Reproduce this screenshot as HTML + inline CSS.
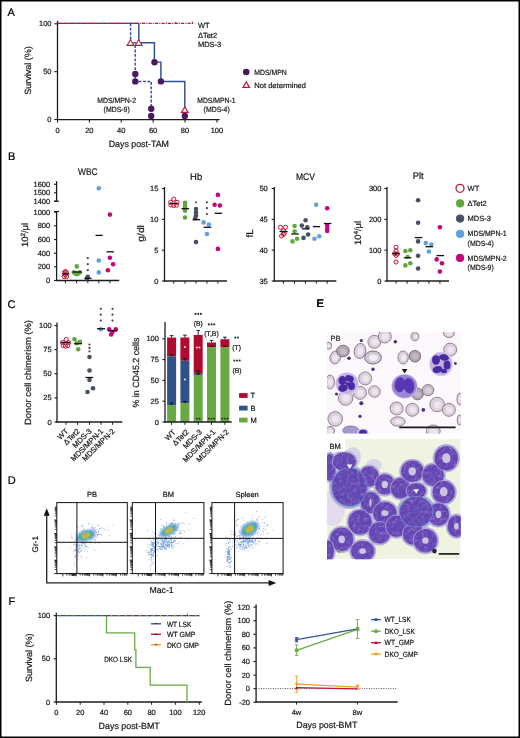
<!DOCTYPE html>
<html><head><meta charset="utf-8"><style>
html,body{margin:0;padding:0;background:#fff;}
svg{display:block;will-change:transform;}
text{font-family:"Liberation Sans", sans-serif;text-rendering:geometricPrecision;stroke:currentColor;stroke-width:0.22px;}
</style></head><body>
<svg width="520" height="738" viewBox="0 0 520 738">
<rect width="520" height="738" fill="#fff"/>
<rect x="0.75" y="0.75" width="518.5" height="736.5" fill="none" stroke="#000" stroke-width="1.5"/>
<text x="7.6" y="16" font-size="11" fill="#000" color="#000">A</text>
<text x="8.1" y="159.7" font-size="11" fill="#000" color="#000">B</text>
<text x="7.4" y="307.5" font-size="11" fill="#000" color="#000">C</text>
<text x="7.7" y="484" font-size="11" fill="#000" color="#000">D</text>
<text x="316.6" y="307" font-size="11" fill="#000" color="#000">E</text>
<text x="8.4" y="604.8" font-size="11" fill="#000" color="#000">F</text>
<line x1="57.50" y1="20.80" x2="57.50" y2="120.10" stroke="#1c1c1c" stroke-width="1.3"/>
<line x1="56.90" y1="119.70" x2="219.60" y2="119.70" stroke="#1c1c1c" stroke-width="1.3"/>
<line x1="54.30" y1="119.50" x2="57.50" y2="119.50" stroke="#1c1c1c" stroke-width="1.1"/>
<text x="51.5" y="122.1" font-size="7.5" text-anchor="end" fill="#1a1a1a" color="#1a1a1a">0</text>
<line x1="54.30" y1="71.65" x2="57.50" y2="71.65" stroke="#1c1c1c" stroke-width="1.1"/>
<text x="51.5" y="74.25" font-size="7.5" text-anchor="end" fill="#1a1a1a" color="#1a1a1a">50</text>
<line x1="54.30" y1="23.80" x2="57.50" y2="23.80" stroke="#1c1c1c" stroke-width="1.1"/>
<text x="51.5" y="26.4" font-size="7.5" text-anchor="end" fill="#1a1a1a" color="#1a1a1a">100</text>
<line x1="57.50" y1="119.50" x2="57.50" y2="122.60" stroke="#1c1c1c" stroke-width="1.1"/>
<text x="57.5" y="133" font-size="7.5" text-anchor="middle" fill="#1a1a1a" color="#1a1a1a">0</text>
<line x1="89.38" y1="119.50" x2="89.38" y2="122.60" stroke="#1c1c1c" stroke-width="1.1"/>
<text x="89.38" y="133" font-size="7.5" text-anchor="middle" fill="#1a1a1a" color="#1a1a1a">20</text>
<line x1="121.26" y1="119.50" x2="121.26" y2="122.60" stroke="#1c1c1c" stroke-width="1.1"/>
<text x="121.26" y="133" font-size="7.5" text-anchor="middle" fill="#1a1a1a" color="#1a1a1a">40</text>
<line x1="153.14" y1="119.50" x2="153.14" y2="122.60" stroke="#1c1c1c" stroke-width="1.1"/>
<text x="153.14" y="133" font-size="7.5" text-anchor="middle" fill="#1a1a1a" color="#1a1a1a">60</text>
<line x1="185.02" y1="119.50" x2="185.02" y2="122.60" stroke="#1c1c1c" stroke-width="1.1"/>
<text x="185.02" y="133" font-size="7.5" text-anchor="middle" fill="#1a1a1a" color="#1a1a1a">80</text>
<line x1="216.90" y1="119.50" x2="216.90" y2="122.60" stroke="#1c1c1c" stroke-width="1.1"/>
<text x="216.9" y="133" font-size="7.5" text-anchor="middle" fill="#1a1a1a" color="#1a1a1a">100</text>
<text x="0" y="0" font-size="9" text-anchor="middle" textLength="48.5" lengthAdjust="spacingAndGlyphs" fill="#1a1a1a" color="#1a1a1a" transform="translate(31.4,70.4) rotate(-90)">Survival (%)</text>
<text x="138.8" y="146.8" font-size="9" text-anchor="middle" textLength="60.2" lengthAdjust="spacingAndGlyphs" fill="#1a1a1a" color="#1a1a1a">Days post-TAM</text>
<line x1="57.50" y1="23.40" x2="138.80" y2="23.40" stroke="#2c5090" stroke-width="1.35"/>
<path d="M138.8 23.4 V42.8 H154.4 V62.1 H160.9 V81.4 H184.8 V110" stroke="#2c5090" stroke-width="1.45" fill="none"/>
<path d="M130.6 23.4 V42.8 H135.2 V81.4 H151.2 V107" stroke="#2c5090" stroke-width="1.45" fill="none" stroke-dasharray="2.8 1.6"/>
<path d="M57.5 23.4 H193" stroke="#c0143c" stroke-width="1.35" fill="none" stroke-dasharray="3.2 1.1 1.1 1.1"/>
<line x1="175.80" y1="21.60" x2="175.80" y2="24.00" stroke="#c0143c" stroke-width="0.9"/>
<line x1="192.40" y1="21.60" x2="192.40" y2="24.00" stroke="#c0143c" stroke-width="0.9"/>
<path d="M130.50 39.80 L127.10 45.30 L133.90 45.30 Z" fill="#fff" stroke="#c0143c" stroke-width="1.15" stroke-linejoin="miter"/>
<path d="M138.70 39.80 L135.30 45.30 L142.10 45.30 Z" fill="#fff" stroke="#c0143c" stroke-width="1.15" stroke-linejoin="miter"/>
<path d="M184.80 106.90 L181.40 112.40 L188.20 112.40 Z" fill="#fff" stroke="#c0143c" stroke-width="1.15" stroke-linejoin="miter"/>
<circle cx="154.50" cy="62.20" r="3.2" fill="#4a1a5e"/>
<circle cx="160.90" cy="81.40" r="3.2" fill="#4a1a5e"/>
<circle cx="135.30" cy="74.00" r="3.2" fill="#4a1a5e"/>
<circle cx="135.30" cy="81.40" r="3.2" fill="#4a1a5e"/>
<circle cx="151.20" cy="108.80" r="3.2" fill="#4a1a5e"/>
<circle cx="151.20" cy="116.00" r="3.2" fill="#4a1a5e"/>
<circle cx="184.80" cy="116.00" r="3.2" fill="#4a1a5e"/>
<text x="197.9" y="28.3" font-size="7.5" fill="#1a1a1a" color="#1a1a1a">WT</text>
<text x="197.9" y="37.8" font-size="7.5" fill="#1a1a1a" color="#1a1a1a">&#916;Tet2</text>
<text x="197.9" y="47" font-size="7.5" fill="#1a1a1a" color="#1a1a1a">MDS-3</text>
<text x="116.6" y="102.7" font-size="7.5" text-anchor="middle" textLength="38.9" lengthAdjust="spacingAndGlyphs" fill="#1a1a1a" color="#1a1a1a">MDS/MPN-2</text>
<text x="116.7" y="111.9" font-size="7.5" text-anchor="middle" textLength="26.2" lengthAdjust="spacingAndGlyphs" fill="#1a1a1a" color="#1a1a1a">(MDS-9)</text>
<text x="216.4" y="102.6" font-size="7.5" text-anchor="middle" textLength="38.4" lengthAdjust="spacingAndGlyphs" fill="#1a1a1a" color="#1a1a1a">MDS/MPN-1</text>
<text x="216.7" y="111.9" font-size="7.5" text-anchor="middle" textLength="26.2" lengthAdjust="spacingAndGlyphs" fill="#1a1a1a" color="#1a1a1a">(MDS-4)</text>
<circle cx="246.20" cy="72.00" r="3.3" fill="#4a1a5e"/>
<text x="254.3" y="75.4" font-size="7.5" textLength="32.5" lengthAdjust="spacingAndGlyphs" fill="#1a1a1a" color="#1a1a1a">MDS/MPN</text>
<path d="M246.20 81.90 L242.90 87.40 L249.50 87.40 Z" fill="#fff" stroke="#c0143c" stroke-width="1.15" stroke-linejoin="miter"/>
<text x="254.3" y="87.8" font-size="7.5" textLength="51.7" lengthAdjust="spacingAndGlyphs" fill="#1a1a1a" color="#1a1a1a">Not determined</text>
<line x1="56.60" y1="211.50" x2="56.60" y2="281.10" stroke="#1c1c1c" stroke-width="1.3"/>
<line x1="56.00" y1="280.50" x2="119.20" y2="280.50" stroke="#1c1c1c" stroke-width="1.3"/>
<line x1="54.20" y1="211.50" x2="59.00" y2="211.50" stroke="#1c1c1c" stroke-width="1.2"/>
<line x1="54.00" y1="280.50" x2="56.60" y2="280.50" stroke="#1c1c1c" stroke-width="1.1"/>
<text x="50.2" y="283.0" font-size="7.5" text-anchor="end" fill="#1a1a1a" color="#1a1a1a">0</text>
<line x1="54.00" y1="266.84" x2="56.60" y2="266.84" stroke="#1c1c1c" stroke-width="1.1"/>
<text x="50.2" y="269.34" font-size="7.5" text-anchor="end" fill="#1a1a1a" color="#1a1a1a">200</text>
<line x1="54.00" y1="253.18" x2="56.60" y2="253.18" stroke="#1c1c1c" stroke-width="1.1"/>
<text x="50.2" y="255.68" font-size="7.5" text-anchor="end" fill="#1a1a1a" color="#1a1a1a">400</text>
<line x1="54.00" y1="239.52" x2="56.60" y2="239.52" stroke="#1c1c1c" stroke-width="1.1"/>
<text x="50.2" y="242.02" font-size="7.5" text-anchor="end" fill="#1a1a1a" color="#1a1a1a">600</text>
<line x1="54.00" y1="225.86" x2="56.60" y2="225.86" stroke="#1c1c1c" stroke-width="1.1"/>
<text x="50.2" y="228.36" font-size="7.5" text-anchor="end" fill="#1a1a1a" color="#1a1a1a">800</text>
<line x1="54.00" y1="212.20" x2="56.60" y2="212.20" stroke="#1c1c1c" stroke-width="1.1"/>
<text x="50.2" y="214.7" font-size="7.5" text-anchor="end" fill="#1a1a1a" color="#1a1a1a">1000</text>
<line x1="56.60" y1="181.20" x2="56.60" y2="201.20" stroke="#1c1c1c" stroke-width="1.3"/>
<line x1="54.20" y1="201.20" x2="59.00" y2="201.20" stroke="#1c1c1c" stroke-width="1.2"/>
<line x1="54.00" y1="184.30" x2="56.60" y2="184.30" stroke="#1c1c1c" stroke-width="1.1"/>
<text x="50.2" y="186.8" font-size="7.5" text-anchor="end" fill="#1a1a1a" color="#1a1a1a">1600</text>
<line x1="54.00" y1="192.80" x2="56.60" y2="192.80" stroke="#1c1c1c" stroke-width="1.1"/>
<text x="50.2" y="195.3" font-size="7.5" text-anchor="end" fill="#1a1a1a" color="#1a1a1a">1500</text>
<line x1="54.00" y1="201.20" x2="56.60" y2="201.20" stroke="#1c1c1c" stroke-width="1.1"/>
<text x="50.2" y="203.7" font-size="7.5" text-anchor="end" fill="#1a1a1a" color="#1a1a1a">1400</text>
<line x1="65.40" y1="280.50" x2="65.40" y2="283.20" stroke="#1c1c1c" stroke-width="1.0"/>
<line x1="76.60" y1="280.50" x2="76.60" y2="283.20" stroke="#1c1c1c" stroke-width="1.0"/>
<line x1="87.80" y1="280.50" x2="87.80" y2="283.20" stroke="#1c1c1c" stroke-width="1.0"/>
<line x1="98.80" y1="280.50" x2="98.80" y2="283.20" stroke="#1c1c1c" stroke-width="1.0"/>
<line x1="109.90" y1="280.50" x2="109.90" y2="283.20" stroke="#1c1c1c" stroke-width="1.0"/>
<text x="87.75" y="174.5" font-size="9.6" text-anchor="middle" textLength="19.5" lengthAdjust="spacingAndGlyphs" fill="#1a1a1a" color="#1a1a1a">WBC</text>
<text x="0" y="0" font-size="9.2" text-anchor="middle" fill="#1a1a1a" color="#1a1a1a" textLength="24.2" lengthAdjust="spacingAndGlyphs" transform="translate(28.3,235) rotate(-90)">10<tspan font-size="6.2" dy="-3.4">2</tspan><tspan dy="3.4">/&#956;l</tspan></text>
<line x1="164.50" y1="187.00" x2="164.50" y2="281.60" stroke="#1c1c1c" stroke-width="1.3"/>
<line x1="163.90" y1="281.00" x2="227.00" y2="281.00" stroke="#1c1c1c" stroke-width="1.3"/>
<line x1="161.90" y1="281.00" x2="164.50" y2="281.00" stroke="#1c1c1c" stroke-width="1.1"/>
<text x="158.4" y="283.5" font-size="7.5" text-anchor="end" fill="#1a1a1a" color="#1a1a1a">0</text>
<line x1="161.90" y1="250.20" x2="164.50" y2="250.20" stroke="#1c1c1c" stroke-width="1.1"/>
<text x="158.4" y="252.7" font-size="7.5" text-anchor="end" fill="#1a1a1a" color="#1a1a1a">5</text>
<line x1="161.90" y1="219.40" x2="164.50" y2="219.40" stroke="#1c1c1c" stroke-width="1.1"/>
<text x="158.4" y="221.9" font-size="7.5" text-anchor="end" fill="#1a1a1a" color="#1a1a1a">10</text>
<line x1="161.90" y1="188.60" x2="164.50" y2="188.60" stroke="#1c1c1c" stroke-width="1.1"/>
<text x="158.4" y="191.1" font-size="7.5" text-anchor="end" fill="#1a1a1a" color="#1a1a1a">15</text>
<line x1="173.80" y1="281.00" x2="173.80" y2="283.70" stroke="#1c1c1c" stroke-width="1.0"/>
<line x1="185.00" y1="281.00" x2="185.00" y2="283.70" stroke="#1c1c1c" stroke-width="1.0"/>
<line x1="196.00" y1="281.00" x2="196.00" y2="283.70" stroke="#1c1c1c" stroke-width="1.0"/>
<line x1="206.90" y1="281.00" x2="206.90" y2="283.70" stroke="#1c1c1c" stroke-width="1.0"/>
<line x1="217.90" y1="281.00" x2="217.90" y2="283.70" stroke="#1c1c1c" stroke-width="1.0"/>
<text x="196.1" y="180" font-size="9.6" text-anchor="middle" textLength="12.1" lengthAdjust="spacingAndGlyphs" fill="#1a1a1a" color="#1a1a1a">Hb</text>
<text x="0" y="0" font-size="9.6" text-anchor="middle" textLength="16.6" lengthAdjust="spacingAndGlyphs" fill="#1a1a1a" color="#1a1a1a" transform="translate(143.8,233.4) rotate(-90)">g/dl</text>
<line x1="274.30" y1="187.00" x2="274.30" y2="281.60" stroke="#1c1c1c" stroke-width="1.3"/>
<line x1="273.70" y1="281.00" x2="336.30" y2="281.00" stroke="#1c1c1c" stroke-width="1.3"/>
<line x1="271.70" y1="281.00" x2="274.30" y2="281.00" stroke="#1c1c1c" stroke-width="1.1"/>
<text x="267.8" y="283.5" font-size="7.5" text-anchor="end" fill="#1a1a1a" color="#1a1a1a">35</text>
<line x1="271.70" y1="250.20" x2="274.30" y2="250.20" stroke="#1c1c1c" stroke-width="1.1"/>
<text x="267.8" y="252.7" font-size="7.5" text-anchor="end" fill="#1a1a1a" color="#1a1a1a">40</text>
<line x1="271.70" y1="219.40" x2="274.30" y2="219.40" stroke="#1c1c1c" stroke-width="1.1"/>
<text x="267.8" y="221.9" font-size="7.5" text-anchor="end" fill="#1a1a1a" color="#1a1a1a">45</text>
<line x1="271.70" y1="188.60" x2="274.30" y2="188.60" stroke="#1c1c1c" stroke-width="1.1"/>
<text x="267.8" y="191.1" font-size="7.5" text-anchor="end" fill="#1a1a1a" color="#1a1a1a">50</text>
<line x1="283.40" y1="281.00" x2="283.40" y2="283.70" stroke="#1c1c1c" stroke-width="1.0"/>
<line x1="294.50" y1="281.00" x2="294.50" y2="283.70" stroke="#1c1c1c" stroke-width="1.0"/>
<line x1="305.40" y1="281.00" x2="305.40" y2="283.70" stroke="#1c1c1c" stroke-width="1.0"/>
<line x1="316.30" y1="281.00" x2="316.30" y2="283.70" stroke="#1c1c1c" stroke-width="1.0"/>
<line x1="327.20" y1="281.00" x2="327.20" y2="283.70" stroke="#1c1c1c" stroke-width="1.0"/>
<text x="305.5" y="180" font-size="9.6" text-anchor="middle" textLength="19" lengthAdjust="spacingAndGlyphs" fill="#1a1a1a" color="#1a1a1a">MCV</text>
<text x="0" y="0" font-size="9.6" text-anchor="middle" textLength="8.4" lengthAdjust="spacingAndGlyphs" fill="#1a1a1a" color="#1a1a1a" transform="translate(253.3,233.4) rotate(-90)">fL</text>
<line x1="387.00" y1="187.00" x2="387.00" y2="281.60" stroke="#1c1c1c" stroke-width="1.3"/>
<line x1="386.40" y1="281.00" x2="449.00" y2="281.00" stroke="#1c1c1c" stroke-width="1.3"/>
<line x1="384.40" y1="281.00" x2="387.00" y2="281.00" stroke="#1c1c1c" stroke-width="1.1"/>
<text x="381.4" y="283.5" font-size="7.5" text-anchor="end" fill="#1a1a1a" color="#1a1a1a">0</text>
<line x1="384.40" y1="250.20" x2="387.00" y2="250.20" stroke="#1c1c1c" stroke-width="1.1"/>
<text x="381.4" y="252.7" font-size="7.5" text-anchor="end" fill="#1a1a1a" color="#1a1a1a">100</text>
<line x1="384.40" y1="219.40" x2="387.00" y2="219.40" stroke="#1c1c1c" stroke-width="1.1"/>
<text x="381.4" y="221.9" font-size="7.5" text-anchor="end" fill="#1a1a1a" color="#1a1a1a">200</text>
<line x1="384.40" y1="188.60" x2="387.00" y2="188.60" stroke="#1c1c1c" stroke-width="1.1"/>
<text x="381.4" y="191.1" font-size="7.5" text-anchor="end" fill="#1a1a1a" color="#1a1a1a">300</text>
<line x1="396.10" y1="281.00" x2="396.10" y2="283.70" stroke="#1c1c1c" stroke-width="1.0"/>
<line x1="407.10" y1="281.00" x2="407.10" y2="283.70" stroke="#1c1c1c" stroke-width="1.0"/>
<line x1="418.10" y1="281.00" x2="418.10" y2="283.70" stroke="#1c1c1c" stroke-width="1.0"/>
<line x1="428.90" y1="281.00" x2="428.90" y2="283.70" stroke="#1c1c1c" stroke-width="1.0"/>
<line x1="439.90" y1="281.00" x2="439.90" y2="283.70" stroke="#1c1c1c" stroke-width="1.0"/>
<text x="418.2" y="178.7" font-size="9.6" text-anchor="middle" textLength="10.8" lengthAdjust="spacingAndGlyphs" fill="#1a1a1a" color="#1a1a1a">Plt</text>
<text x="0" y="0" font-size="9.2" text-anchor="middle" fill="#1a1a1a" color="#1a1a1a" textLength="24" lengthAdjust="spacingAndGlyphs" transform="translate(361,232.9) rotate(-90)">10<tspan font-size="6.2" dy="-3.4">4</tspan><tspan dy="3.4">/&#956;l</tspan></text>
<circle cx="64.30" cy="272.60" r="2.05" fill="none" stroke="#c0143c" stroke-width="1.0"/>
<circle cx="66.50" cy="272.60" r="2.05" fill="none" stroke="#c0143c" stroke-width="1.0"/>
<circle cx="65.40" cy="274.80" r="2.05" fill="none" stroke="#c0143c" stroke-width="1.0"/>
<circle cx="64.20" cy="276.60" r="2.05" fill="none" stroke="#c0143c" stroke-width="1.0"/>
<circle cx="66.60" cy="276.60" r="2.05" fill="none" stroke="#c0143c" stroke-width="1.0"/>
<circle cx="65.40" cy="271.50" r="2.05" fill="none" stroke="#c0143c" stroke-width="1.0"/>
<line x1="62.50" y1="273.90" x2="69.30" y2="273.90" stroke="#111" stroke-width="1.3"/>
<circle cx="76.80" cy="266.40" r="2.3" fill="#62a640"/>
<circle cx="73.80" cy="272.20" r="2.3" fill="#62a640"/>
<circle cx="79.80" cy="272.20" r="2.3" fill="#62a640"/>
<circle cx="75.30" cy="273.40" r="2.3" fill="#62a640"/>
<circle cx="78.30" cy="273.40" r="2.3" fill="#62a640"/>
<circle cx="76.80" cy="274.20" r="2.3" fill="#62a640"/>
<line x1="72.60" y1="272.00" x2="82.00" y2="272.00" stroke="#111" stroke-width="1.3"/>
<circle cx="87.80" cy="258.20" r="1.1" fill="#444"/>
<circle cx="87.80" cy="264.20" r="1.1" fill="#444"/>
<circle cx="87.80" cy="270.20" r="1.1" fill="#444"/>
<circle cx="87.80" cy="276.90" r="2.3" fill="#485065"/>
<circle cx="87.10" cy="278.30" r="2.3" fill="#485065"/>
<line x1="84.40" y1="278.40" x2="91.60" y2="278.40" stroke="#111" stroke-width="1.3"/>
<circle cx="98.80" cy="188.20" r="2.3" fill="#5fa3dc"/>
<circle cx="98.80" cy="260.50" r="2.3" fill="#5fa3dc"/>
<circle cx="98.80" cy="272.40" r="2.3" fill="#5fa3dc"/>
<line x1="95.50" y1="235.40" x2="102.70" y2="235.40" stroke="#111" stroke-width="1.3"/>
<circle cx="109.90" cy="214.60" r="2.3" fill="#c5067a"/>
<circle cx="109.90" cy="257.80" r="2.3" fill="#c5067a"/>
<circle cx="113.10" cy="264.20" r="2.3" fill="#c5067a"/>
<circle cx="107.90" cy="270.20" r="2.3" fill="#c5067a"/>
<line x1="106.50" y1="251.80" x2="113.90" y2="251.80" stroke="#111" stroke-width="1.3"/>
<circle cx="170.60" cy="202.30" r="2.05" fill="none" stroke="#c0143c" stroke-width="1.0"/>
<circle cx="173.80" cy="199.10" r="2.05" fill="none" stroke="#c0143c" stroke-width="1.0"/>
<circle cx="177.00" cy="202.30" r="2.05" fill="none" stroke="#c0143c" stroke-width="1.0"/>
<circle cx="173.80" cy="205.50" r="2.05" fill="none" stroke="#c0143c" stroke-width="1.0"/>
<circle cx="170.90" cy="205.00" r="2.05" fill="none" stroke="#c0143c" stroke-width="1.0"/>
<circle cx="176.50" cy="205.20" r="2.05" fill="none" stroke="#c0143c" stroke-width="1.0"/>
<line x1="169.70" y1="203.40" x2="178.10" y2="203.40" stroke="#111" stroke-width="1.3"/>
<circle cx="185.00" cy="202.70" r="2.3" fill="#62a640"/>
<circle cx="185.00" cy="205.00" r="2.3" fill="#62a640"/>
<circle cx="185.00" cy="207.60" r="2.3" fill="#62a640"/>
<circle cx="185.00" cy="210.80" r="2.3" fill="#62a640"/>
<circle cx="185.00" cy="217.50" r="2.3" fill="#62a640"/>
<line x1="181.50" y1="208.70" x2="189.10" y2="208.70" stroke="#111" stroke-width="1.3"/>
<circle cx="196.00" cy="202.30" r="0.95" fill="#444"/>
<circle cx="196.00" cy="209.00" r="2.3" fill="#485065"/>
<circle cx="196.00" cy="212.50" r="2.3" fill="#485065"/>
<circle cx="196.00" cy="215.40" r="2.3" fill="#485065"/>
<circle cx="195.20" cy="218.20" r="2.3" fill="#485065"/>
<circle cx="196.00" cy="242.10" r="2.3" fill="#485065"/>
<line x1="192.60" y1="219.70" x2="200.20" y2="219.70" stroke="#111" stroke-width="1.3"/>
<circle cx="206.90" cy="202.30" r="1.1" fill="#444"/>
<circle cx="206.90" cy="208.20" r="1.1" fill="#444"/>
<circle cx="206.90" cy="214.10" r="1.1" fill="#444"/>
<circle cx="203.60" cy="222.40" r="2.3" fill="#5fa3dc"/>
<circle cx="208.90" cy="224.50" r="2.3" fill="#5fa3dc"/>
<circle cx="206.90" cy="234.00" r="2.3" fill="#5fa3dc"/>
<line x1="203.70" y1="227.30" x2="211.30" y2="227.30" stroke="#111" stroke-width="1.3"/>
<circle cx="217.90" cy="194.90" r="2.3" fill="#c5067a"/>
<circle cx="214.60" cy="204.80" r="2.3" fill="#c5067a"/>
<circle cx="219.90" cy="205.50" r="2.3" fill="#c5067a"/>
<circle cx="217.90" cy="248.90" r="2.3" fill="#c5067a"/>
<line x1="214.70" y1="213.30" x2="222.10" y2="213.30" stroke="#111" stroke-width="1.3"/>
<circle cx="280.40" cy="227.30" r="2.05" fill="none" stroke="#c0143c" stroke-width="1.0"/>
<circle cx="285.50" cy="227.30" r="2.05" fill="none" stroke="#c0143c" stroke-width="1.0"/>
<circle cx="283.40" cy="230.90" r="2.05" fill="none" stroke="#c0143c" stroke-width="1.0"/>
<circle cx="283.40" cy="234.30" r="2.05" fill="none" stroke="#c0143c" stroke-width="1.0"/>
<circle cx="281.60" cy="236.00" r="2.05" fill="none" stroke="#c0143c" stroke-width="1.0"/>
<circle cx="284.30" cy="233.20" r="2.05" fill="none" stroke="#c0143c" stroke-width="1.0"/>
<line x1="279.60" y1="231.50" x2="287.60" y2="231.50" stroke="#111" stroke-width="1.3"/>
<circle cx="294.60" cy="226.00" r="2.3" fill="#62a640"/>
<circle cx="294.60" cy="231.50" r="2.3" fill="#62a640"/>
<circle cx="292.50" cy="241.40" r="2.3" fill="#62a640"/>
<circle cx="297.10" cy="238.70" r="2.3" fill="#62a640"/>
<line x1="291.20" y1="234.00" x2="298.80" y2="234.00" stroke="#111" stroke-width="1.3"/>
<circle cx="305.60" cy="220.30" r="2.3" fill="#485065"/>
<circle cx="301.80" cy="225.60" r="2.3" fill="#485065"/>
<circle cx="307.30" cy="227.30" r="2.3" fill="#485065"/>
<circle cx="308.10" cy="234.50" r="2.3" fill="#485065"/>
<circle cx="303.50" cy="237.90" r="2.3" fill="#485065"/>
<line x1="301.80" y1="228.80" x2="309.40" y2="228.80" stroke="#111" stroke-width="1.3"/>
<circle cx="316.20" cy="204.80" r="2.3" fill="#5fa3dc"/>
<circle cx="314.50" cy="238.70" r="2.3" fill="#5fa3dc"/>
<circle cx="319.30" cy="236.20" r="2.3" fill="#5fa3dc"/>
<line x1="312.90" y1="226.60" x2="320.10" y2="226.60" stroke="#111" stroke-width="1.3"/>
<circle cx="327.20" cy="208.20" r="2.3" fill="#c5067a"/>
<circle cx="327.20" cy="225.60" r="2.3" fill="#c5067a"/>
<circle cx="327.20" cy="228.80" r="2.3" fill="#c5067a"/>
<circle cx="327.20" cy="230.90" r="2.3" fill="#c5067a"/>
<line x1="323.80" y1="223.50" x2="331.40" y2="223.50" stroke="#111" stroke-width="1.3"/>
<circle cx="396.10" cy="247.20" r="2.05" fill="none" stroke="#c0143c" stroke-width="1.0"/>
<circle cx="396.10" cy="250.70" r="2.05" fill="none" stroke="#c0143c" stroke-width="1.0"/>
<circle cx="394.60" cy="253.60" r="2.05" fill="none" stroke="#c0143c" stroke-width="1.0"/>
<circle cx="397.40" cy="254.00" r="2.05" fill="none" stroke="#c0143c" stroke-width="1.0"/>
<circle cx="396.10" cy="255.40" r="2.05" fill="none" stroke="#c0143c" stroke-width="1.0"/>
<circle cx="396.10" cy="262.00" r="2.05" fill="none" stroke="#c0143c" stroke-width="1.0"/>
<line x1="392.30" y1="253.50" x2="399.70" y2="253.50" stroke="#111" stroke-width="1.3"/>
<circle cx="405.40" cy="251.00" r="2.3" fill="#62a640"/>
<circle cx="410.30" cy="250.30" r="2.3" fill="#62a640"/>
<circle cx="405.40" cy="265.40" r="2.3" fill="#62a640"/>
<circle cx="410.30" cy="263.20" r="2.3" fill="#62a640"/>
<circle cx="407.60" cy="257.00" r="2.3" fill="#62a640"/>
<line x1="403.80" y1="257.70" x2="411.40" y2="257.70" stroke="#111" stroke-width="1.3"/>
<circle cx="418.10" cy="200.20" r="2.3" fill="#485065"/>
<circle cx="418.10" cy="222.80" r="2.3" fill="#485065"/>
<circle cx="418.10" cy="241.40" r="2.3" fill="#485065"/>
<circle cx="418.10" cy="255.80" r="2.3" fill="#485065"/>
<circle cx="418.10" cy="268.50" r="2.3" fill="#485065"/>
<line x1="414.80" y1="237.60" x2="422.40" y2="237.60" stroke="#111" stroke-width="1.3"/>
<circle cx="425.70" cy="243.10" r="2.3" fill="#5fa3dc"/>
<circle cx="431.40" cy="244.60" r="2.3" fill="#5fa3dc"/>
<circle cx="428.90" cy="251.60" r="2.3" fill="#5fa3dc"/>
<line x1="425.50" y1="246.70" x2="433.10" y2="246.70" stroke="#111" stroke-width="1.3"/>
<circle cx="439.90" cy="227.30" r="2.3" fill="#c5067a"/>
<circle cx="436.70" cy="259.40" r="2.3" fill="#c5067a"/>
<circle cx="442.00" cy="263.20" r="2.3" fill="#c5067a"/>
<circle cx="439.90" cy="271.50" r="2.3" fill="#c5067a"/>
<line x1="436.50" y1="255.60" x2="444.10" y2="255.60" stroke="#111" stroke-width="1.3"/>
<circle cx="460.00" cy="188.30" r="4.0" fill="#fff" stroke="#c0143c" stroke-width="1.3"/>
<circle cx="460.10" cy="203.40" r="4.1" fill="#62a640"/>
<circle cx="460.10" cy="218.60" r="4.1" fill="#485065"/>
<circle cx="460.10" cy="233.90" r="4.1" fill="#5fa3dc"/>
<circle cx="460.10" cy="257.90" r="4.1" fill="#c5067a"/>
<text x="467.6" y="190.9" font-size="7.5" fill="#1a1a1a" color="#1a1a1a">WT</text>
<text x="467.6" y="206.0" font-size="7.5" fill="#1a1a1a" color="#1a1a1a">&#916;Tet2</text>
<text x="467.6" y="221.2" font-size="7.5" fill="#1a1a1a" color="#1a1a1a">MDS-3</text>
<text x="467.6" y="236.4" font-size="7.5" textLength="39" lengthAdjust="spacingAndGlyphs" fill="#1a1a1a" color="#1a1a1a">MDS/MPN-1</text>
<text x="467.6" y="245.7" font-size="7.5" textLength="26.2" lengthAdjust="spacingAndGlyphs" fill="#1a1a1a" color="#1a1a1a">(MDS-4)</text>
<text x="467.6" y="260.5" font-size="7.5" textLength="39" lengthAdjust="spacingAndGlyphs" fill="#1a1a1a" color="#1a1a1a">MDS/MPN-2</text>
<text x="467.6" y="269.8" font-size="7.5" textLength="26.2" lengthAdjust="spacingAndGlyphs" fill="#1a1a1a" color="#1a1a1a">(MDS-9)</text>
<line x1="57.00" y1="322.50" x2="57.00" y2="422.60" stroke="#1c1c1c" stroke-width="1.3"/>
<line x1="56.40" y1="422.00" x2="122.30" y2="422.00" stroke="#1c1c1c" stroke-width="1.3"/>
<line x1="54.40" y1="422.00" x2="57.00" y2="422.00" stroke="#1c1c1c" stroke-width="1.1"/>
<text x="51.6" y="424.5" font-size="7.5" text-anchor="end" fill="#1a1a1a" color="#1a1a1a">0</text>
<line x1="54.40" y1="397.88" x2="57.00" y2="397.88" stroke="#1c1c1c" stroke-width="1.1"/>
<text x="51.6" y="400.375" font-size="7.5" text-anchor="end" fill="#1a1a1a" color="#1a1a1a">25</text>
<line x1="54.40" y1="373.75" x2="57.00" y2="373.75" stroke="#1c1c1c" stroke-width="1.1"/>
<text x="51.6" y="376.25" font-size="7.5" text-anchor="end" fill="#1a1a1a" color="#1a1a1a">50</text>
<line x1="54.40" y1="349.62" x2="57.00" y2="349.62" stroke="#1c1c1c" stroke-width="1.1"/>
<text x="51.6" y="352.125" font-size="7.5" text-anchor="end" fill="#1a1a1a" color="#1a1a1a">75</text>
<line x1="54.40" y1="325.50" x2="57.00" y2="325.50" stroke="#1c1c1c" stroke-width="1.1"/>
<text x="51.6" y="328.0" font-size="7.5" text-anchor="end" fill="#1a1a1a" color="#1a1a1a">100</text>
<line x1="66.00" y1="422.00" x2="66.00" y2="424.80" stroke="#1c1c1c" stroke-width="1.0"/>
<text x="0" y="0" font-size="7.6" text-anchor="end" fill="#1a1a1a" color="#1a1a1a" transform="translate(68.7,431.7) rotate(-45)">WT</text>
<line x1="77.60" y1="422.00" x2="77.60" y2="424.80" stroke="#1c1c1c" stroke-width="1.0"/>
<text x="0" y="0" font-size="7.6" text-anchor="end" fill="#1a1a1a" color="#1a1a1a" transform="translate(80.3,431.7) rotate(-45)">&#916;Tet2</text>
<line x1="89.50" y1="422.00" x2="89.50" y2="424.80" stroke="#1c1c1c" stroke-width="1.0"/>
<text x="0" y="0" font-size="7.6" text-anchor="end" fill="#1a1a1a" color="#1a1a1a" transform="translate(92.2,431.7) rotate(-45)">MDS-3</text>
<line x1="101.10" y1="422.00" x2="101.10" y2="424.80" stroke="#1c1c1c" stroke-width="1.0"/>
<text x="0" y="0" font-size="7.6" text-anchor="end" fill="#1a1a1a" color="#1a1a1a" transform="translate(103.8,431.7) rotate(-45)">MDS/MPN-1</text>
<line x1="112.60" y1="422.00" x2="112.60" y2="424.80" stroke="#1c1c1c" stroke-width="1.0"/>
<text x="0" y="0" font-size="7.6" text-anchor="end" fill="#1a1a1a" color="#1a1a1a" transform="translate(115.3,431.7) rotate(-45)">MDS/MPN-2</text>
<text x="0" y="0" font-size="9" text-anchor="middle" textLength="105" lengthAdjust="spacingAndGlyphs" fill="#1a1a1a" color="#1a1a1a" transform="translate(31.2,372.5) rotate(-90)">Donor cell chimerism (%)</text>
<circle cx="62.50" cy="342.50" r="2.05" fill="none" stroke="#c0143c" stroke-width="1.0"/>
<circle cx="66.20" cy="339.50" r="2.05" fill="none" stroke="#c0143c" stroke-width="1.0"/>
<circle cx="68.70" cy="342.50" r="2.05" fill="none" stroke="#c0143c" stroke-width="1.0"/>
<circle cx="65.50" cy="346.20" r="2.05" fill="none" stroke="#c0143c" stroke-width="1.0"/>
<circle cx="63.30" cy="345.60" r="2.05" fill="none" stroke="#c0143c" stroke-width="1.0"/>
<circle cx="67.90" cy="345.60" r="2.05" fill="none" stroke="#c0143c" stroke-width="1.0"/>
<line x1="61.00" y1="342.50" x2="70.00" y2="342.50" stroke="#111" stroke-width="1.3"/>
<circle cx="74.50" cy="339.20" r="2.3" fill="#62a640"/>
<circle cx="80.00" cy="341.70" r="2.3" fill="#62a640"/>
<circle cx="78.20" cy="349.20" r="2.3" fill="#62a640"/>
<circle cx="76.80" cy="343.20" r="2.3" fill="#62a640"/>
<line x1="74.00" y1="343.70" x2="82.00" y2="343.70" stroke="#111" stroke-width="1.3"/>
<circle cx="89.50" cy="344.50" r="1.1" fill="#444"/>
<circle cx="89.50" cy="347.90" r="1.1" fill="#444"/>
<circle cx="89.50" cy="351.30" r="1.1" fill="#444"/>
<circle cx="89.50" cy="357.00" r="2.3" fill="#485065"/>
<circle cx="89.50" cy="370.50" r="2.3" fill="#485065"/>
<circle cx="89.50" cy="380.00" r="2.3" fill="#485065"/>
<circle cx="87.50" cy="392.00" r="2.3" fill="#485065"/>
<circle cx="93.00" cy="388.20" r="2.3" fill="#485065"/>
<line x1="85.50" y1="377.50" x2="93.10" y2="377.50" stroke="#111" stroke-width="1.3"/>
<circle cx="100.80" cy="308.80" r="1.1" fill="#444"/>
<circle cx="100.80" cy="314.70" r="1.1" fill="#444"/>
<circle cx="100.80" cy="320.60" r="1.1" fill="#444"/>
<circle cx="100.80" cy="329.20" r="2.3" fill="#5fa3dc"/>
<line x1="97.00" y1="328.70" x2="105.00" y2="328.70" stroke="#111" stroke-width="1.3"/>
<circle cx="112.50" cy="308.80" r="1.1" fill="#444"/>
<circle cx="112.50" cy="314.70" r="1.1" fill="#444"/>
<circle cx="112.50" cy="320.60" r="1.1" fill="#444"/>
<circle cx="109.20" cy="329.20" r="2.3" fill="#c5067a"/>
<circle cx="115.80" cy="329.20" r="2.3" fill="#c5067a"/>
<circle cx="112.50" cy="332.00" r="2.3" fill="#c5067a"/>
<circle cx="111.20" cy="334.50" r="2.3" fill="#c5067a"/>
<line x1="108.10" y1="330.80" x2="117.10" y2="330.80" stroke="#111" stroke-width="1.3"/>
<line x1="165.00" y1="322.00" x2="165.00" y2="422.60" stroke="#1c1c1c" stroke-width="1.3"/>
<line x1="162.40" y1="422.00" x2="165.00" y2="422.00" stroke="#1c1c1c" stroke-width="1.1"/>
<text x="158.9" y="424.5" font-size="7.5" text-anchor="end" fill="#1a1a1a" color="#1a1a1a">0</text>
<line x1="162.40" y1="401.19" x2="165.00" y2="401.19" stroke="#1c1c1c" stroke-width="1.1"/>
<text x="158.9" y="403.6875" font-size="7.5" text-anchor="end" fill="#1a1a1a" color="#1a1a1a">25</text>
<line x1="162.40" y1="380.38" x2="165.00" y2="380.38" stroke="#1c1c1c" stroke-width="1.1"/>
<text x="158.9" y="382.875" font-size="7.5" text-anchor="end" fill="#1a1a1a" color="#1a1a1a">50</text>
<line x1="162.40" y1="359.56" x2="165.00" y2="359.56" stroke="#1c1c1c" stroke-width="1.1"/>
<text x="158.9" y="362.0625" font-size="7.5" text-anchor="end" fill="#1a1a1a" color="#1a1a1a">75</text>
<line x1="162.40" y1="338.75" x2="165.00" y2="338.75" stroke="#1c1c1c" stroke-width="1.1"/>
<text x="158.9" y="341.25" font-size="7.5" text-anchor="end" fill="#1a1a1a" color="#1a1a1a">100</text>
<text x="0" y="0" font-size="9" text-anchor="middle" textLength="70" lengthAdjust="spacingAndGlyphs" fill="#1a1a1a" color="#1a1a1a" transform="translate(138.7,372.5) rotate(-90)">% in CD45.2 cells</text>
<rect x="167.10" y="337.58" width="9.0" height="18.65" fill="#b00a2e"/>
<rect x="167.10" y="356.23" width="9.0" height="48.78" fill="#2f5287"/>
<rect x="167.10" y="405.02" width="9.0" height="16.98" fill="#68a945"/>
<line x1="171.60" y1="337.58" x2="171.60" y2="335.59" stroke="#111" stroke-width="0.9"/>
<line x1="169.80" y1="335.59" x2="173.40" y2="335.59" stroke="#111" stroke-width="0.9"/>
<line x1="171.60" y1="356.23" x2="171.60" y2="354.57" stroke="#111" stroke-width="0.9"/>
<line x1="169.80" y1="354.57" x2="173.40" y2="354.57" stroke="#111" stroke-width="0.9"/>
<line x1="171.60" y1="405.02" x2="171.60" y2="402.94" stroke="#111" stroke-width="0.9"/>
<line x1="169.80" y1="402.94" x2="173.40" y2="402.94" stroke="#111" stroke-width="0.9"/>
<line x1="171.60" y1="422.00" x2="171.60" y2="424.80" stroke="#1c1c1c" stroke-width="1.0"/>
<rect x="180.40" y="337.50" width="9.0" height="23.23" fill="#b00a2e"/>
<rect x="180.40" y="360.73" width="9.0" height="42.29" fill="#2f5287"/>
<rect x="180.40" y="403.02" width="9.0" height="18.98" fill="#68a945"/>
<line x1="184.90" y1="337.50" x2="184.90" y2="335.17" stroke="#111" stroke-width="0.9"/>
<line x1="183.10" y1="335.17" x2="186.70" y2="335.17" stroke="#111" stroke-width="0.9"/>
<line x1="184.90" y1="360.73" x2="184.90" y2="358.56" stroke="#111" stroke-width="0.9"/>
<line x1="183.10" y1="358.56" x2="186.70" y2="358.56" stroke="#111" stroke-width="0.9"/>
<line x1="184.90" y1="403.02" x2="184.90" y2="401.52" stroke="#111" stroke-width="0.9"/>
<line x1="183.10" y1="401.52" x2="186.70" y2="401.52" stroke="#111" stroke-width="0.9"/>
<line x1="184.90" y1="422.00" x2="184.90" y2="424.80" stroke="#1c1c1c" stroke-width="1.0"/>
<rect x="193.70" y="335.00" width="9.0" height="38.21" fill="#b00a2e"/>
<rect x="193.70" y="373.22" width="9.0" height="1.75" fill="#2f5287"/>
<rect x="193.70" y="374.96" width="9.0" height="47.04" fill="#68a945"/>
<line x1="198.20" y1="335.00" x2="198.20" y2="330.43" stroke="#111" stroke-width="0.9"/>
<line x1="196.40" y1="330.43" x2="200.00" y2="330.43" stroke="#111" stroke-width="0.9"/>
<line x1="198.20" y1="373.22" x2="198.20" y2="370.72" stroke="#111" stroke-width="0.9"/>
<line x1="196.40" y1="370.72" x2="200.00" y2="370.72" stroke="#111" stroke-width="0.9"/>
<line x1="198.20" y1="374.96" x2="198.20" y2="373.71" stroke="#111" stroke-width="0.9"/>
<line x1="196.40" y1="373.71" x2="200.00" y2="373.71" stroke="#111" stroke-width="0.9"/>
<line x1="198.20" y1="422.00" x2="198.20" y2="424.80" stroke="#1c1c1c" stroke-width="1.0"/>
<rect x="207.00" y="342.50" width="9.0" height="4.58" fill="#b00a2e"/>
<rect x="207.00" y="347.07" width="9.0" height="74.93" fill="#68a945"/>
<line x1="211.50" y1="342.50" x2="211.50" y2="340.41" stroke="#111" stroke-width="0.9"/>
<line x1="209.70" y1="340.41" x2="213.30" y2="340.41" stroke="#111" stroke-width="0.9"/>
<line x1="211.50" y1="347.07" x2="211.50" y2="346.24" stroke="#111" stroke-width="0.9"/>
<line x1="209.70" y1="346.24" x2="213.30" y2="346.24" stroke="#111" stroke-width="0.9"/>
<line x1="211.50" y1="422.00" x2="211.50" y2="424.80" stroke="#1c1c1c" stroke-width="1.0"/>
<rect x="220.40" y="339.25" width="9.0" height="7.83" fill="#b00a2e"/>
<rect x="220.40" y="347.07" width="9.0" height="74.93" fill="#68a945"/>
<line x1="224.90" y1="339.25" x2="224.90" y2="337.17" stroke="#111" stroke-width="0.9"/>
<line x1="223.10" y1="337.17" x2="226.70" y2="337.17" stroke="#111" stroke-width="0.9"/>
<line x1="224.90" y1="347.07" x2="224.90" y2="346.24" stroke="#111" stroke-width="0.9"/>
<line x1="223.10" y1="346.24" x2="226.70" y2="346.24" stroke="#111" stroke-width="0.9"/>
<line x1="224.90" y1="422.00" x2="224.90" y2="424.80" stroke="#1c1c1c" stroke-width="1.0"/>
<line x1="164.40" y1="422.00" x2="231.70" y2="422.00" stroke="#1c1c1c" stroke-width="1.3"/>
<text x="0" y="0" font-size="7.6" text-anchor="end" fill="#1a1a1a" color="#1a1a1a" transform="translate(176.0,432.6) rotate(-45)">WT</text>
<text x="0" y="0" font-size="7.6" text-anchor="end" fill="#1a1a1a" color="#1a1a1a" transform="translate(189.3,432.6) rotate(-45)">&#916;Tet2</text>
<text x="0" y="0" font-size="7.6" text-anchor="end" fill="#1a1a1a" color="#1a1a1a" transform="translate(202.6,432.6) rotate(-45)">MDS-3</text>
<text x="0" y="0" font-size="7.6" text-anchor="end" fill="#1a1a1a" color="#1a1a1a" transform="translate(215.9,432.6) rotate(-45)">MDS/MPN-1</text>
<text x="0" y="0" font-size="7.6" text-anchor="end" fill="#1a1a1a" color="#1a1a1a" transform="translate(229.3,432.6) rotate(-45)">MDS/MPN-2</text>
<circle cx="184.90" cy="347.00" r="0.9" fill="#fff"/>
<circle cx="184.90" cy="379.50" r="0.9" fill="#fff"/>
<circle cx="196.90" cy="347.50" r="0.9" fill="#fff"/>
<circle cx="199.50" cy="347.50" r="0.9" fill="#fff"/>
<circle cx="196.90" cy="418.60" r="0.9" fill="#222"/>
<circle cx="199.50" cy="418.60" r="0.9" fill="#222"/>
<circle cx="208.90" cy="418.60" r="0.9" fill="#222"/>
<circle cx="211.50" cy="418.60" r="0.9" fill="#222"/>
<circle cx="214.10" cy="418.60" r="0.9" fill="#222"/>
<circle cx="222.30" cy="418.60" r="0.9" fill="#222"/>
<circle cx="224.90" cy="418.60" r="0.9" fill="#222"/>
<circle cx="227.50" cy="418.60" r="0.9" fill="#222"/>
<circle cx="195.50" cy="313.90" r="1.05" fill="#333"/>
<circle cx="198.20" cy="313.90" r="1.05" fill="#333"/>
<circle cx="200.90" cy="313.90" r="1.05" fill="#333"/>
<text x="198.2" y="325.6" font-size="6.8" text-anchor="middle" fill="#1a1a1a" color="#1a1a1a">(B)</text>
<circle cx="208.80" cy="324.40" r="1.05" fill="#333"/>
<circle cx="211.50" cy="324.40" r="1.05" fill="#333"/>
<circle cx="214.20" cy="324.40" r="1.05" fill="#333"/>
<text x="211.5" y="336.2" font-size="6.8" text-anchor="middle" fill="#1a1a1a" color="#1a1a1a">(T,B)</text>
<circle cx="235.25" cy="337.60" r="1.05" fill="#333"/>
<circle cx="237.95" cy="337.60" r="1.05" fill="#333"/>
<text x="236.6" y="349.7" font-size="6.8" text-anchor="middle" fill="#1a1a1a" color="#1a1a1a">(T)</text>
<circle cx="234.30" cy="360.60" r="1.05" fill="#333"/>
<circle cx="237.00" cy="360.60" r="1.05" fill="#333"/>
<circle cx="239.70" cy="360.60" r="1.05" fill="#333"/>
<text x="237.0" y="372.8" font-size="6.8" text-anchor="middle" fill="#1a1a1a" color="#1a1a1a">(B)</text>
<rect x="239.1" y="393.1" width="8.5" height="4.8" fill="#b00a2e"/>
<text x="250.5" y="398.3" font-size="7.5" fill="#1a1a1a" color="#1a1a1a">T</text>
<rect x="239.1" y="405.7" width="8.5" height="4.8" fill="#2f5287"/>
<text x="250.5" y="410.9" font-size="7.5" fill="#1a1a1a" color="#1a1a1a">B</text>
<rect x="239.1" y="417.7" width="8.5" height="4.8" fill="#68a945"/>
<text x="250.5" y="422.9" font-size="7.5" fill="#1a1a1a" color="#1a1a1a">M</text>
<text x="0" y="0" font-size="8.2" text-anchor="middle" textLength="16.4" lengthAdjust="spacingAndGlyphs" fill="#1a1a1a" color="#1a1a1a" transform="translate(38.4,544.2) rotate(-90)">Gr-1</text>
<text x="161.6" y="592.9" font-size="8.7" text-anchor="middle" textLength="24.2" lengthAdjust="spacingAndGlyphs" fill="#1a1a1a" color="#1a1a1a">Mac-1</text>
<path d="M46.7 582.9 V514" stroke="#222" stroke-width="1.3" fill="none"/>
<path d="M46.7 508.2 L43.7 515.8 L49.7 515.8 Z" fill="#111"/>
<path d="M46.1 582.9 H270" stroke="#222" stroke-width="1.3" fill="none"/>
<path d="M276.2 582.9 L268.6 579.9 L268.6 585.9 Z" fill="#111"/>
<filter id="fblur" x="-20%" y="-20%" width="140%" height="140%"><feGaussianBlur stdDeviation="0.8"/></filter>
<clipPath id="cpPB"><rect x="56.8" y="502.6" width="70.5" height="71.0"/></clipPath>
<g clip-path="url(#cpPB)">
<rect x="78.0" y="540.6" width="0.9" height="0.9" fill="#5b8ad2" opacity="0.83"/>
<rect x="93.9" y="529.5" width="0.9" height="0.9" fill="#5b8ad2" opacity="0.84"/>
<rect x="76.4" y="538.9" width="0.9" height="0.9" fill="#5b8ad2" opacity="0.91"/>
<rect x="92.7" y="538.4" width="0.9" height="0.9" fill="#5b8ad2" opacity="0.98"/>
<rect x="75.1" y="533.1" width="0.9" height="0.9" fill="#5b8ad2" opacity="0.86"/>
<rect x="93.4" y="534.9" width="0.9" height="0.9" fill="#5b8ad2" opacity="0.64"/>
<rect x="100.9" y="534.5" width="0.9" height="0.9" fill="#5b8ad2" opacity="0.76"/>
<rect x="85.7" y="534.1" width="0.9" height="0.9" fill="#5b8ad2" opacity="0.63"/>
<rect x="106.7" y="525.5" width="0.9" height="0.9" fill="#5b8ad2" opacity="0.55"/>
<rect x="78.8" y="532.4" width="0.9" height="0.9" fill="#5b8ad2" opacity="0.76"/>
<rect x="88.0" y="535.3" width="0.9" height="0.9" fill="#5b8ad2" opacity="0.87"/>
<rect x="84.2" y="535.8" width="0.9" height="0.9" fill="#5b8ad2" opacity="0.63"/>
<rect x="90.4" y="537.2" width="0.9" height="0.9" fill="#5b8ad2" opacity="0.67"/>
<rect x="96.0" y="532.4" width="0.9" height="0.9" fill="#5b8ad2" opacity="0.71"/>
<rect x="74.2" y="543.8" width="0.9" height="0.9" fill="#5b8ad2" opacity="0.86"/>
<rect x="75.5" y="538.8" width="0.9" height="0.9" fill="#5b8ad2" opacity="0.78"/>
<rect x="75.4" y="539.7" width="0.9" height="0.9" fill="#5b8ad2" opacity="0.83"/>
<rect x="81.2" y="538.4" width="0.9" height="0.9" fill="#5b8ad2" opacity="0.89"/>
<rect x="112.9" y="524.3" width="0.9" height="0.9" fill="#5b8ad2" opacity="0.73"/>
<rect x="91.3" y="526.4" width="0.9" height="0.9" fill="#5b8ad2" opacity="0.91"/>
<rect x="85.9" y="538.9" width="0.9" height="0.9" fill="#5b8ad2" opacity="0.96"/>
<rect x="86.9" y="536.9" width="0.9" height="0.9" fill="#5b8ad2" opacity="0.59"/>
<rect x="86.0" y="530.2" width="0.9" height="0.9" fill="#5b8ad2" opacity="0.97"/>
<rect x="90.0" y="529.6" width="0.9" height="0.9" fill="#5b8ad2" opacity="0.88"/>
<rect x="100.8" y="526.8" width="0.9" height="0.9" fill="#5b8ad2" opacity="0.61"/>
<rect x="92.4" y="532.8" width="0.9" height="0.9" fill="#5b8ad2" opacity="0.75"/>
<rect x="93.4" y="529.3" width="0.9" height="0.9" fill="#5b8ad2" opacity="0.83"/>
<rect x="94.6" y="531.3" width="0.9" height="0.9" fill="#5b8ad2" opacity="0.96"/>
<rect x="98.1" y="533.8" width="0.9" height="0.9" fill="#5b8ad2" opacity="0.72"/>
<rect x="86.7" y="531.1" width="0.9" height="0.9" fill="#5b8ad2" opacity="0.81"/>
<rect x="93.9" y="534.6" width="0.9" height="0.9" fill="#5b8ad2" opacity="0.95"/>
<rect x="99.3" y="528.1" width="0.9" height="0.9" fill="#5b8ad2" opacity="0.91"/>
<rect x="92.3" y="535.5" width="0.9" height="0.9" fill="#5b8ad2" opacity="0.97"/>
<rect x="89.6" y="535.0" width="0.9" height="0.9" fill="#5b8ad2" opacity="0.76"/>
<rect x="87.4" y="531.8" width="0.9" height="0.9" fill="#5b8ad2" opacity="0.84"/>
<rect x="78.3" y="536.5" width="0.9" height="0.9" fill="#5b8ad2" opacity="0.64"/>
<rect x="94.4" y="539.8" width="0.9" height="0.9" fill="#5b8ad2" opacity="0.87"/>
<rect x="96.6" y="536.6" width="0.9" height="0.9" fill="#5b8ad2" opacity="0.92"/>
<rect x="94.4" y="535.6" width="0.9" height="0.9" fill="#5b8ad2" opacity="0.84"/>
<rect x="89.8" y="537.8" width="0.9" height="0.9" fill="#5b8ad2" opacity="0.87"/>
<rect x="100.4" y="527.9" width="0.9" height="0.9" fill="#5b8ad2" opacity="0.65"/>
<rect x="85.1" y="545.9" width="0.9" height="0.9" fill="#5b8ad2" opacity="0.95"/>
<rect x="90.7" y="538.5" width="0.9" height="0.9" fill="#5b8ad2" opacity="0.99"/>
<rect x="91.8" y="527.2" width="0.9" height="0.9" fill="#5b8ad2" opacity="0.99"/>
<rect x="109.4" y="535.2" width="0.9" height="0.9" fill="#5b8ad2" opacity="0.79"/>
<rect x="89.7" y="537.8" width="0.9" height="0.9" fill="#5b8ad2" opacity="0.91"/>
<rect x="86.4" y="530.7" width="0.9" height="0.9" fill="#5b8ad2" opacity="0.69"/>
<rect x="86.8" y="537.0" width="0.9" height="0.9" fill="#5b8ad2" opacity="0.96"/>
<rect x="97.1" y="534.6" width="0.9" height="0.9" fill="#5b8ad2" opacity="0.94"/>
<rect x="89.9" y="540.8" width="0.9" height="0.9" fill="#5b8ad2" opacity="0.71"/>
<rect x="82.4" y="541.0" width="0.9" height="0.9" fill="#5b8ad2" opacity="0.59"/>
<rect x="95.2" y="530.2" width="0.9" height="0.9" fill="#5b8ad2" opacity="0.75"/>
<rect x="71.3" y="536.7" width="0.9" height="0.9" fill="#5b8ad2" opacity="0.80"/>
<rect x="89.8" y="536.6" width="0.9" height="0.9" fill="#5b8ad2" opacity="0.90"/>
<rect x="97.4" y="525.6" width="0.9" height="0.9" fill="#5b8ad2" opacity="0.77"/>
<rect x="88.2" y="537.9" width="0.9" height="0.9" fill="#5b8ad2" opacity="0.56"/>
<rect x="81.5" y="525.0" width="0.9" height="0.9" fill="#5b8ad2" opacity="0.91"/>
<rect x="97.5" y="542.7" width="0.9" height="0.9" fill="#5b8ad2" opacity="0.58"/>
<rect x="93.3" y="527.7" width="0.9" height="0.9" fill="#5b8ad2" opacity="0.91"/>
<rect x="84.1" y="537.3" width="0.9" height="0.9" fill="#5b8ad2" opacity="0.63"/>
<rect x="107.7" y="529.8" width="0.9" height="0.9" fill="#5b8ad2" opacity="0.70"/>
<rect x="90.7" y="541.6" width="0.9" height="0.9" fill="#5b8ad2" opacity="0.90"/>
<rect x="89.7" y="543.5" width="0.9" height="0.9" fill="#5b8ad2" opacity="0.61"/>
<rect x="80.7" y="535.1" width="0.9" height="0.9" fill="#5b8ad2" opacity="0.62"/>
<rect x="95.2" y="539.0" width="0.9" height="0.9" fill="#5b8ad2" opacity="0.78"/>
<rect x="92.7" y="534.3" width="0.9" height="0.9" fill="#5b8ad2" opacity="0.88"/>
<rect x="71.4" y="537.6" width="0.9" height="0.9" fill="#5b8ad2" opacity="0.93"/>
<rect x="81.2" y="534.6" width="0.9" height="0.9" fill="#5b8ad2" opacity="0.86"/>
<rect x="91.0" y="531.6" width="0.9" height="0.9" fill="#5b8ad2" opacity="0.98"/>
<rect x="93.4" y="532.9" width="0.9" height="0.9" fill="#5b8ad2" opacity="0.77"/>
<rect x="84.6" y="536.6" width="0.9" height="0.9" fill="#5b8ad2" opacity="0.98"/>
<rect x="91.9" y="537.5" width="0.9" height="0.9" fill="#5b8ad2" opacity="0.59"/>
<rect x="82.8" y="535.5" width="0.9" height="0.9" fill="#5b8ad2" opacity="0.65"/>
<rect x="79.1" y="546.5" width="0.9" height="0.9" fill="#5b8ad2" opacity="0.79"/>
<rect x="98.1" y="529.6" width="0.9" height="0.9" fill="#5b8ad2" opacity="0.68"/>
<rect x="81.0" y="531.0" width="0.9" height="0.9" fill="#5b8ad2" opacity="0.88"/>
<rect x="88.7" y="535.4" width="0.9" height="0.9" fill="#5b8ad2" opacity="0.84"/>
<rect x="104.6" y="529.1" width="0.9" height="0.9" fill="#5b8ad2" opacity="0.79"/>
<rect x="76.5" y="526.6" width="0.9" height="0.9" fill="#5b8ad2" opacity="0.93"/>
<rect x="98.4" y="531.4" width="0.9" height="0.9" fill="#5b8ad2" opacity="0.80"/>
<rect x="74.6" y="540.9" width="0.9" height="0.9" fill="#5b8ad2" opacity="0.69"/>
<rect x="80.6" y="555.6" width="0.9" height="0.9" fill="#5b8ad2" opacity="0.72"/>
<rect x="96.8" y="534.0" width="0.9" height="0.9" fill="#5b8ad2" opacity="0.93"/>
<rect x="81.8" y="526.0" width="0.9" height="0.9" fill="#5b8ad2" opacity="0.96"/>
<rect x="83.2" y="528.5" width="0.9" height="0.9" fill="#5b8ad2" opacity="0.64"/>
<rect x="87.9" y="523.6" width="0.9" height="0.9" fill="#5b8ad2" opacity="0.93"/>
<rect x="82.0" y="543.3" width="0.9" height="0.9" fill="#5b8ad2" opacity="0.99"/>
<rect x="97.8" y="524.5" width="0.9" height="0.9" fill="#5b8ad2" opacity="0.79"/>
<rect x="76.5" y="543.8" width="0.9" height="0.9" fill="#5b8ad2" opacity="0.81"/>
<rect x="91.9" y="527.9" width="0.9" height="0.9" fill="#5b8ad2" opacity="0.64"/>
<rect x="80.3" y="534.1" width="0.9" height="0.9" fill="#5b8ad2" opacity="0.79"/>
<rect x="76.4" y="535.8" width="0.9" height="0.9" fill="#5b8ad2" opacity="0.78"/>
<rect x="98.1" y="534.1" width="0.9" height="0.9" fill="#5b8ad2" opacity="0.82"/>
<rect x="103.1" y="528.1" width="0.9" height="0.9" fill="#5b8ad2" opacity="0.56"/>
<rect x="84.2" y="531.1" width="0.9" height="0.9" fill="#5b8ad2" opacity="0.99"/>
<rect x="83.7" y="529.6" width="0.9" height="0.9" fill="#5b8ad2" opacity="0.78"/>
<rect x="74.2" y="543.8" width="0.9" height="0.9" fill="#5b8ad2" opacity="0.73"/>
<rect x="99.9" y="534.1" width="0.9" height="0.9" fill="#5b8ad2" opacity="0.91"/>
<rect x="98.0" y="531.9" width="0.9" height="0.9" fill="#5b8ad2" opacity="0.80"/>
<rect x="81.5" y="537.7" width="0.9" height="0.9" fill="#5b8ad2" opacity="0.77"/>
<rect x="82.1" y="531.2" width="0.9" height="0.9" fill="#5b8ad2" opacity="0.86"/>
<rect x="71.0" y="533.8" width="0.9" height="0.9" fill="#5b8ad2" opacity="0.58"/>
<rect x="87.2" y="535.7" width="0.9" height="0.9" fill="#5b8ad2" opacity="0.79"/>
<rect x="85.8" y="542.9" width="0.9" height="0.9" fill="#5b8ad2" opacity="0.74"/>
<rect x="89.5" y="537.0" width="0.9" height="0.9" fill="#5b8ad2" opacity="0.98"/>
<rect x="95.1" y="527.5" width="0.9" height="0.9" fill="#5b8ad2" opacity="0.97"/>
<rect x="72.8" y="544.6" width="0.9" height="0.9" fill="#5b8ad2" opacity="0.67"/>
<rect x="83.9" y="543.0" width="0.9" height="0.9" fill="#5b8ad2" opacity="0.76"/>
<rect x="91.5" y="538.4" width="0.9" height="0.9" fill="#5b8ad2" opacity="0.61"/>
<rect x="89.3" y="523.3" width="0.9" height="0.9" fill="#5b8ad2" opacity="0.75"/>
<rect x="91.5" y="529.7" width="0.9" height="0.9" fill="#5b8ad2" opacity="0.92"/>
<rect x="80.3" y="535.5" width="0.9" height="0.9" fill="#5b8ad2" opacity="0.96"/>
<rect x="94.6" y="536.5" width="0.9" height="0.9" fill="#5b8ad2" opacity="0.76"/>
<rect x="92.0" y="524.4" width="0.9" height="0.9" fill="#5b8ad2" opacity="0.69"/>
<rect x="78.1" y="526.3" width="0.9" height="0.9" fill="#5b8ad2" opacity="0.64"/>
<rect x="87.3" y="538.0" width="0.9" height="0.9" fill="#5b8ad2" opacity="0.83"/>
<rect x="81.4" y="538.5" width="0.9" height="0.9" fill="#5b8ad2" opacity="0.97"/>
<rect x="90.6" y="538.7" width="0.9" height="0.9" fill="#5b8ad2" opacity="0.61"/>
<rect x="79.0" y="533.9" width="0.9" height="0.9" fill="#5b8ad2" opacity="0.90"/>
<rect x="84.1" y="545.2" width="0.9" height="0.9" fill="#5b8ad2" opacity="0.56"/>
<rect x="95.4" y="531.0" width="0.9" height="0.9" fill="#5b8ad2" opacity="0.64"/>
<rect x="89.0" y="534.8" width="0.9" height="0.9" fill="#5b8ad2" opacity="0.65"/>
<rect x="88.2" y="533.4" width="0.9" height="0.9" fill="#5b8ad2" opacity="0.86"/>
<rect x="82.1" y="530.5" width="0.9" height="0.9" fill="#5b8ad2" opacity="0.69"/>
<rect x="84.9" y="544.4" width="0.9" height="0.9" fill="#5b8ad2" opacity="0.71"/>
<rect x="91.3" y="533.6" width="0.9" height="0.9" fill="#5b8ad2" opacity="0.83"/>
<rect x="85.4" y="536.0" width="0.9" height="0.9" fill="#5b8ad2" opacity="0.60"/>
<rect x="88.6" y="531.0" width="0.9" height="0.9" fill="#5b8ad2" opacity="0.88"/>
<rect x="89.0" y="535.4" width="0.9" height="0.9" fill="#5b8ad2" opacity="0.61"/>
<rect x="79.7" y="533.9" width="0.9" height="0.9" fill="#5b8ad2" opacity="0.78"/>
<rect x="76.6" y="555.0" width="0.9" height="0.9" fill="#7aa0dc" opacity="0.87"/>
<rect x="74.8" y="549.6" width="0.9" height="0.9" fill="#7aa0dc" opacity="0.89"/>
<rect x="75.0" y="555.2" width="0.9" height="0.9" fill="#7aa0dc" opacity="0.99"/>
<rect x="75.8" y="550.2" width="0.9" height="0.9" fill="#7aa0dc" opacity="0.56"/>
<rect x="77.2" y="559.2" width="0.9" height="0.9" fill="#7aa0dc" opacity="0.83"/>
<rect x="75.8" y="545.2" width="0.9" height="0.9" fill="#7aa0dc" opacity="0.88"/>
<rect x="79.4" y="544.5" width="0.9" height="0.9" fill="#7aa0dc" opacity="0.67"/>
<rect x="78.3" y="547.7" width="0.9" height="0.9" fill="#7aa0dc" opacity="0.73"/>
<rect x="77.7" y="540.1" width="0.9" height="0.9" fill="#7aa0dc" opacity="0.57"/>
<rect x="78.8" y="548.1" width="0.9" height="0.9" fill="#7aa0dc" opacity="0.64"/>
<rect x="73.9" y="563.2" width="0.9" height="0.9" fill="#7aa0dc" opacity="0.72"/>
<rect x="76.7" y="572.1" width="0.9" height="0.9" fill="#7aa0dc" opacity="0.59"/>
<rect x="78.1" y="549.0" width="0.9" height="0.9" fill="#7aa0dc" opacity="0.66"/>
<rect x="76.4" y="560.6" width="0.9" height="0.9" fill="#7aa0dc" opacity="0.96"/>
<rect x="76.7" y="553.7" width="0.9" height="0.9" fill="#7aa0dc" opacity="0.80"/>
<rect x="78.6" y="545.7" width="0.9" height="0.9" fill="#7aa0dc" opacity="0.78"/>
<rect x="77.5" y="548.0" width="0.9" height="0.9" fill="#7aa0dc" opacity="0.99"/>
<rect x="73.8" y="556.0" width="0.9" height="0.9" fill="#7aa0dc" opacity="0.81"/>
<rect x="78.4" y="551.6" width="0.9" height="0.9" fill="#7aa0dc" opacity="1.00"/>
<rect x="76.1" y="538.8" width="0.9" height="0.9" fill="#7aa0dc" opacity="0.84"/>
<rect x="78.1" y="550.5" width="0.9" height="0.9" fill="#7aa0dc" opacity="0.91"/>
<rect x="73.3" y="550.3" width="0.9" height="0.9" fill="#7aa0dc" opacity="0.58"/>
<rect x="73.7" y="550.5" width="0.9" height="0.9" fill="#7aa0dc" opacity="0.82"/>
<rect x="77.1" y="553.1" width="0.9" height="0.9" fill="#7aa0dc" opacity="0.89"/>
<rect x="77.4" y="552.1" width="0.9" height="0.9" fill="#7aa0dc" opacity="0.57"/>
<rect x="74.7" y="548.5" width="0.9" height="0.9" fill="#7aa0dc" opacity="0.97"/>
<rect x="76.0" y="549.5" width="0.9" height="0.9" fill="#7aa0dc" opacity="0.62"/>
<rect x="77.3" y="554.8" width="0.9" height="0.9" fill="#7aa0dc" opacity="0.76"/>
<rect x="81.9" y="536.0" width="0.9" height="0.9" fill="#7aa0dc" opacity="0.63"/>
<rect x="78.0" y="549.9" width="0.9" height="0.9" fill="#7aa0dc" opacity="0.77"/>
<rect x="81.5" y="557.0" width="0.9" height="0.9" fill="#7aa0dc" opacity="0.83"/>
<rect x="73.2" y="553.1" width="0.9" height="0.9" fill="#7aa0dc" opacity="0.58"/>
<rect x="75.3" y="556.8" width="0.9" height="0.9" fill="#7aa0dc" opacity="0.98"/>
<rect x="74.7" y="550.2" width="0.9" height="0.9" fill="#7aa0dc" opacity="0.74"/>
<rect x="76.8" y="550.4" width="0.9" height="0.9" fill="#7aa0dc" opacity="0.79"/>
<rect x="76.7" y="539.9" width="0.9" height="0.9" fill="#7aa0dc" opacity="0.82"/>
<rect x="77.5" y="557.1" width="0.9" height="0.9" fill="#7aa0dc" opacity="0.71"/>
<rect x="77.4" y="544.9" width="0.9" height="0.9" fill="#7aa0dc" opacity="0.68"/>
<rect x="77.1" y="554.4" width="0.9" height="0.9" fill="#7aa0dc" opacity="0.84"/>
<rect x="76.6" y="550.9" width="0.9" height="0.9" fill="#7aa0dc" opacity="0.80"/>
<rect x="80.7" y="544.6" width="0.9" height="0.9" fill="#7aa0dc" opacity="0.68"/>
<rect x="76.8" y="539.5" width="0.9" height="0.9" fill="#7aa0dc" opacity="0.87"/>
<rect x="75.9" y="546.4" width="0.9" height="0.9" fill="#7aa0dc" opacity="0.68"/>
<rect x="75.3" y="546.7" width="0.9" height="0.9" fill="#7aa0dc" opacity="0.56"/>
<rect x="81.0" y="550.2" width="0.9" height="0.9" fill="#7aa0dc" opacity="0.66"/>
<rect x="75.6" y="564.1" width="0.9" height="0.9" fill="#7aa0dc" opacity="0.57"/>
<rect x="77.8" y="540.6" width="0.9" height="0.9" fill="#7aa0dc" opacity="0.62"/>
<rect x="78.4" y="545.5" width="0.9" height="0.9" fill="#7aa0dc" opacity="0.89"/>
<rect x="81.2" y="543.9" width="0.9" height="0.9" fill="#7aa0dc" opacity="0.73"/>
<rect x="76.6" y="541.3" width="0.9" height="0.9" fill="#7aa0dc" opacity="0.95"/>
<rect x="77.7" y="544.9" width="0.9" height="0.9" fill="#7aa0dc" opacity="0.89"/>
<rect x="77.1" y="548.7" width="0.9" height="0.9" fill="#7aa0dc" opacity="0.57"/>
<rect x="75.2" y="556.5" width="0.9" height="0.9" fill="#7aa0dc" opacity="0.99"/>
<rect x="79.0" y="551.6" width="0.9" height="0.9" fill="#7aa0dc" opacity="0.98"/>
<rect x="75.6" y="544.4" width="0.9" height="0.9" fill="#7aa0dc" opacity="0.58"/>
<rect x="76.3" y="565.3" width="0.9" height="0.9" fill="#7aa0dc" opacity="0.96"/>
<rect x="76.4" y="546.2" width="0.9" height="0.9" fill="#7aa0dc" opacity="0.74"/>
<rect x="76.0" y="544.3" width="0.9" height="0.9" fill="#7aa0dc" opacity="0.76"/>
<rect x="75.0" y="549.6" width="0.9" height="0.9" fill="#7aa0dc" opacity="0.99"/>
<rect x="80.1" y="551.3" width="0.9" height="0.9" fill="#7aa0dc" opacity="0.66"/>
<rect x="70.0" y="547.1" width="0.9" height="0.9" fill="#8aaee0" opacity="0.87"/>
<rect x="82.1" y="541.8" width="0.9" height="0.9" fill="#8aaee0" opacity="0.81"/>
<rect x="94.6" y="543.1" width="0.9" height="0.9" fill="#8aaee0" opacity="0.96"/>
<rect x="81.5" y="545.2" width="0.9" height="0.9" fill="#8aaee0" opacity="0.97"/>
<rect x="78.8" y="543.8" width="0.9" height="0.9" fill="#8aaee0" opacity="0.96"/>
<rect x="84.8" y="547.1" width="0.9" height="0.9" fill="#8aaee0" opacity="0.75"/>
<rect x="80.9" y="546.2" width="0.9" height="0.9" fill="#8aaee0" opacity="0.91"/>
<rect x="76.1" y="549.5" width="0.9" height="0.9" fill="#8aaee0" opacity="0.69"/>
<rect x="79.7" y="547.6" width="0.9" height="0.9" fill="#8aaee0" opacity="0.69"/>
<rect x="78.3" y="544.9" width="0.9" height="0.9" fill="#8aaee0" opacity="0.73"/>
<rect x="84.4" y="541.0" width="0.9" height="0.9" fill="#8aaee0" opacity="0.97"/>
<rect x="98.6" y="543.3" width="0.9" height="0.9" fill="#8aaee0" opacity="0.95"/>
<rect x="83.1" y="543.2" width="0.9" height="0.9" fill="#8aaee0" opacity="0.66"/>
<rect x="94.4" y="549.8" width="0.9" height="0.9" fill="#8aaee0" opacity="0.71"/>
<rect x="84.8" y="540.3" width="0.9" height="0.9" fill="#8aaee0" opacity="0.71"/>
<rect x="81.4" y="549.0" width="0.9" height="0.9" fill="#8aaee0" opacity="0.71"/>
<rect x="80.2" y="541.9" width="0.9" height="0.9" fill="#8aaee0" opacity="0.73"/>
<rect x="76.4" y="544.2" width="0.9" height="0.9" fill="#8aaee0" opacity="0.72"/>
<rect x="83.6" y="543.4" width="0.9" height="0.9" fill="#8aaee0" opacity="0.64"/>
<rect x="86.0" y="557.0" width="0.9" height="0.9" fill="#8aaee0" opacity="0.80"/>
<rect x="93.8" y="540.1" width="0.9" height="0.9" fill="#8aaee0" opacity="0.91"/>
<rect x="86.1" y="546.0" width="0.9" height="0.9" fill="#8aaee0" opacity="0.79"/>
<rect x="83.9" y="550.3" width="0.9" height="0.9" fill="#8aaee0" opacity="0.93"/>
<rect x="81.8" y="545.1" width="0.9" height="0.9" fill="#8aaee0" opacity="0.80"/>
<rect x="81.7" y="546.0" width="0.9" height="0.9" fill="#8aaee0" opacity="0.63"/>
<rect x="92.1" y="547.7" width="0.9" height="0.9" fill="#8aaee0" opacity="0.89"/>
<rect x="75.8" y="545.7" width="0.9" height="0.9" fill="#8aaee0" opacity="0.95"/>
<rect x="79.9" y="550.0" width="0.9" height="0.9" fill="#8aaee0" opacity="0.68"/>
<rect x="85.9" y="549.3" width="0.9" height="0.9" fill="#8aaee0" opacity="0.56"/>
<rect x="82.3" y="538.5" width="0.9" height="0.9" fill="#8aaee0" opacity="0.78"/>
<rect x="86.8" y="546.4" width="0.9" height="0.9" fill="#8aaee0" opacity="0.79"/>
<rect x="86.1" y="540.3" width="0.9" height="0.9" fill="#8aaee0" opacity="0.81"/>
<rect x="84.0" y="543.2" width="0.9" height="0.9" fill="#8aaee0" opacity="0.98"/>
<rect x="80.2" y="548.1" width="0.9" height="0.9" fill="#8aaee0" opacity="0.84"/>
<rect x="85.5" y="542.1" width="0.9" height="0.9" fill="#8aaee0" opacity="0.91"/>
<rect x="72.2" y="538.0" width="0.9" height="0.9" fill="#8aaee0" opacity="0.58"/>
<rect x="81.4" y="551.0" width="0.9" height="0.9" fill="#8aaee0" opacity="0.80"/>
<rect x="82.1" y="537.2" width="0.9" height="0.9" fill="#8aaee0" opacity="0.90"/>
<rect x="79.2" y="548.6" width="0.9" height="0.9" fill="#8aaee0" opacity="0.59"/>
<rect x="94.7" y="548.9" width="0.9" height="0.9" fill="#8aaee0" opacity="0.59"/>
<rect x="86.3" y="546.4" width="0.9" height="0.9" fill="#8aaee0" opacity="0.88"/>
<rect x="77.4" y="545.3" width="0.9" height="0.9" fill="#8aaee0" opacity="0.95"/>
<rect x="81.5" y="543.3" width="0.9" height="0.9" fill="#8aaee0" opacity="0.59"/>
<rect x="84.1" y="544.4" width="0.9" height="0.9" fill="#8aaee0" opacity="0.84"/>
<rect x="87.0" y="551.3" width="0.9" height="0.9" fill="#8aaee0" opacity="0.61"/>
<rect x="88.7" y="546.9" width="0.9" height="0.9" fill="#8aaee0" opacity="0.89"/>
<rect x="81.5" y="540.3" width="0.9" height="0.9" fill="#8aaee0" opacity="0.84"/>
<rect x="83.7" y="548.3" width="0.9" height="0.9" fill="#8aaee0" opacity="0.66"/>
<rect x="78.9" y="552.0" width="0.9" height="0.9" fill="#8aaee0" opacity="0.65"/>
<rect x="82.3" y="547.8" width="0.9" height="0.9" fill="#8aaee0" opacity="0.89"/>
<g filter="url(#fblur)" transform="rotate(-20 86.0 535.6)">
<ellipse cx="86.0" cy="535.6" rx="10.50" ry="5.60" fill="#9dbce8"/>
<ellipse cx="86.0" cy="535.6" rx="9.03" ry="4.82" fill="#5b90d6"/>
<ellipse cx="86.0" cy="535.6" rx="7.56" ry="4.03" fill="#2ea6cc"/>
<ellipse cx="86.0" cy="535.6" rx="6.09" ry="3.25" fill="#3bb45a"/>
<ellipse cx="86.0" cy="535.6" rx="4.62" ry="2.46" fill="#9cca34"/>
<ellipse cx="86.0" cy="535.6" rx="3.25" ry="1.74" fill="#f2cf22"/>
<ellipse cx="86.0" cy="535.6" rx="2.00" ry="1.06" fill="#f2801e"/>
<ellipse cx="86.0" cy="535.6" rx="0.94" ry="0.50" fill="#e0281a"/>
</g>
</g>
<rect x="56.8" y="502.6" width="70.5" height="71.0" fill="none" stroke="#111" stroke-width="1.0"/>
<line x1="76.90" y1="502.60" x2="76.90" y2="573.60" stroke="#111" stroke-width="1.0"/>
<line x1="56.80" y1="542.30" x2="127.30" y2="542.30" stroke="#111" stroke-width="1.0"/>
<line x1="54.00" y1="573.60" x2="56.80" y2="573.60" stroke="#111" stroke-width="0.8"/>
<line x1="54.80" y1="569.57" x2="56.80" y2="569.57" stroke="#111" stroke-width="0.8"/>
<line x1="54.80" y1="567.21" x2="56.80" y2="567.21" stroke="#111" stroke-width="0.8"/>
<line x1="54.80" y1="565.53" x2="56.80" y2="565.53" stroke="#111" stroke-width="0.8"/>
<line x1="54.80" y1="564.23" x2="56.80" y2="564.23" stroke="#111" stroke-width="0.8"/>
<line x1="54.80" y1="563.17" x2="56.80" y2="563.17" stroke="#111" stroke-width="0.8"/>
<line x1="54.80" y1="562.28" x2="56.80" y2="562.28" stroke="#111" stroke-width="0.8"/>
<line x1="54.80" y1="561.50" x2="56.80" y2="561.50" stroke="#111" stroke-width="0.8"/>
<line x1="54.80" y1="560.81" x2="56.80" y2="560.81" stroke="#111" stroke-width="0.8"/>
<line x1="54.00" y1="560.20" x2="56.80" y2="560.20" stroke="#111" stroke-width="0.8"/>
<line x1="54.80" y1="556.17" x2="56.80" y2="556.17" stroke="#111" stroke-width="0.8"/>
<line x1="54.80" y1="553.81" x2="56.80" y2="553.81" stroke="#111" stroke-width="0.8"/>
<line x1="54.80" y1="552.13" x2="56.80" y2="552.13" stroke="#111" stroke-width="0.8"/>
<line x1="54.80" y1="550.83" x2="56.80" y2="550.83" stroke="#111" stroke-width="0.8"/>
<line x1="54.80" y1="549.77" x2="56.80" y2="549.77" stroke="#111" stroke-width="0.8"/>
<line x1="54.80" y1="548.88" x2="56.80" y2="548.88" stroke="#111" stroke-width="0.8"/>
<line x1="54.80" y1="548.10" x2="56.80" y2="548.10" stroke="#111" stroke-width="0.8"/>
<line x1="54.80" y1="547.41" x2="56.80" y2="547.41" stroke="#111" stroke-width="0.8"/>
<line x1="54.00" y1="546.80" x2="56.80" y2="546.80" stroke="#111" stroke-width="0.8"/>
<line x1="54.80" y1="542.77" x2="56.80" y2="542.77" stroke="#111" stroke-width="0.8"/>
<line x1="54.80" y1="540.41" x2="56.80" y2="540.41" stroke="#111" stroke-width="0.8"/>
<line x1="54.80" y1="538.73" x2="56.80" y2="538.73" stroke="#111" stroke-width="0.8"/>
<line x1="54.80" y1="537.43" x2="56.80" y2="537.43" stroke="#111" stroke-width="0.8"/>
<line x1="54.80" y1="536.37" x2="56.80" y2="536.37" stroke="#111" stroke-width="0.8"/>
<line x1="54.80" y1="535.48" x2="56.80" y2="535.48" stroke="#111" stroke-width="0.8"/>
<line x1="54.80" y1="534.70" x2="56.80" y2="534.70" stroke="#111" stroke-width="0.8"/>
<line x1="54.80" y1="534.01" x2="56.80" y2="534.01" stroke="#111" stroke-width="0.8"/>
<line x1="54.00" y1="533.40" x2="56.80" y2="533.40" stroke="#111" stroke-width="0.8"/>
<line x1="54.80" y1="529.37" x2="56.80" y2="529.37" stroke="#111" stroke-width="0.8"/>
<line x1="54.80" y1="527.01" x2="56.80" y2="527.01" stroke="#111" stroke-width="0.8"/>
<line x1="54.80" y1="525.33" x2="56.80" y2="525.33" stroke="#111" stroke-width="0.8"/>
<line x1="54.80" y1="524.03" x2="56.80" y2="524.03" stroke="#111" stroke-width="0.8"/>
<line x1="54.80" y1="522.97" x2="56.80" y2="522.97" stroke="#111" stroke-width="0.8"/>
<line x1="54.80" y1="522.08" x2="56.80" y2="522.08" stroke="#111" stroke-width="0.8"/>
<line x1="54.80" y1="521.30" x2="56.80" y2="521.30" stroke="#111" stroke-width="0.8"/>
<line x1="54.80" y1="520.61" x2="56.80" y2="520.61" stroke="#111" stroke-width="0.8"/>
<line x1="54.00" y1="520.00" x2="56.80" y2="520.00" stroke="#111" stroke-width="0.8"/>
<line x1="54.80" y1="515.97" x2="56.80" y2="515.97" stroke="#111" stroke-width="0.8"/>
<line x1="54.80" y1="513.61" x2="56.80" y2="513.61" stroke="#111" stroke-width="0.8"/>
<line x1="54.80" y1="511.93" x2="56.80" y2="511.93" stroke="#111" stroke-width="0.8"/>
<line x1="54.80" y1="510.63" x2="56.80" y2="510.63" stroke="#111" stroke-width="0.8"/>
<line x1="54.80" y1="509.57" x2="56.80" y2="509.57" stroke="#111" stroke-width="0.8"/>
<line x1="54.80" y1="508.68" x2="56.80" y2="508.68" stroke="#111" stroke-width="0.8"/>
<line x1="54.80" y1="507.90" x2="56.80" y2="507.90" stroke="#111" stroke-width="0.8"/>
<line x1="54.80" y1="507.21" x2="56.80" y2="507.21" stroke="#111" stroke-width="0.8"/>
<line x1="62.80" y1="573.60" x2="62.80" y2="576.40" stroke="#111" stroke-width="0.8"/>
<line x1="66.83" y1="573.60" x2="66.83" y2="575.60" stroke="#111" stroke-width="0.8"/>
<line x1="69.19" y1="573.60" x2="69.19" y2="575.60" stroke="#111" stroke-width="0.8"/>
<line x1="70.87" y1="573.60" x2="70.87" y2="575.60" stroke="#111" stroke-width="0.8"/>
<line x1="72.17" y1="573.60" x2="72.17" y2="575.60" stroke="#111" stroke-width="0.8"/>
<line x1="73.23" y1="573.60" x2="73.23" y2="575.60" stroke="#111" stroke-width="0.8"/>
<line x1="74.12" y1="573.60" x2="74.12" y2="575.60" stroke="#111" stroke-width="0.8"/>
<line x1="74.90" y1="573.60" x2="74.90" y2="575.60" stroke="#111" stroke-width="0.8"/>
<line x1="75.59" y1="573.60" x2="75.59" y2="575.60" stroke="#111" stroke-width="0.8"/>
<line x1="76.20" y1="573.60" x2="76.20" y2="576.40" stroke="#111" stroke-width="0.8"/>
<line x1="80.23" y1="573.60" x2="80.23" y2="575.60" stroke="#111" stroke-width="0.8"/>
<line x1="82.59" y1="573.60" x2="82.59" y2="575.60" stroke="#111" stroke-width="0.8"/>
<line x1="84.27" y1="573.60" x2="84.27" y2="575.60" stroke="#111" stroke-width="0.8"/>
<line x1="85.57" y1="573.60" x2="85.57" y2="575.60" stroke="#111" stroke-width="0.8"/>
<line x1="86.63" y1="573.60" x2="86.63" y2="575.60" stroke="#111" stroke-width="0.8"/>
<line x1="87.52" y1="573.60" x2="87.52" y2="575.60" stroke="#111" stroke-width="0.8"/>
<line x1="88.30" y1="573.60" x2="88.30" y2="575.60" stroke="#111" stroke-width="0.8"/>
<line x1="88.99" y1="573.60" x2="88.99" y2="575.60" stroke="#111" stroke-width="0.8"/>
<line x1="89.60" y1="573.60" x2="89.60" y2="576.40" stroke="#111" stroke-width="0.8"/>
<line x1="93.63" y1="573.60" x2="93.63" y2="575.60" stroke="#111" stroke-width="0.8"/>
<line x1="95.99" y1="573.60" x2="95.99" y2="575.60" stroke="#111" stroke-width="0.8"/>
<line x1="97.67" y1="573.60" x2="97.67" y2="575.60" stroke="#111" stroke-width="0.8"/>
<line x1="98.97" y1="573.60" x2="98.97" y2="575.60" stroke="#111" stroke-width="0.8"/>
<line x1="100.03" y1="573.60" x2="100.03" y2="575.60" stroke="#111" stroke-width="0.8"/>
<line x1="100.92" y1="573.60" x2="100.92" y2="575.60" stroke="#111" stroke-width="0.8"/>
<line x1="101.70" y1="573.60" x2="101.70" y2="575.60" stroke="#111" stroke-width="0.8"/>
<line x1="102.39" y1="573.60" x2="102.39" y2="575.60" stroke="#111" stroke-width="0.8"/>
<line x1="103.00" y1="573.60" x2="103.00" y2="576.40" stroke="#111" stroke-width="0.8"/>
<line x1="107.03" y1="573.60" x2="107.03" y2="575.60" stroke="#111" stroke-width="0.8"/>
<line x1="109.39" y1="573.60" x2="109.39" y2="575.60" stroke="#111" stroke-width="0.8"/>
<line x1="111.07" y1="573.60" x2="111.07" y2="575.60" stroke="#111" stroke-width="0.8"/>
<line x1="112.37" y1="573.60" x2="112.37" y2="575.60" stroke="#111" stroke-width="0.8"/>
<line x1="113.43" y1="573.60" x2="113.43" y2="575.60" stroke="#111" stroke-width="0.8"/>
<line x1="114.32" y1="573.60" x2="114.32" y2="575.60" stroke="#111" stroke-width="0.8"/>
<line x1="115.10" y1="573.60" x2="115.10" y2="575.60" stroke="#111" stroke-width="0.8"/>
<line x1="115.79" y1="573.60" x2="115.79" y2="575.60" stroke="#111" stroke-width="0.8"/>
<line x1="116.40" y1="573.60" x2="116.40" y2="576.40" stroke="#111" stroke-width="0.8"/>
<line x1="120.43" y1="573.60" x2="120.43" y2="575.60" stroke="#111" stroke-width="0.8"/>
<line x1="122.79" y1="573.60" x2="122.79" y2="575.60" stroke="#111" stroke-width="0.8"/>
<line x1="124.47" y1="573.60" x2="124.47" y2="575.60" stroke="#111" stroke-width="0.8"/>
<line x1="125.77" y1="573.60" x2="125.77" y2="575.60" stroke="#111" stroke-width="0.8"/>
<line x1="126.83" y1="573.60" x2="126.83" y2="575.60" stroke="#111" stroke-width="0.8"/>
<rect x="71.8" y="573.6" width="2.8" height="2.2" fill="#222"/>
<text x="92.0" y="497" font-size="7.5" text-anchor="middle" fill="#1a1a1a" color="#1a1a1a">PB</text>
<clipPath id="cpBM"><rect x="132.3" y="502.6" width="71.6" height="71.0"/></clipPath>
<g clip-path="url(#cpBM)">
<rect x="155.3" y="537.6" width="0.9" height="0.9" fill="#5b8ad2" opacity="0.68"/>
<rect x="164.8" y="536.5" width="0.9" height="0.9" fill="#5b8ad2" opacity="0.95"/>
<rect x="179.7" y="523.2" width="0.9" height="0.9" fill="#5b8ad2" opacity="0.66"/>
<rect x="159.4" y="536.8" width="0.9" height="0.9" fill="#5b8ad2" opacity="0.81"/>
<rect x="163.1" y="525.9" width="0.9" height="0.9" fill="#5b8ad2" opacity="0.92"/>
<rect x="174.6" y="524.8" width="0.9" height="0.9" fill="#5b8ad2" opacity="0.63"/>
<rect x="171.2" y="522.5" width="0.9" height="0.9" fill="#5b8ad2" opacity="0.80"/>
<rect x="174.1" y="520.1" width="0.9" height="0.9" fill="#5b8ad2" opacity="0.58"/>
<rect x="172.9" y="518.7" width="0.9" height="0.9" fill="#5b8ad2" opacity="0.56"/>
<rect x="178.9" y="523.2" width="0.9" height="0.9" fill="#5b8ad2" opacity="0.63"/>
<rect x="156.3" y="537.0" width="0.9" height="0.9" fill="#5b8ad2" opacity="0.99"/>
<rect x="169.3" y="525.4" width="0.9" height="0.9" fill="#5b8ad2" opacity="0.97"/>
<rect x="165.8" y="534.3" width="0.9" height="0.9" fill="#5b8ad2" opacity="0.85"/>
<rect x="160.3" y="519.0" width="0.9" height="0.9" fill="#5b8ad2" opacity="0.69"/>
<rect x="166.7" y="534.7" width="0.9" height="0.9" fill="#5b8ad2" opacity="0.85"/>
<rect x="173.7" y="533.9" width="0.9" height="0.9" fill="#5b8ad2" opacity="0.88"/>
<rect x="169.7" y="544.7" width="0.9" height="0.9" fill="#5b8ad2" opacity="0.72"/>
<rect x="176.0" y="528.7" width="0.9" height="0.9" fill="#5b8ad2" opacity="0.82"/>
<rect x="179.7" y="530.1" width="0.9" height="0.9" fill="#5b8ad2" opacity="0.91"/>
<rect x="168.3" y="528.0" width="0.9" height="0.9" fill="#5b8ad2" opacity="0.56"/>
<rect x="178.0" y="528.1" width="0.9" height="0.9" fill="#5b8ad2" opacity="0.64"/>
<rect x="151.6" y="534.9" width="0.9" height="0.9" fill="#5b8ad2" opacity="0.76"/>
<rect x="172.9" y="529.3" width="0.9" height="0.9" fill="#5b8ad2" opacity="0.61"/>
<rect x="172.7" y="532.4" width="0.9" height="0.9" fill="#5b8ad2" opacity="0.72"/>
<rect x="173.9" y="536.9" width="0.9" height="0.9" fill="#5b8ad2" opacity="0.81"/>
<rect x="163.4" y="532.0" width="0.9" height="0.9" fill="#5b8ad2" opacity="0.63"/>
<rect x="173.3" y="532.6" width="0.9" height="0.9" fill="#5b8ad2" opacity="0.78"/>
<rect x="178.7" y="533.6" width="0.9" height="0.9" fill="#5b8ad2" opacity="0.67"/>
<rect x="168.1" y="538.0" width="0.9" height="0.9" fill="#5b8ad2" opacity="0.81"/>
<rect x="170.1" y="524.6" width="0.9" height="0.9" fill="#5b8ad2" opacity="0.70"/>
<rect x="172.9" y="540.3" width="0.9" height="0.9" fill="#5b8ad2" opacity="0.84"/>
<rect x="174.0" y="525.5" width="0.9" height="0.9" fill="#5b8ad2" opacity="0.57"/>
<rect x="148.5" y="538.7" width="0.9" height="0.9" fill="#5b8ad2" opacity="0.85"/>
<rect x="163.7" y="534.5" width="0.9" height="0.9" fill="#5b8ad2" opacity="0.62"/>
<rect x="188.8" y="523.7" width="0.9" height="0.9" fill="#5b8ad2" opacity="0.98"/>
<rect x="169.2" y="525.7" width="0.9" height="0.9" fill="#5b8ad2" opacity="0.82"/>
<rect x="159.3" y="535.5" width="0.9" height="0.9" fill="#5b8ad2" opacity="0.76"/>
<rect x="172.6" y="545.6" width="0.9" height="0.9" fill="#5b8ad2" opacity="0.74"/>
<rect x="164.4" y="530.3" width="0.9" height="0.9" fill="#5b8ad2" opacity="0.83"/>
<rect x="178.0" y="526.2" width="0.9" height="0.9" fill="#5b8ad2" opacity="0.86"/>
<rect x="162.5" y="541.9" width="0.9" height="0.9" fill="#5b8ad2" opacity="0.89"/>
<rect x="163.4" y="526.9" width="0.9" height="0.9" fill="#5b8ad2" opacity="0.89"/>
<rect x="172.7" y="531.6" width="0.9" height="0.9" fill="#5b8ad2" opacity="0.77"/>
<rect x="168.0" y="535.4" width="0.9" height="0.9" fill="#5b8ad2" opacity="1.00"/>
<rect x="173.3" y="523.6" width="0.9" height="0.9" fill="#5b8ad2" opacity="0.93"/>
<rect x="147.2" y="530.3" width="0.9" height="0.9" fill="#5b8ad2" opacity="0.93"/>
<rect x="171.0" y="536.7" width="0.9" height="0.9" fill="#5b8ad2" opacity="0.73"/>
<rect x="180.2" y="532.3" width="0.9" height="0.9" fill="#5b8ad2" opacity="0.75"/>
<rect x="183.5" y="522.7" width="0.9" height="0.9" fill="#5b8ad2" opacity="0.80"/>
<rect x="173.6" y="519.9" width="0.9" height="0.9" fill="#5b8ad2" opacity="0.96"/>
<rect x="175.3" y="529.5" width="0.9" height="0.9" fill="#5b8ad2" opacity="0.79"/>
<rect x="167.2" y="529.6" width="0.9" height="0.9" fill="#5b8ad2" opacity="0.79"/>
<rect x="160.6" y="536.6" width="0.9" height="0.9" fill="#5b8ad2" opacity="0.74"/>
<rect x="178.1" y="523.7" width="0.9" height="0.9" fill="#5b8ad2" opacity="0.96"/>
<rect x="171.5" y="525.8" width="0.9" height="0.9" fill="#5b8ad2" opacity="0.69"/>
<rect x="168.6" y="525.7" width="0.9" height="0.9" fill="#5b8ad2" opacity="0.57"/>
<rect x="171.4" y="528.4" width="0.9" height="0.9" fill="#5b8ad2" opacity="0.88"/>
<rect x="170.0" y="527.1" width="0.9" height="0.9" fill="#5b8ad2" opacity="0.96"/>
<rect x="159.0" y="534.9" width="0.9" height="0.9" fill="#5b8ad2" opacity="0.88"/>
<rect x="180.9" y="532.9" width="0.9" height="0.9" fill="#5b8ad2" opacity="0.82"/>
<rect x="168.4" y="535.8" width="0.9" height="0.9" fill="#5b8ad2" opacity="0.89"/>
<rect x="175.9" y="529.2" width="0.9" height="0.9" fill="#5b8ad2" opacity="0.69"/>
<rect x="157.7" y="539.3" width="0.9" height="0.9" fill="#5b8ad2" opacity="0.82"/>
<rect x="164.3" y="540.3" width="0.9" height="0.9" fill="#5b8ad2" opacity="0.58"/>
<rect x="176.6" y="530.0" width="0.9" height="0.9" fill="#5b8ad2" opacity="0.61"/>
<rect x="150.7" y="545.0" width="0.9" height="0.9" fill="#5b8ad2" opacity="0.75"/>
<rect x="171.4" y="522.5" width="0.9" height="0.9" fill="#5b8ad2" opacity="0.78"/>
<rect x="176.7" y="526.9" width="0.9" height="0.9" fill="#5b8ad2" opacity="0.73"/>
<rect x="165.9" y="528.9" width="0.9" height="0.9" fill="#5b8ad2" opacity="0.57"/>
<rect x="160.0" y="533.8" width="0.9" height="0.9" fill="#5b8ad2" opacity="0.86"/>
<rect x="193.5" y="518.0" width="0.9" height="0.9" fill="#5b8ad2" opacity="0.79"/>
<rect x="169.1" y="527.4" width="0.9" height="0.9" fill="#5b8ad2" opacity="0.66"/>
<rect x="162.9" y="531.5" width="0.9" height="0.9" fill="#5b8ad2" opacity="0.69"/>
<rect x="164.2" y="538.6" width="0.9" height="0.9" fill="#5b8ad2" opacity="0.73"/>
<rect x="169.0" y="535.8" width="0.9" height="0.9" fill="#5b8ad2" opacity="0.66"/>
<rect x="162.2" y="540.1" width="0.9" height="0.9" fill="#5b8ad2" opacity="0.58"/>
<rect x="170.4" y="533.9" width="0.9" height="0.9" fill="#5b8ad2" opacity="0.96"/>
<rect x="166.1" y="527.8" width="0.9" height="0.9" fill="#5b8ad2" opacity="0.98"/>
<rect x="177.4" y="523.7" width="0.9" height="0.9" fill="#5b8ad2" opacity="0.85"/>
<rect x="165.7" y="528.0" width="0.9" height="0.9" fill="#5b8ad2" opacity="0.94"/>
<rect x="169.7" y="528.5" width="0.9" height="0.9" fill="#5b8ad2" opacity="0.74"/>
<rect x="172.0" y="531.2" width="0.9" height="0.9" fill="#5b8ad2" opacity="0.91"/>
<rect x="160.2" y="528.2" width="0.9" height="0.9" fill="#5b8ad2" opacity="0.65"/>
<rect x="174.6" y="532.9" width="0.9" height="0.9" fill="#5b8ad2" opacity="0.89"/>
<rect x="171.7" y="523.1" width="0.9" height="0.9" fill="#5b8ad2" opacity="0.81"/>
<rect x="174.6" y="529.9" width="0.9" height="0.9" fill="#5b8ad2" opacity="0.96"/>
<rect x="172.2" y="531.5" width="0.9" height="0.9" fill="#5b8ad2" opacity="0.59"/>
<rect x="167.0" y="533.3" width="0.9" height="0.9" fill="#5b8ad2" opacity="0.91"/>
<rect x="175.0" y="524.7" width="0.9" height="0.9" fill="#5b8ad2" opacity="0.61"/>
<rect x="157.5" y="537.0" width="0.9" height="0.9" fill="#5b8ad2" opacity="0.79"/>
<rect x="166.1" y="522.4" width="0.9" height="0.9" fill="#5b8ad2" opacity="0.98"/>
<rect x="165.1" y="536.5" width="0.9" height="0.9" fill="#5b8ad2" opacity="0.55"/>
<rect x="168.1" y="532.1" width="0.9" height="0.9" fill="#5b8ad2" opacity="0.66"/>
<rect x="161.4" y="540.4" width="0.9" height="0.9" fill="#5b8ad2" opacity="0.68"/>
<rect x="182.2" y="522.3" width="0.9" height="0.9" fill="#5b8ad2" opacity="0.70"/>
<rect x="160.5" y="529.5" width="0.9" height="0.9" fill="#5b8ad2" opacity="0.58"/>
<rect x="176.2" y="527.4" width="0.9" height="0.9" fill="#5b8ad2" opacity="0.95"/>
<rect x="165.7" y="539.6" width="0.9" height="0.9" fill="#5b8ad2" opacity="0.92"/>
<rect x="176.4" y="530.1" width="0.9" height="0.9" fill="#5b8ad2" opacity="0.73"/>
<rect x="155.0" y="538.5" width="0.9" height="0.9" fill="#5b8ad2" opacity="0.71"/>
<rect x="170.9" y="523.1" width="0.9" height="0.9" fill="#5b8ad2" opacity="0.81"/>
<rect x="179.7" y="532.8" width="0.9" height="0.9" fill="#5b8ad2" opacity="0.57"/>
<rect x="175.3" y="523.3" width="0.9" height="0.9" fill="#5b8ad2" opacity="0.56"/>
<rect x="165.7" y="538.1" width="0.9" height="0.9" fill="#5b8ad2" opacity="0.95"/>
<rect x="179.7" y="531.6" width="0.9" height="0.9" fill="#5b8ad2" opacity="0.69"/>
<rect x="178.1" y="525.2" width="0.9" height="0.9" fill="#5b8ad2" opacity="0.77"/>
<rect x="161.4" y="525.1" width="0.9" height="0.9" fill="#5b8ad2" opacity="0.97"/>
<rect x="180.6" y="536.9" width="0.9" height="0.9" fill="#5b8ad2" opacity="0.99"/>
<rect x="164.2" y="531.1" width="0.9" height="0.9" fill="#5b8ad2" opacity="0.76"/>
<rect x="175.0" y="529.6" width="0.9" height="0.9" fill="#5b8ad2" opacity="0.64"/>
<rect x="156.6" y="534.2" width="0.9" height="0.9" fill="#5b8ad2" opacity="0.68"/>
<rect x="165.3" y="544.3" width="0.9" height="0.9" fill="#5b8ad2" opacity="0.97"/>
<rect x="165.5" y="537.8" width="0.9" height="0.9" fill="#5b8ad2" opacity="0.95"/>
<rect x="188.5" y="530.2" width="0.9" height="0.9" fill="#5b8ad2" opacity="0.64"/>
<rect x="184.0" y="531.4" width="0.9" height="0.9" fill="#5b8ad2" opacity="0.93"/>
<rect x="158.5" y="535.1" width="0.9" height="0.9" fill="#5b8ad2" opacity="0.71"/>
<rect x="162.6" y="533.1" width="0.9" height="0.9" fill="#5b8ad2" opacity="0.76"/>
<rect x="185.4" y="512.2" width="0.9" height="0.9" fill="#5b8ad2" opacity="0.63"/>
<rect x="170.4" y="523.3" width="0.9" height="0.9" fill="#5b8ad2" opacity="0.95"/>
<rect x="182.6" y="530.4" width="0.9" height="0.9" fill="#5b8ad2" opacity="1.00"/>
<rect x="169.0" y="546.4" width="0.9" height="0.9" fill="#6a96d6" opacity="0.92"/>
<rect x="171.6" y="547.6" width="0.9" height="0.9" fill="#6a96d6" opacity="0.91"/>
<rect x="168.2" y="542.6" width="0.9" height="0.9" fill="#6a96d6" opacity="0.61"/>
<rect x="163.4" y="540.6" width="0.9" height="0.9" fill="#6a96d6" opacity="0.72"/>
<rect x="175.1" y="536.4" width="0.9" height="0.9" fill="#6a96d6" opacity="0.85"/>
<rect x="163.7" y="541.6" width="0.9" height="0.9" fill="#6a96d6" opacity="0.65"/>
<rect x="157.9" y="537.6" width="0.9" height="0.9" fill="#6a96d6" opacity="0.63"/>
<rect x="162.5" y="544.1" width="0.9" height="0.9" fill="#6a96d6" opacity="0.56"/>
<rect x="166.7" y="545.4" width="0.9" height="0.9" fill="#6a96d6" opacity="0.81"/>
<rect x="163.4" y="541.3" width="0.9" height="0.9" fill="#6a96d6" opacity="0.97"/>
<rect x="167.6" y="544.5" width="0.9" height="0.9" fill="#6a96d6" opacity="0.99"/>
<rect x="157.6" y="539.9" width="0.9" height="0.9" fill="#6a96d6" opacity="0.61"/>
<rect x="158.9" y="548.1" width="0.9" height="0.9" fill="#6a96d6" opacity="0.86"/>
<rect x="171.0" y="538.5" width="0.9" height="0.9" fill="#6a96d6" opacity="0.74"/>
<rect x="166.4" y="545.4" width="0.9" height="0.9" fill="#6a96d6" opacity="0.83"/>
<rect x="173.4" y="538.6" width="0.9" height="0.9" fill="#6a96d6" opacity="0.73"/>
<rect x="164.5" y="547.8" width="0.9" height="0.9" fill="#6a96d6" opacity="0.97"/>
<rect x="182.6" y="543.4" width="0.9" height="0.9" fill="#6a96d6" opacity="0.99"/>
<rect x="157.7" y="546.5" width="0.9" height="0.9" fill="#6a96d6" opacity="0.57"/>
<rect x="162.9" y="543.4" width="0.9" height="0.9" fill="#6a96d6" opacity="0.87"/>
<rect x="160.1" y="542.7" width="0.9" height="0.9" fill="#6a96d6" opacity="0.60"/>
<rect x="166.4" y="548.6" width="0.9" height="0.9" fill="#6a96d6" opacity="0.57"/>
<rect x="170.1" y="543.1" width="0.9" height="0.9" fill="#6a96d6" opacity="0.68"/>
<rect x="164.6" y="540.6" width="0.9" height="0.9" fill="#6a96d6" opacity="0.88"/>
<rect x="164.5" y="547.2" width="0.9" height="0.9" fill="#6a96d6" opacity="1.00"/>
<rect x="172.2" y="547.6" width="0.9" height="0.9" fill="#6a96d6" opacity="0.60"/>
<rect x="166.7" y="542.5" width="0.9" height="0.9" fill="#6a96d6" opacity="0.70"/>
<rect x="154.4" y="547.2" width="0.9" height="0.9" fill="#6a96d6" opacity="0.56"/>
<rect x="154.6" y="550.8" width="0.9" height="0.9" fill="#6a96d6" opacity="0.79"/>
<rect x="160.7" y="544.1" width="0.9" height="0.9" fill="#6a96d6" opacity="0.77"/>
<rect x="155.5" y="543.9" width="0.9" height="0.9" fill="#6a96d6" opacity="0.72"/>
<rect x="159.6" y="548.2" width="0.9" height="0.9" fill="#6a96d6" opacity="0.69"/>
<rect x="165.7" y="538.9" width="0.9" height="0.9" fill="#6a96d6" opacity="0.91"/>
<rect x="151.9" y="546.3" width="0.9" height="0.9" fill="#6a96d6" opacity="0.93"/>
<rect x="160.8" y="540.4" width="0.9" height="0.9" fill="#6a96d6" opacity="0.68"/>
<rect x="168.8" y="541.4" width="0.9" height="0.9" fill="#6a96d6" opacity="0.73"/>
<rect x="165.3" y="541.0" width="0.9" height="0.9" fill="#6a96d6" opacity="0.83"/>
<rect x="160.8" y="542.6" width="0.9" height="0.9" fill="#6a96d6" opacity="0.89"/>
<rect x="154.7" y="547.9" width="0.9" height="0.9" fill="#6a96d6" opacity="0.99"/>
<rect x="166.3" y="536.9" width="0.9" height="0.9" fill="#6a96d6" opacity="0.73"/>
<rect x="166.6" y="546.4" width="0.9" height="0.9" fill="#6a96d6" opacity="0.86"/>
<rect x="167.7" y="546.6" width="0.9" height="0.9" fill="#6a96d6" opacity="0.80"/>
<rect x="163.2" y="543.5" width="0.9" height="0.9" fill="#6a96d6" opacity="0.91"/>
<rect x="155.5" y="542.6" width="0.9" height="0.9" fill="#6a96d6" opacity="0.62"/>
<rect x="151.9" y="543.5" width="0.9" height="0.9" fill="#6a96d6" opacity="0.63"/>
<rect x="167.1" y="544.2" width="0.9" height="0.9" fill="#6a96d6" opacity="0.60"/>
<rect x="173.0" y="541.3" width="0.9" height="0.9" fill="#6a96d6" opacity="0.97"/>
<rect x="158.7" y="546.1" width="0.9" height="0.9" fill="#6a96d6" opacity="0.66"/>
<rect x="165.5" y="548.8" width="0.9" height="0.9" fill="#6a96d6" opacity="0.77"/>
<rect x="179.0" y="542.4" width="0.9" height="0.9" fill="#6a96d6" opacity="0.60"/>
<rect x="156.9" y="543.4" width="0.9" height="0.9" fill="#6a96d6" opacity="0.70"/>
<rect x="165.7" y="540.5" width="0.9" height="0.9" fill="#6a96d6" opacity="0.56"/>
<rect x="169.1" y="544.2" width="0.9" height="0.9" fill="#6a96d6" opacity="0.80"/>
<rect x="170.9" y="542.2" width="0.9" height="0.9" fill="#6a96d6" opacity="0.61"/>
<rect x="158.3" y="542.0" width="0.9" height="0.9" fill="#6a96d6" opacity="0.83"/>
<rect x="165.3" y="547.3" width="0.9" height="0.9" fill="#6a96d6" opacity="0.67"/>
<rect x="176.5" y="543.2" width="0.9" height="0.9" fill="#6a96d6" opacity="0.65"/>
<rect x="168.0" y="544.4" width="0.9" height="0.9" fill="#6a96d6" opacity="0.77"/>
<rect x="171.6" y="545.5" width="0.9" height="0.9" fill="#6a96d6" opacity="0.71"/>
<rect x="169.5" y="536.7" width="0.9" height="0.9" fill="#6a96d6" opacity="0.67"/>
<rect x="171.8" y="542.5" width="0.9" height="0.9" fill="#6a96d6" opacity="0.57"/>
<rect x="162.3" y="545.5" width="0.9" height="0.9" fill="#6a96d6" opacity="0.58"/>
<rect x="166.9" y="542.3" width="0.9" height="0.9" fill="#6a96d6" opacity="0.95"/>
<rect x="153.7" y="546.4" width="0.9" height="0.9" fill="#6a96d6" opacity="0.69"/>
<rect x="168.7" y="541.8" width="0.9" height="0.9" fill="#6a96d6" opacity="0.59"/>
<rect x="154.6" y="547.3" width="0.9" height="0.9" fill="#6a96d6" opacity="0.63"/>
<rect x="170.0" y="542.3" width="0.9" height="0.9" fill="#6a96d6" opacity="0.77"/>
<rect x="167.6" y="541.1" width="0.9" height="0.9" fill="#6a96d6" opacity="1.00"/>
<rect x="161.0" y="545.8" width="0.9" height="0.9" fill="#6a96d6" opacity="0.64"/>
<rect x="162.8" y="544.2" width="0.9" height="0.9" fill="#6a96d6" opacity="0.94"/>
<rect x="187.6" y="539.3" width="0.9" height="0.9" fill="#6a96d6" opacity="0.77"/>
<rect x="164.6" y="537.7" width="0.9" height="0.9" fill="#6a96d6" opacity="0.74"/>
<rect x="166.3" y="545.2" width="0.9" height="0.9" fill="#6a96d6" opacity="0.91"/>
<rect x="160.0" y="543.5" width="0.9" height="0.9" fill="#6a96d6" opacity="0.73"/>
<rect x="150.2" y="548.8" width="0.9" height="0.9" fill="#6a96d6" opacity="0.58"/>
<rect x="161.5" y="546.2" width="0.9" height="0.9" fill="#6a96d6" opacity="0.80"/>
<rect x="174.1" y="540.0" width="0.9" height="0.9" fill="#6a96d6" opacity="0.85"/>
<rect x="171.9" y="542.0" width="0.9" height="0.9" fill="#6a96d6" opacity="0.83"/>
<rect x="163.4" y="542.5" width="0.9" height="0.9" fill="#6a96d6" opacity="0.67"/>
<rect x="160.3" y="548.5" width="0.9" height="0.9" fill="#6a96d6" opacity="0.97"/>
<rect x="170.1" y="538.3" width="0.9" height="0.9" fill="#6a96d6" opacity="0.94"/>
<rect x="170.1" y="539.2" width="0.9" height="0.9" fill="#6a96d6" opacity="1.00"/>
<rect x="155.8" y="549.4" width="0.9" height="0.9" fill="#6a96d6" opacity="0.75"/>
<rect x="157.3" y="549.0" width="0.9" height="0.9" fill="#6a96d6" opacity="0.93"/>
<rect x="167.1" y="545.4" width="0.9" height="0.9" fill="#6a96d6" opacity="0.88"/>
<rect x="169.4" y="545.6" width="0.9" height="0.9" fill="#6a96d6" opacity="0.63"/>
<rect x="167.8" y="544.2" width="0.9" height="0.9" fill="#6a96d6" opacity="0.56"/>
<rect x="167.6" y="545.9" width="0.9" height="0.9" fill="#6a96d6" opacity="0.63"/>
<rect x="163.2" y="546.8" width="0.9" height="0.9" fill="#6a96d6" opacity="0.60"/>
<rect x="175.1" y="540.1" width="0.9" height="0.9" fill="#6a96d6" opacity="0.58"/>
<rect x="167.6" y="540.6" width="0.9" height="0.9" fill="#6a96d6" opacity="0.71"/>
<rect x="163.3" y="544.3" width="0.9" height="0.9" fill="#6a96d6" opacity="0.89"/>
<rect x="162.0" y="540.9" width="0.9" height="0.9" fill="#6a96d6" opacity="0.69"/>
<rect x="165.0" y="543.6" width="0.9" height="0.9" fill="#6a96d6" opacity="0.78"/>
<rect x="167.8" y="544.6" width="0.9" height="0.9" fill="#6a96d6" opacity="0.55"/>
<rect x="154.2" y="550.6" width="0.9" height="0.9" fill="#6a96d6" opacity="0.64"/>
<rect x="163.2" y="540.9" width="0.9" height="0.9" fill="#6a96d6" opacity="0.98"/>
<rect x="162.9" y="545.0" width="0.9" height="0.9" fill="#6a96d6" opacity="0.55"/>
<rect x="170.6" y="540.3" width="0.9" height="0.9" fill="#6a96d6" opacity="0.79"/>
<rect x="164.7" y="537.8" width="0.9" height="0.9" fill="#6a96d6" opacity="0.91"/>
<rect x="166.1" y="542.3" width="0.9" height="0.9" fill="#6a96d6" opacity="0.91"/>
<rect x="162.8" y="546.5" width="0.9" height="0.9" fill="#6a96d6" opacity="0.88"/>
<rect x="178.0" y="542.9" width="0.9" height="0.9" fill="#6a96d6" opacity="0.73"/>
<rect x="161.0" y="549.1" width="0.9" height="0.9" fill="#6a96d6" opacity="0.91"/>
<rect x="162.7" y="543.5" width="0.9" height="0.9" fill="#6a96d6" opacity="0.92"/>
<rect x="161.5" y="545.5" width="0.9" height="0.9" fill="#6a96d6" opacity="0.90"/>
<rect x="168.9" y="542.4" width="0.9" height="0.9" fill="#6a96d6" opacity="0.99"/>
<rect x="163.5" y="542.9" width="0.9" height="0.9" fill="#6a96d6" opacity="0.60"/>
<rect x="163.1" y="546.7" width="0.9" height="0.9" fill="#6a96d6" opacity="0.98"/>
<rect x="161.4" y="543.5" width="0.9" height="0.9" fill="#6a96d6" opacity="0.73"/>
<rect x="163.0" y="541.1" width="0.9" height="0.9" fill="#6a96d6" opacity="0.87"/>
<rect x="162.3" y="538.9" width="0.9" height="0.9" fill="#6a96d6" opacity="0.66"/>
<rect x="168.2" y="543.9" width="0.9" height="0.9" fill="#6a96d6" opacity="0.96"/>
<rect x="164.3" y="548.3" width="0.9" height="0.9" fill="#6a96d6" opacity="0.56"/>
<rect x="159.9" y="546.2" width="0.9" height="0.9" fill="#6a96d6" opacity="0.81"/>
<rect x="167.8" y="540.5" width="0.9" height="0.9" fill="#6a96d6" opacity="0.65"/>
<rect x="164.1" y="546.2" width="0.9" height="0.9" fill="#6a96d6" opacity="0.72"/>
<rect x="165.6" y="543.8" width="0.9" height="0.9" fill="#6a96d6" opacity="0.72"/>
<rect x="174.6" y="541.1" width="0.9" height="0.9" fill="#6a96d6" opacity="0.85"/>
<rect x="153.1" y="543.8" width="0.9" height="0.9" fill="#6a96d6" opacity="0.91"/>
<rect x="170.5" y="541.1" width="0.9" height="0.9" fill="#6a96d6" opacity="0.71"/>
<rect x="156.1" y="538.9" width="0.9" height="0.9" fill="#6a96d6" opacity="0.84"/>
<rect x="168.4" y="547.0" width="0.9" height="0.9" fill="#6a96d6" opacity="0.71"/>
<rect x="154.8" y="538.6" width="0.9" height="0.9" fill="#6a96d6" opacity="0.68"/>
<rect x="167.9" y="540.4" width="0.9" height="0.9" fill="#6a96d6" opacity="0.96"/>
<rect x="162.8" y="542.5" width="0.9" height="0.9" fill="#6a96d6" opacity="0.69"/>
<rect x="159.3" y="546.0" width="0.9" height="0.9" fill="#6a96d6" opacity="0.59"/>
<rect x="171.5" y="542.5" width="0.9" height="0.9" fill="#6a96d6" opacity="0.70"/>
<rect x="162.1" y="547.2" width="0.9" height="0.9" fill="#6a96d6" opacity="0.88"/>
<rect x="164.7" y="545.0" width="0.9" height="0.9" fill="#6a96d6" opacity="0.65"/>
<rect x="159.3" y="546.7" width="0.9" height="0.9" fill="#6a96d6" opacity="0.88"/>
<rect x="171.1" y="545.6" width="0.9" height="0.9" fill="#6a96d6" opacity="0.80"/>
<rect x="165.6" y="544.3" width="0.9" height="0.9" fill="#6a96d6" opacity="0.86"/>
<rect x="161.9" y="546.7" width="0.9" height="0.9" fill="#6a96d6" opacity="0.63"/>
<rect x="171.1" y="544.9" width="0.9" height="0.9" fill="#6a96d6" opacity="0.60"/>
<rect x="161.4" y="539.9" width="0.9" height="0.9" fill="#6a96d6" opacity="0.61"/>
<rect x="164.4" y="542.5" width="0.9" height="0.9" fill="#6a96d6" opacity="0.71"/>
<rect x="160.5" y="546.2" width="0.9" height="0.9" fill="#6a96d6" opacity="0.74"/>
<rect x="171.7" y="542.5" width="0.9" height="0.9" fill="#6a96d6" opacity="0.55"/>
<rect x="172.8" y="542.2" width="0.9" height="0.9" fill="#6a96d6" opacity="0.78"/>
<rect x="158.0" y="543.0" width="0.9" height="0.9" fill="#6a96d6" opacity="0.73"/>
<rect x="163.2" y="545.7" width="0.9" height="0.9" fill="#6a96d6" opacity="0.69"/>
<rect x="171.3" y="541.8" width="0.9" height="0.9" fill="#6a96d6" opacity="0.79"/>
<rect x="171.1" y="538.7" width="0.9" height="0.9" fill="#6a96d6" opacity="0.98"/>
<rect x="165.5" y="547.8" width="0.9" height="0.9" fill="#6a96d6" opacity="0.64"/>
<rect x="168.8" y="545.4" width="0.9" height="0.9" fill="#6a96d6" opacity="0.95"/>
<rect x="151.0" y="541.3" width="0.9" height="0.9" fill="#6a96d6" opacity="0.69"/>
<rect x="160.1" y="547.6" width="0.9" height="0.9" fill="#6a96d6" opacity="0.89"/>
<rect x="175.4" y="538.2" width="0.9" height="0.9" fill="#6a96d6" opacity="0.60"/>
<rect x="157.6" y="541.7" width="0.9" height="0.9" fill="#6a96d6" opacity="0.99"/>
<rect x="159.5" y="546.3" width="0.9" height="0.9" fill="#6a96d6" opacity="0.74"/>
<rect x="164.5" y="549.3" width="0.9" height="0.9" fill="#6a96d6" opacity="0.98"/>
<rect x="169.3" y="539.6" width="0.9" height="0.9" fill="#6a96d6" opacity="0.65"/>
<rect x="166.5" y="542.1" width="0.9" height="0.9" fill="#6a96d6" opacity="0.73"/>
<rect x="171.0" y="544.4" width="0.9" height="0.9" fill="#6a96d6" opacity="0.87"/>
<rect x="163.4" y="546.3" width="0.9" height="0.9" fill="#6a96d6" opacity="0.63"/>
<rect x="168.7" y="541.7" width="0.9" height="0.9" fill="#6a96d6" opacity="0.67"/>
<rect x="167.3" y="544.6" width="0.9" height="0.9" fill="#6a96d6" opacity="0.85"/>
<rect x="162.4" y="541.5" width="0.9" height="0.9" fill="#6a96d6" opacity="0.98"/>
<rect x="173.5" y="540.8" width="0.9" height="0.9" fill="#6a96d6" opacity="0.70"/>
<rect x="161.4" y="545.5" width="0.9" height="0.9" fill="#6a96d6" opacity="0.63"/>
<rect x="155.3" y="545.8" width="0.9" height="0.9" fill="#6a96d6" opacity="0.71"/>
<rect x="155.6" y="544.1" width="0.9" height="0.9" fill="#6a96d6" opacity="1.00"/>
<rect x="152.6" y="544.0" width="0.9" height="0.9" fill="#6a96d6" opacity="0.62"/>
<rect x="170.8" y="540.9" width="0.9" height="0.9" fill="#6a96d6" opacity="0.84"/>
<rect x="158.4" y="550.4" width="0.9" height="0.9" fill="#6a96d6" opacity="0.72"/>
<rect x="162.1" y="548.6" width="0.9" height="0.9" fill="#6a96d6" opacity="0.84"/>
<rect x="160.3" y="539.5" width="0.9" height="0.9" fill="#6a96d6" opacity="0.65"/>
<rect x="176.9" y="538.4" width="0.9" height="0.9" fill="#6a96d6" opacity="0.83"/>
<rect x="171.1" y="545.3" width="0.9" height="0.9" fill="#6a96d6" opacity="0.95"/>
<rect x="156.4" y="545.6" width="0.9" height="0.9" fill="#6a96d6" opacity="0.94"/>
<rect x="161.7" y="545.9" width="0.9" height="0.9" fill="#6a96d6" opacity="0.83"/>
<rect x="163.9" y="539.2" width="0.9" height="0.9" fill="#6a96d6" opacity="0.78"/>
<rect x="166.0" y="545.2" width="0.9" height="0.9" fill="#6a96d6" opacity="0.81"/>
<rect x="163.5" y="545.2" width="0.9" height="0.9" fill="#6a96d6" opacity="0.60"/>
<rect x="161.5" y="543.8" width="0.9" height="0.9" fill="#6a96d6" opacity="0.93"/>
<rect x="167.5" y="542.8" width="0.9" height="0.9" fill="#6a96d6" opacity="0.86"/>
<rect x="174.2" y="543.6" width="0.9" height="0.9" fill="#6a96d6" opacity="0.75"/>
<rect x="171.2" y="543.7" width="0.9" height="0.9" fill="#6a96d6" opacity="0.85"/>
<rect x="165.1" y="539.2" width="0.9" height="0.9" fill="#6a96d6" opacity="0.74"/>
<rect x="173.5" y="546.4" width="0.9" height="0.9" fill="#6a96d6" opacity="0.72"/>
<rect x="166.3" y="541.8" width="0.9" height="0.9" fill="#6a96d6" opacity="0.65"/>
<rect x="165.8" y="546.7" width="0.9" height="0.9" fill="#6a96d6" opacity="0.82"/>
<rect x="166.2" y="539.5" width="0.9" height="0.9" fill="#6a96d6" opacity="0.81"/>
<rect x="163.3" y="541.0" width="0.9" height="0.9" fill="#6a96d6" opacity="0.78"/>
<rect x="163.0" y="540.7" width="0.9" height="0.9" fill="#6a96d6" opacity="0.56"/>
<rect x="160.5" y="549.0" width="0.9" height="0.9" fill="#6a96d6" opacity="0.83"/>
<rect x="170.7" y="536.3" width="0.9" height="0.9" fill="#6a96d6" opacity="0.75"/>
<rect x="158.2" y="543.4" width="0.9" height="0.9" fill="#6a96d6" opacity="0.82"/>
<rect x="161.4" y="539.5" width="0.9" height="0.9" fill="#6a96d6" opacity="0.82"/>
<rect x="153.7" y="547.0" width="0.9" height="0.9" fill="#5b8ad2" opacity="0.98"/>
<rect x="146.0" y="550.2" width="0.9" height="0.9" fill="#5b8ad2" opacity="0.95"/>
<rect x="153.0" y="543.7" width="0.9" height="0.9" fill="#5b8ad2" opacity="0.56"/>
<rect x="154.1" y="533.0" width="0.9" height="0.9" fill="#5b8ad2" opacity="0.71"/>
<rect x="148.4" y="553.3" width="0.9" height="0.9" fill="#5b8ad2" opacity="0.79"/>
<rect x="155.2" y="559.3" width="0.9" height="0.9" fill="#5b8ad2" opacity="0.79"/>
<rect x="151.0" y="548.0" width="0.9" height="0.9" fill="#5b8ad2" opacity="0.60"/>
<rect x="154.9" y="542.2" width="0.9" height="0.9" fill="#5b8ad2" opacity="0.91"/>
<rect x="156.4" y="544.9" width="0.9" height="0.9" fill="#5b8ad2" opacity="0.69"/>
<rect x="154.0" y="542.4" width="0.9" height="0.9" fill="#5b8ad2" opacity="0.78"/>
<rect x="153.2" y="548.0" width="0.9" height="0.9" fill="#5b8ad2" opacity="0.61"/>
<rect x="155.4" y="542.6" width="0.9" height="0.9" fill="#5b8ad2" opacity="0.81"/>
<rect x="151.2" y="557.0" width="0.9" height="0.9" fill="#5b8ad2" opacity="0.61"/>
<rect x="149.9" y="549.4" width="0.9" height="0.9" fill="#5b8ad2" opacity="0.59"/>
<rect x="153.7" y="545.7" width="0.9" height="0.9" fill="#5b8ad2" opacity="0.78"/>
<rect x="151.0" y="554.9" width="0.9" height="0.9" fill="#5b8ad2" opacity="0.68"/>
<rect x="154.4" y="551.1" width="0.9" height="0.9" fill="#5b8ad2" opacity="0.90"/>
<rect x="153.8" y="542.5" width="0.9" height="0.9" fill="#5b8ad2" opacity="0.66"/>
<rect x="151.4" y="556.9" width="0.9" height="0.9" fill="#5b8ad2" opacity="0.74"/>
<rect x="155.5" y="541.6" width="0.9" height="0.9" fill="#5b8ad2" opacity="0.57"/>
<rect x="148.9" y="544.1" width="0.9" height="0.9" fill="#5b8ad2" opacity="0.65"/>
<rect x="153.2" y="545.3" width="0.9" height="0.9" fill="#5b8ad2" opacity="0.75"/>
<rect x="151.7" y="549.6" width="0.9" height="0.9" fill="#5b8ad2" opacity="0.80"/>
<rect x="154.1" y="549.3" width="0.9" height="0.9" fill="#5b8ad2" opacity="0.76"/>
<rect x="156.0" y="541.3" width="0.9" height="0.9" fill="#5b8ad2" opacity="0.93"/>
<rect x="153.1" y="550.2" width="0.9" height="0.9" fill="#5b8ad2" opacity="0.60"/>
<rect x="148.7" y="553.8" width="0.9" height="0.9" fill="#5b8ad2" opacity="0.93"/>
<rect x="150.3" y="540.4" width="0.9" height="0.9" fill="#5b8ad2" opacity="0.62"/>
<rect x="156.9" y="555.2" width="0.9" height="0.9" fill="#5b8ad2" opacity="0.99"/>
<rect x="152.3" y="554.8" width="0.9" height="0.9" fill="#5b8ad2" opacity="0.79"/>
<rect x="155.6" y="542.7" width="0.9" height="0.9" fill="#5b8ad2" opacity="0.73"/>
<rect x="152.5" y="555.1" width="0.9" height="0.9" fill="#5b8ad2" opacity="0.83"/>
<rect x="152.1" y="548.3" width="0.9" height="0.9" fill="#5b8ad2" opacity="0.94"/>
<rect x="151.1" y="551.5" width="0.9" height="0.9" fill="#5b8ad2" opacity="0.98"/>
<rect x="151.8" y="544.9" width="0.9" height="0.9" fill="#5b8ad2" opacity="0.74"/>
<rect x="150.7" y="543.1" width="0.9" height="0.9" fill="#5b8ad2" opacity="0.55"/>
<rect x="152.6" y="550.4" width="0.9" height="0.9" fill="#5b8ad2" opacity="0.62"/>
<rect x="152.5" y="542.7" width="0.9" height="0.9" fill="#5b8ad2" opacity="0.92"/>
<rect x="152.9" y="549.9" width="0.9" height="0.9" fill="#5b8ad2" opacity="0.88"/>
<rect x="155.4" y="545.9" width="0.9" height="0.9" fill="#5b8ad2" opacity="0.87"/>
<rect x="151.3" y="550.4" width="0.9" height="0.9" fill="#5b8ad2" opacity="0.62"/>
<rect x="155.6" y="548.2" width="0.9" height="0.9" fill="#5b8ad2" opacity="0.79"/>
<rect x="153.0" y="543.3" width="0.9" height="0.9" fill="#5b8ad2" opacity="0.56"/>
<rect x="151.1" y="552.6" width="0.9" height="0.9" fill="#5b8ad2" opacity="0.60"/>
<rect x="153.4" y="553.8" width="0.9" height="0.9" fill="#5b8ad2" opacity="0.69"/>
<rect x="148.6" y="551.7" width="0.9" height="0.9" fill="#5b8ad2" opacity="0.98"/>
<rect x="150.2" y="550.7" width="0.9" height="0.9" fill="#5b8ad2" opacity="0.84"/>
<rect x="147.9" y="546.9" width="0.9" height="0.9" fill="#5b8ad2" opacity="0.93"/>
<rect x="149.8" y="554.1" width="0.9" height="0.9" fill="#5b8ad2" opacity="0.57"/>
<rect x="151.8" y="554.5" width="0.9" height="0.9" fill="#5b8ad2" opacity="0.74"/>
<rect x="150.2" y="557.7" width="0.9" height="0.9" fill="#5b8ad2" opacity="0.59"/>
<rect x="150.3" y="557.3" width="0.9" height="0.9" fill="#5b8ad2" opacity="0.67"/>
<rect x="152.2" y="543.0" width="0.9" height="0.9" fill="#5b8ad2" opacity="0.60"/>
<rect x="154.6" y="546.3" width="0.9" height="0.9" fill="#5b8ad2" opacity="0.96"/>
<rect x="153.3" y="541.3" width="0.9" height="0.9" fill="#5b8ad2" opacity="0.70"/>
<rect x="151.7" y="548.5" width="0.9" height="0.9" fill="#5b8ad2" opacity="0.77"/>
<rect x="150.8" y="549.8" width="0.9" height="0.9" fill="#5b8ad2" opacity="0.84"/>
<rect x="147.3" y="551.8" width="0.9" height="0.9" fill="#5b8ad2" opacity="0.95"/>
<rect x="150.7" y="555.2" width="0.9" height="0.9" fill="#5b8ad2" opacity="0.98"/>
<rect x="152.3" y="544.6" width="0.9" height="0.9" fill="#5b8ad2" opacity="0.81"/>
<rect x="151.4" y="549.3" width="0.9" height="0.9" fill="#5b8ad2" opacity="0.78"/>
<rect x="154.0" y="545.9" width="0.9" height="0.9" fill="#5b8ad2" opacity="0.96"/>
<rect x="150.6" y="549.9" width="0.9" height="0.9" fill="#5b8ad2" opacity="0.73"/>
<rect x="155.4" y="539.5" width="0.9" height="0.9" fill="#5b8ad2" opacity="0.68"/>
<rect x="150.9" y="544.3" width="0.9" height="0.9" fill="#5b8ad2" opacity="0.88"/>
<rect x="155.1" y="554.6" width="0.9" height="0.9" fill="#5b8ad2" opacity="0.67"/>
<rect x="153.8" y="550.7" width="0.9" height="0.9" fill="#5b8ad2" opacity="0.72"/>
<rect x="149.5" y="553.3" width="0.9" height="0.9" fill="#5b8ad2" opacity="0.74"/>
<rect x="152.2" y="543.9" width="0.9" height="0.9" fill="#5b8ad2" opacity="0.76"/>
<rect x="157.4" y="541.3" width="0.9" height="0.9" fill="#5b8ad2" opacity="0.71"/>
<rect x="155.1" y="549.4" width="0.9" height="0.9" fill="#5b8ad2" opacity="0.74"/>
<rect x="150.5" y="548.6" width="0.9" height="0.9" fill="#5b8ad2" opacity="0.75"/>
<rect x="150.7" y="548.7" width="0.9" height="0.9" fill="#5b8ad2" opacity="0.57"/>
<rect x="152.0" y="541.9" width="0.9" height="0.9" fill="#5b8ad2" opacity="0.93"/>
<rect x="158.2" y="546.2" width="0.9" height="0.9" fill="#5b8ad2" opacity="0.58"/>
<rect x="154.5" y="548.0" width="0.9" height="0.9" fill="#5b8ad2" opacity="0.79"/>
<rect x="154.7" y="541.9" width="0.9" height="0.9" fill="#5b8ad2" opacity="0.80"/>
<rect x="152.7" y="531.3" width="0.9" height="0.9" fill="#5b8ad2" opacity="0.73"/>
<rect x="154.2" y="550.5" width="0.9" height="0.9" fill="#5b8ad2" opacity="0.65"/>
<rect x="149.6" y="551.9" width="0.9" height="0.9" fill="#5b8ad2" opacity="0.59"/>
<rect x="151.6" y="562.9" width="0.9" height="0.9" fill="#5b8ad2" opacity="0.72"/>
<rect x="152.3" y="552.7" width="0.9" height="0.9" fill="#5b8ad2" opacity="0.69"/>
<rect x="153.2" y="552.1" width="0.9" height="0.9" fill="#5b8ad2" opacity="0.77"/>
<rect x="152.7" y="545.9" width="0.9" height="0.9" fill="#5b8ad2" opacity="0.65"/>
<rect x="153.1" y="554.4" width="0.9" height="0.9" fill="#5b8ad2" opacity="0.89"/>
<rect x="151.0" y="542.0" width="0.9" height="0.9" fill="#5b8ad2" opacity="0.77"/>
<rect x="151.2" y="557.0" width="0.9" height="0.9" fill="#5b8ad2" opacity="0.55"/>
<rect x="153.3" y="539.4" width="0.9" height="0.9" fill="#5b8ad2" opacity="0.73"/>
<rect x="153.6" y="552.0" width="0.9" height="0.9" fill="#5b8ad2" opacity="0.98"/>
<rect x="156.3" y="549.5" width="0.9" height="0.9" fill="#5b8ad2" opacity="0.55"/>
<rect x="147.8" y="551.5" width="0.9" height="0.9" fill="#8aaee0" opacity="0.89"/>
<rect x="149.7" y="566.1" width="0.9" height="0.9" fill="#8aaee0" opacity="0.72"/>
<rect x="150.1" y="563.7" width="0.9" height="0.9" fill="#8aaee0" opacity="0.75"/>
<rect x="149.5" y="554.9" width="0.9" height="0.9" fill="#8aaee0" opacity="0.75"/>
<rect x="150.3" y="566.5" width="0.9" height="0.9" fill="#8aaee0" opacity="0.60"/>
<rect x="148.5" y="559.0" width="0.9" height="0.9" fill="#8aaee0" opacity="0.69"/>
<rect x="151.6" y="560.9" width="0.9" height="0.9" fill="#8aaee0" opacity="0.88"/>
<rect x="151.0" y="564.8" width="0.9" height="0.9" fill="#8aaee0" opacity="0.58"/>
<rect x="151.4" y="553.9" width="0.9" height="0.9" fill="#8aaee0" opacity="0.60"/>
<rect x="152.0" y="555.3" width="0.9" height="0.9" fill="#8aaee0" opacity="0.93"/>
<rect x="150.5" y="568.8" width="0.9" height="0.9" fill="#8aaee0" opacity="0.85"/>
<rect x="154.7" y="568.8" width="0.9" height="0.9" fill="#8aaee0" opacity="0.80"/>
<rect x="151.7" y="555.3" width="0.9" height="0.9" fill="#8aaee0" opacity="0.60"/>
<rect x="149.9" y="570.1" width="0.9" height="0.9" fill="#8aaee0" opacity="0.60"/>
<rect x="151.5" y="551.6" width="0.9" height="0.9" fill="#8aaee0" opacity="0.69"/>
<rect x="153.4" y="563.6" width="0.9" height="0.9" fill="#8aaee0" opacity="0.98"/>
<rect x="153.0" y="562.5" width="0.9" height="0.9" fill="#8aaee0" opacity="0.80"/>
<rect x="147.7" y="555.6" width="0.9" height="0.9" fill="#8aaee0" opacity="0.97"/>
<rect x="150.8" y="559.0" width="0.9" height="0.9" fill="#8aaee0" opacity="0.65"/>
<rect x="153.3" y="556.0" width="0.9" height="0.9" fill="#8aaee0" opacity="0.74"/>
<rect x="150.9" y="559.7" width="0.9" height="0.9" fill="#8aaee0" opacity="0.79"/>
<rect x="150.9" y="553.8" width="0.9" height="0.9" fill="#8aaee0" opacity="0.93"/>
<rect x="149.2" y="544.4" width="0.9" height="0.9" fill="#8aaee0" opacity="0.61"/>
<rect x="151.5" y="558.8" width="0.9" height="0.9" fill="#8aaee0" opacity="0.94"/>
<rect x="151.3" y="553.7" width="0.9" height="0.9" fill="#8aaee0" opacity="0.76"/>
<g filter="url(#fblur)" transform="rotate(-30 168.8 530.4)">
<ellipse cx="168.8" cy="530.4" rx="10.50" ry="5.00" fill="#9dbce8"/>
<ellipse cx="168.8" cy="530.4" rx="9.03" ry="4.30" fill="#5b90d6"/>
<ellipse cx="168.8" cy="530.4" rx="7.56" ry="3.60" fill="#2ea6cc"/>
<ellipse cx="168.8" cy="530.4" rx="6.09" ry="2.90" fill="#3bb45a"/>
<ellipse cx="168.8" cy="530.4" rx="4.62" ry="2.20" fill="#9cca34"/>
<ellipse cx="168.8" cy="530.4" rx="3.25" ry="1.55" fill="#f2cf22"/>
<ellipse cx="168.8" cy="530.4" rx="2.00" ry="0.95" fill="#f2801e"/>
<ellipse cx="168.8" cy="530.4" rx="0.94" ry="0.45" fill="#e0281a"/>
</g>
</g>
<rect x="132.3" y="502.6" width="71.6" height="71.0" fill="none" stroke="#111" stroke-width="1.0"/>
<line x1="155.50" y1="502.60" x2="155.50" y2="573.60" stroke="#111" stroke-width="1.0"/>
<line x1="132.30" y1="538.30" x2="203.90" y2="538.30" stroke="#111" stroke-width="1.0"/>
<line x1="129.50" y1="573.60" x2="132.30" y2="573.60" stroke="#111" stroke-width="0.8"/>
<line x1="130.30" y1="569.57" x2="132.30" y2="569.57" stroke="#111" stroke-width="0.8"/>
<line x1="130.30" y1="567.21" x2="132.30" y2="567.21" stroke="#111" stroke-width="0.8"/>
<line x1="130.30" y1="565.53" x2="132.30" y2="565.53" stroke="#111" stroke-width="0.8"/>
<line x1="130.30" y1="564.23" x2="132.30" y2="564.23" stroke="#111" stroke-width="0.8"/>
<line x1="130.30" y1="563.17" x2="132.30" y2="563.17" stroke="#111" stroke-width="0.8"/>
<line x1="130.30" y1="562.28" x2="132.30" y2="562.28" stroke="#111" stroke-width="0.8"/>
<line x1="130.30" y1="561.50" x2="132.30" y2="561.50" stroke="#111" stroke-width="0.8"/>
<line x1="130.30" y1="560.81" x2="132.30" y2="560.81" stroke="#111" stroke-width="0.8"/>
<line x1="129.50" y1="560.20" x2="132.30" y2="560.20" stroke="#111" stroke-width="0.8"/>
<line x1="130.30" y1="556.17" x2="132.30" y2="556.17" stroke="#111" stroke-width="0.8"/>
<line x1="130.30" y1="553.81" x2="132.30" y2="553.81" stroke="#111" stroke-width="0.8"/>
<line x1="130.30" y1="552.13" x2="132.30" y2="552.13" stroke="#111" stroke-width="0.8"/>
<line x1="130.30" y1="550.83" x2="132.30" y2="550.83" stroke="#111" stroke-width="0.8"/>
<line x1="130.30" y1="549.77" x2="132.30" y2="549.77" stroke="#111" stroke-width="0.8"/>
<line x1="130.30" y1="548.88" x2="132.30" y2="548.88" stroke="#111" stroke-width="0.8"/>
<line x1="130.30" y1="548.10" x2="132.30" y2="548.10" stroke="#111" stroke-width="0.8"/>
<line x1="130.30" y1="547.41" x2="132.30" y2="547.41" stroke="#111" stroke-width="0.8"/>
<line x1="129.50" y1="546.80" x2="132.30" y2="546.80" stroke="#111" stroke-width="0.8"/>
<line x1="130.30" y1="542.77" x2="132.30" y2="542.77" stroke="#111" stroke-width="0.8"/>
<line x1="130.30" y1="540.41" x2="132.30" y2="540.41" stroke="#111" stroke-width="0.8"/>
<line x1="130.30" y1="538.73" x2="132.30" y2="538.73" stroke="#111" stroke-width="0.8"/>
<line x1="130.30" y1="537.43" x2="132.30" y2="537.43" stroke="#111" stroke-width="0.8"/>
<line x1="130.30" y1="536.37" x2="132.30" y2="536.37" stroke="#111" stroke-width="0.8"/>
<line x1="130.30" y1="535.48" x2="132.30" y2="535.48" stroke="#111" stroke-width="0.8"/>
<line x1="130.30" y1="534.70" x2="132.30" y2="534.70" stroke="#111" stroke-width="0.8"/>
<line x1="130.30" y1="534.01" x2="132.30" y2="534.01" stroke="#111" stroke-width="0.8"/>
<line x1="129.50" y1="533.40" x2="132.30" y2="533.40" stroke="#111" stroke-width="0.8"/>
<line x1="130.30" y1="529.37" x2="132.30" y2="529.37" stroke="#111" stroke-width="0.8"/>
<line x1="130.30" y1="527.01" x2="132.30" y2="527.01" stroke="#111" stroke-width="0.8"/>
<line x1="130.30" y1="525.33" x2="132.30" y2="525.33" stroke="#111" stroke-width="0.8"/>
<line x1="130.30" y1="524.03" x2="132.30" y2="524.03" stroke="#111" stroke-width="0.8"/>
<line x1="130.30" y1="522.97" x2="132.30" y2="522.97" stroke="#111" stroke-width="0.8"/>
<line x1="130.30" y1="522.08" x2="132.30" y2="522.08" stroke="#111" stroke-width="0.8"/>
<line x1="130.30" y1="521.30" x2="132.30" y2="521.30" stroke="#111" stroke-width="0.8"/>
<line x1="130.30" y1="520.61" x2="132.30" y2="520.61" stroke="#111" stroke-width="0.8"/>
<line x1="129.50" y1="520.00" x2="132.30" y2="520.00" stroke="#111" stroke-width="0.8"/>
<line x1="130.30" y1="515.97" x2="132.30" y2="515.97" stroke="#111" stroke-width="0.8"/>
<line x1="130.30" y1="513.61" x2="132.30" y2="513.61" stroke="#111" stroke-width="0.8"/>
<line x1="130.30" y1="511.93" x2="132.30" y2="511.93" stroke="#111" stroke-width="0.8"/>
<line x1="130.30" y1="510.63" x2="132.30" y2="510.63" stroke="#111" stroke-width="0.8"/>
<line x1="130.30" y1="509.57" x2="132.30" y2="509.57" stroke="#111" stroke-width="0.8"/>
<line x1="130.30" y1="508.68" x2="132.30" y2="508.68" stroke="#111" stroke-width="0.8"/>
<line x1="130.30" y1="507.90" x2="132.30" y2="507.90" stroke="#111" stroke-width="0.8"/>
<line x1="130.30" y1="507.21" x2="132.30" y2="507.21" stroke="#111" stroke-width="0.8"/>
<line x1="138.30" y1="573.60" x2="138.30" y2="576.40" stroke="#111" stroke-width="0.8"/>
<line x1="142.33" y1="573.60" x2="142.33" y2="575.60" stroke="#111" stroke-width="0.8"/>
<line x1="144.69" y1="573.60" x2="144.69" y2="575.60" stroke="#111" stroke-width="0.8"/>
<line x1="146.37" y1="573.60" x2="146.37" y2="575.60" stroke="#111" stroke-width="0.8"/>
<line x1="147.67" y1="573.60" x2="147.67" y2="575.60" stroke="#111" stroke-width="0.8"/>
<line x1="148.73" y1="573.60" x2="148.73" y2="575.60" stroke="#111" stroke-width="0.8"/>
<line x1="149.62" y1="573.60" x2="149.62" y2="575.60" stroke="#111" stroke-width="0.8"/>
<line x1="150.40" y1="573.60" x2="150.40" y2="575.60" stroke="#111" stroke-width="0.8"/>
<line x1="151.09" y1="573.60" x2="151.09" y2="575.60" stroke="#111" stroke-width="0.8"/>
<line x1="151.70" y1="573.60" x2="151.70" y2="576.40" stroke="#111" stroke-width="0.8"/>
<line x1="155.73" y1="573.60" x2="155.73" y2="575.60" stroke="#111" stroke-width="0.8"/>
<line x1="158.09" y1="573.60" x2="158.09" y2="575.60" stroke="#111" stroke-width="0.8"/>
<line x1="159.77" y1="573.60" x2="159.77" y2="575.60" stroke="#111" stroke-width="0.8"/>
<line x1="161.07" y1="573.60" x2="161.07" y2="575.60" stroke="#111" stroke-width="0.8"/>
<line x1="162.13" y1="573.60" x2="162.13" y2="575.60" stroke="#111" stroke-width="0.8"/>
<line x1="163.02" y1="573.60" x2="163.02" y2="575.60" stroke="#111" stroke-width="0.8"/>
<line x1="163.80" y1="573.60" x2="163.80" y2="575.60" stroke="#111" stroke-width="0.8"/>
<line x1="164.49" y1="573.60" x2="164.49" y2="575.60" stroke="#111" stroke-width="0.8"/>
<line x1="165.10" y1="573.60" x2="165.10" y2="576.40" stroke="#111" stroke-width="0.8"/>
<line x1="169.13" y1="573.60" x2="169.13" y2="575.60" stroke="#111" stroke-width="0.8"/>
<line x1="171.49" y1="573.60" x2="171.49" y2="575.60" stroke="#111" stroke-width="0.8"/>
<line x1="173.17" y1="573.60" x2="173.17" y2="575.60" stroke="#111" stroke-width="0.8"/>
<line x1="174.47" y1="573.60" x2="174.47" y2="575.60" stroke="#111" stroke-width="0.8"/>
<line x1="175.53" y1="573.60" x2="175.53" y2="575.60" stroke="#111" stroke-width="0.8"/>
<line x1="176.42" y1="573.60" x2="176.42" y2="575.60" stroke="#111" stroke-width="0.8"/>
<line x1="177.20" y1="573.60" x2="177.20" y2="575.60" stroke="#111" stroke-width="0.8"/>
<line x1="177.89" y1="573.60" x2="177.89" y2="575.60" stroke="#111" stroke-width="0.8"/>
<line x1="178.50" y1="573.60" x2="178.50" y2="576.40" stroke="#111" stroke-width="0.8"/>
<line x1="182.53" y1="573.60" x2="182.53" y2="575.60" stroke="#111" stroke-width="0.8"/>
<line x1="184.89" y1="573.60" x2="184.89" y2="575.60" stroke="#111" stroke-width="0.8"/>
<line x1="186.57" y1="573.60" x2="186.57" y2="575.60" stroke="#111" stroke-width="0.8"/>
<line x1="187.87" y1="573.60" x2="187.87" y2="575.60" stroke="#111" stroke-width="0.8"/>
<line x1="188.93" y1="573.60" x2="188.93" y2="575.60" stroke="#111" stroke-width="0.8"/>
<line x1="189.82" y1="573.60" x2="189.82" y2="575.60" stroke="#111" stroke-width="0.8"/>
<line x1="190.60" y1="573.60" x2="190.60" y2="575.60" stroke="#111" stroke-width="0.8"/>
<line x1="191.29" y1="573.60" x2="191.29" y2="575.60" stroke="#111" stroke-width="0.8"/>
<line x1="191.90" y1="573.60" x2="191.90" y2="576.40" stroke="#111" stroke-width="0.8"/>
<line x1="195.93" y1="573.60" x2="195.93" y2="575.60" stroke="#111" stroke-width="0.8"/>
<line x1="198.29" y1="573.60" x2="198.29" y2="575.60" stroke="#111" stroke-width="0.8"/>
<line x1="199.97" y1="573.60" x2="199.97" y2="575.60" stroke="#111" stroke-width="0.8"/>
<line x1="201.27" y1="573.60" x2="201.27" y2="575.60" stroke="#111" stroke-width="0.8"/>
<line x1="202.33" y1="573.60" x2="202.33" y2="575.60" stroke="#111" stroke-width="0.8"/>
<line x1="203.22" y1="573.60" x2="203.22" y2="575.60" stroke="#111" stroke-width="0.8"/>
<rect x="147.3" y="573.6" width="2.8" height="2.2" fill="#222"/>
<text x="168.3" y="497" font-size="7.5" text-anchor="middle" fill="#1a1a1a" color="#1a1a1a">BM</text>
<clipPath id="cpSp"><rect x="211.9" y="502.6" width="71.20000000000002" height="71.0"/></clipPath>
<g clip-path="url(#cpSp)">
<rect x="257.5" y="525.7" width="0.9" height="0.9" fill="#5b8ad2" opacity="0.99"/>
<rect x="245.0" y="541.1" width="0.9" height="0.9" fill="#5b8ad2" opacity="0.68"/>
<rect x="254.8" y="521.9" width="0.9" height="0.9" fill="#5b8ad2" opacity="0.63"/>
<rect x="242.9" y="527.0" width="0.9" height="0.9" fill="#5b8ad2" opacity="0.88"/>
<rect x="247.9" y="527.1" width="0.9" height="0.9" fill="#5b8ad2" opacity="0.66"/>
<rect x="246.5" y="526.9" width="0.9" height="0.9" fill="#5b8ad2" opacity="0.81"/>
<rect x="243.5" y="531.1" width="0.9" height="0.9" fill="#5b8ad2" opacity="0.62"/>
<rect x="248.3" y="534.4" width="0.9" height="0.9" fill="#5b8ad2" opacity="0.98"/>
<rect x="247.3" y="539.8" width="0.9" height="0.9" fill="#5b8ad2" opacity="0.68"/>
<rect x="241.3" y="534.4" width="0.9" height="0.9" fill="#5b8ad2" opacity="0.59"/>
<rect x="233.1" y="534.3" width="0.9" height="0.9" fill="#5b8ad2" opacity="0.86"/>
<rect x="246.7" y="539.8" width="0.9" height="0.9" fill="#5b8ad2" opacity="0.71"/>
<rect x="229.7" y="546.2" width="0.9" height="0.9" fill="#5b8ad2" opacity="0.80"/>
<rect x="248.7" y="541.0" width="0.9" height="0.9" fill="#5b8ad2" opacity="0.77"/>
<rect x="252.5" y="533.7" width="0.9" height="0.9" fill="#5b8ad2" opacity="0.97"/>
<rect x="243.0" y="523.9" width="0.9" height="0.9" fill="#5b8ad2" opacity="0.78"/>
<rect x="250.2" y="532.0" width="0.9" height="0.9" fill="#5b8ad2" opacity="0.72"/>
<rect x="249.0" y="523.1" width="0.9" height="0.9" fill="#5b8ad2" opacity="0.55"/>
<rect x="243.5" y="525.6" width="0.9" height="0.9" fill="#5b8ad2" opacity="0.77"/>
<rect x="238.8" y="530.3" width="0.9" height="0.9" fill="#5b8ad2" opacity="0.67"/>
<rect x="263.7" y="517.0" width="0.9" height="0.9" fill="#5b8ad2" opacity="0.81"/>
<rect x="242.0" y="537.4" width="0.9" height="0.9" fill="#5b8ad2" opacity="0.83"/>
<rect x="256.6" y="537.8" width="0.9" height="0.9" fill="#5b8ad2" opacity="0.76"/>
<rect x="256.0" y="529.2" width="0.9" height="0.9" fill="#5b8ad2" opacity="0.59"/>
<rect x="249.3" y="528.0" width="0.9" height="0.9" fill="#5b8ad2" opacity="0.77"/>
<rect x="241.4" y="525.6" width="0.9" height="0.9" fill="#5b8ad2" opacity="0.77"/>
<rect x="241.6" y="532.9" width="0.9" height="0.9" fill="#5b8ad2" opacity="0.84"/>
<rect x="266.9" y="533.3" width="0.9" height="0.9" fill="#5b8ad2" opacity="0.99"/>
<rect x="243.5" y="519.5" width="0.9" height="0.9" fill="#5b8ad2" opacity="0.68"/>
<rect x="263.3" y="528.0" width="0.9" height="0.9" fill="#5b8ad2" opacity="0.75"/>
<rect x="252.4" y="532.8" width="0.9" height="0.9" fill="#5b8ad2" opacity="0.59"/>
<rect x="238.0" y="535.3" width="0.9" height="0.9" fill="#5b8ad2" opacity="0.91"/>
<rect x="262.5" y="529.9" width="0.9" height="0.9" fill="#5b8ad2" opacity="0.66"/>
<rect x="231.3" y="534.0" width="0.9" height="0.9" fill="#5b8ad2" opacity="0.92"/>
<rect x="256.4" y="519.2" width="0.9" height="0.9" fill="#5b8ad2" opacity="0.91"/>
<rect x="244.0" y="548.2" width="0.9" height="0.9" fill="#5b8ad2" opacity="0.66"/>
<rect x="244.8" y="526.5" width="0.9" height="0.9" fill="#5b8ad2" opacity="0.96"/>
<rect x="251.7" y="518.1" width="0.9" height="0.9" fill="#5b8ad2" opacity="0.78"/>
<rect x="251.3" y="534.4" width="0.9" height="0.9" fill="#5b8ad2" opacity="0.74"/>
<rect x="258.7" y="524.5" width="0.9" height="0.9" fill="#5b8ad2" opacity="0.80"/>
<rect x="252.0" y="534.5" width="0.9" height="0.9" fill="#5b8ad2" opacity="0.98"/>
<rect x="250.9" y="532.9" width="0.9" height="0.9" fill="#5b8ad2" opacity="0.77"/>
<rect x="243.4" y="534.5" width="0.9" height="0.9" fill="#5b8ad2" opacity="0.77"/>
<rect x="250.6" y="535.1" width="0.9" height="0.9" fill="#5b8ad2" opacity="0.68"/>
<rect x="233.6" y="539.9" width="0.9" height="0.9" fill="#5b8ad2" opacity="0.93"/>
<rect x="263.1" y="533.4" width="0.9" height="0.9" fill="#5b8ad2" opacity="0.78"/>
<rect x="251.1" y="519.9" width="0.9" height="0.9" fill="#5b8ad2" opacity="0.70"/>
<rect x="235.8" y="535.7" width="0.9" height="0.9" fill="#5b8ad2" opacity="0.64"/>
<rect x="237.2" y="535.7" width="0.9" height="0.9" fill="#5b8ad2" opacity="0.65"/>
<rect x="257.0" y="517.7" width="0.9" height="0.9" fill="#5b8ad2" opacity="0.93"/>
<rect x="250.1" y="531.9" width="0.9" height="0.9" fill="#5b8ad2" opacity="0.91"/>
<rect x="254.1" y="523.5" width="0.9" height="0.9" fill="#5b8ad2" opacity="0.99"/>
<rect x="247.6" y="525.4" width="0.9" height="0.9" fill="#5b8ad2" opacity="0.96"/>
<rect x="243.3" y="536.2" width="0.9" height="0.9" fill="#5b8ad2" opacity="0.86"/>
<rect x="237.8" y="518.9" width="0.9" height="0.9" fill="#5b8ad2" opacity="0.91"/>
<rect x="239.3" y="536.4" width="0.9" height="0.9" fill="#5b8ad2" opacity="0.87"/>
<rect x="248.1" y="535.3" width="0.9" height="0.9" fill="#5b8ad2" opacity="0.91"/>
<rect x="251.8" y="526.8" width="0.9" height="0.9" fill="#5b8ad2" opacity="0.91"/>
<rect x="257.0" y="520.1" width="0.9" height="0.9" fill="#5b8ad2" opacity="0.63"/>
<rect x="266.8" y="525.0" width="0.9" height="0.9" fill="#5b8ad2" opacity="0.92"/>
<rect x="259.5" y="528.8" width="0.9" height="0.9" fill="#5b8ad2" opacity="0.69"/>
<rect x="272.8" y="529.6" width="0.9" height="0.9" fill="#5b8ad2" opacity="0.66"/>
<rect x="250.6" y="543.9" width="0.9" height="0.9" fill="#5b8ad2" opacity="0.96"/>
<rect x="261.2" y="525.9" width="0.9" height="0.9" fill="#5b8ad2" opacity="0.56"/>
<rect x="251.0" y="529.4" width="0.9" height="0.9" fill="#5b8ad2" opacity="0.78"/>
<rect x="225.5" y="536.7" width="0.9" height="0.9" fill="#5b8ad2" opacity="0.70"/>
<rect x="236.5" y="524.4" width="0.9" height="0.9" fill="#5b8ad2" opacity="0.91"/>
<rect x="246.5" y="522.3" width="0.9" height="0.9" fill="#5b8ad2" opacity="0.82"/>
<rect x="259.1" y="527.4" width="0.9" height="0.9" fill="#5b8ad2" opacity="0.96"/>
<rect x="256.8" y="533.4" width="0.9" height="0.9" fill="#5b8ad2" opacity="0.97"/>
<rect x="247.2" y="538.7" width="0.9" height="0.9" fill="#5b8ad2" opacity="0.84"/>
<rect x="258.2" y="535.3" width="0.9" height="0.9" fill="#5b8ad2" opacity="0.58"/>
<rect x="243.8" y="538.2" width="0.9" height="0.9" fill="#5b8ad2" opacity="0.85"/>
<rect x="258.5" y="527.7" width="0.9" height="0.9" fill="#5b8ad2" opacity="0.60"/>
<rect x="227.0" y="537.9" width="0.9" height="0.9" fill="#5b8ad2" opacity="0.99"/>
<rect x="244.6" y="531.5" width="0.9" height="0.9" fill="#5b8ad2" opacity="0.94"/>
<rect x="250.1" y="536.0" width="0.9" height="0.9" fill="#5b8ad2" opacity="0.69"/>
<rect x="235.4" y="521.6" width="0.9" height="0.9" fill="#5b8ad2" opacity="0.63"/>
<rect x="265.5" y="515.6" width="0.9" height="0.9" fill="#5b8ad2" opacity="0.86"/>
<rect x="258.7" y="516.1" width="0.9" height="0.9" fill="#5b8ad2" opacity="0.89"/>
<rect x="250.1" y="528.6" width="0.9" height="0.9" fill="#5b8ad2" opacity="0.99"/>
<rect x="239.5" y="537.3" width="0.9" height="0.9" fill="#5b8ad2" opacity="0.83"/>
<rect x="240.3" y="526.1" width="0.9" height="0.9" fill="#5b8ad2" opacity="0.61"/>
<rect x="230.3" y="531.0" width="0.9" height="0.9" fill="#5b8ad2" opacity="0.88"/>
<rect x="259.0" y="528.0" width="0.9" height="0.9" fill="#5b8ad2" opacity="0.58"/>
<rect x="250.6" y="528.4" width="0.9" height="0.9" fill="#5b8ad2" opacity="0.94"/>
<rect x="265.2" y="529.0" width="0.9" height="0.9" fill="#5b8ad2" opacity="0.90"/>
<rect x="250.3" y="528.6" width="0.9" height="0.9" fill="#5b8ad2" opacity="0.90"/>
<rect x="264.0" y="522.5" width="0.9" height="0.9" fill="#5b8ad2" opacity="0.94"/>
<rect x="241.5" y="526.4" width="0.9" height="0.9" fill="#5b8ad2" opacity="0.81"/>
<rect x="235.1" y="533.3" width="0.9" height="0.9" fill="#5b8ad2" opacity="0.97"/>
<rect x="249.0" y="529.7" width="0.9" height="0.9" fill="#5b8ad2" opacity="0.84"/>
<rect x="263.7" y="525.6" width="0.9" height="0.9" fill="#5b8ad2" opacity="0.77"/>
<rect x="261.7" y="518.8" width="0.9" height="0.9" fill="#5b8ad2" opacity="0.72"/>
<rect x="245.3" y="536.5" width="0.9" height="0.9" fill="#5b8ad2" opacity="0.71"/>
<rect x="248.8" y="531.3" width="0.9" height="0.9" fill="#5b8ad2" opacity="0.56"/>
<rect x="246.8" y="525.4" width="0.9" height="0.9" fill="#5b8ad2" opacity="0.62"/>
<rect x="238.9" y="532.1" width="0.9" height="0.9" fill="#5b8ad2" opacity="0.91"/>
<rect x="248.2" y="540.8" width="0.9" height="0.9" fill="#5b8ad2" opacity="0.65"/>
<rect x="244.6" y="534.7" width="0.9" height="0.9" fill="#5b8ad2" opacity="0.84"/>
<rect x="250.8" y="525.4" width="0.9" height="0.9" fill="#5b8ad2" opacity="0.90"/>
<rect x="254.6" y="531.0" width="0.9" height="0.9" fill="#5b8ad2" opacity="0.86"/>
<rect x="237.1" y="540.2" width="0.9" height="0.9" fill="#5b8ad2" opacity="0.78"/>
<rect x="248.7" y="535.3" width="0.9" height="0.9" fill="#5b8ad2" opacity="0.69"/>
<rect x="243.4" y="528.9" width="0.9" height="0.9" fill="#5b8ad2" opacity="0.67"/>
<rect x="243.0" y="533.3" width="0.9" height="0.9" fill="#5b8ad2" opacity="0.63"/>
<rect x="250.7" y="525.3" width="0.9" height="0.9" fill="#5b8ad2" opacity="0.84"/>
<rect x="252.8" y="534.0" width="0.9" height="0.9" fill="#5b8ad2" opacity="0.86"/>
<rect x="248.6" y="541.5" width="0.9" height="0.9" fill="#5b8ad2" opacity="0.97"/>
<rect x="237.2" y="525.8" width="0.9" height="0.9" fill="#5b8ad2" opacity="0.70"/>
<rect x="245.7" y="531.5" width="0.9" height="0.9" fill="#5b8ad2" opacity="0.97"/>
<rect x="246.7" y="525.7" width="0.9" height="0.9" fill="#5b8ad2" opacity="0.96"/>
<rect x="254.3" y="534.3" width="0.9" height="0.9" fill="#5b8ad2" opacity="0.68"/>
<rect x="255.9" y="524.7" width="0.9" height="0.9" fill="#5b8ad2" opacity="0.98"/>
<rect x="245.4" y="546.2" width="0.9" height="0.9" fill="#5b8ad2" opacity="0.83"/>
<rect x="256.1" y="524.6" width="0.9" height="0.9" fill="#5b8ad2" opacity="0.98"/>
<rect x="262.5" y="531.1" width="0.9" height="0.9" fill="#5b8ad2" opacity="0.90"/>
<rect x="247.0" y="524.3" width="0.9" height="0.9" fill="#5b8ad2" opacity="0.70"/>
<rect x="247.3" y="523.7" width="0.9" height="0.9" fill="#5b8ad2" opacity="0.68"/>
<rect x="251.6" y="538.5" width="0.9" height="0.9" fill="#5b8ad2" opacity="0.79"/>
<rect x="244.3" y="524.3" width="0.9" height="0.9" fill="#5b8ad2" opacity="0.77"/>
<rect x="248.9" y="528.8" width="0.9" height="0.9" fill="#5b8ad2" opacity="0.57"/>
<rect x="241.8" y="535.1" width="0.9" height="0.9" fill="#5b8ad2" opacity="0.94"/>
<rect x="267.3" y="524.2" width="0.9" height="0.9" fill="#5b8ad2" opacity="0.79"/>
<rect x="254.1" y="530.7" width="0.9" height="0.9" fill="#5b8ad2" opacity="0.76"/>
<rect x="255.9" y="511.2" width="0.9" height="0.9" fill="#5b8ad2" opacity="0.89"/>
<rect x="253.7" y="523.7" width="0.9" height="0.9" fill="#5b8ad2" opacity="0.66"/>
<rect x="251.8" y="526.2" width="0.9" height="0.9" fill="#5b8ad2" opacity="0.64"/>
<rect x="236.3" y="520.2" width="0.9" height="0.9" fill="#5b8ad2" opacity="0.81"/>
<rect x="252.3" y="531.7" width="0.9" height="0.9" fill="#5b8ad2" opacity="0.66"/>
<rect x="235.4" y="524.7" width="0.9" height="0.9" fill="#5b8ad2" opacity="0.70"/>
<rect x="237.3" y="519.0" width="0.9" height="0.9" fill="#5b8ad2" opacity="0.58"/>
<rect x="243.2" y="536.2" width="0.9" height="0.9" fill="#5b8ad2" opacity="0.57"/>
<rect x="255.3" y="529.9" width="0.9" height="0.9" fill="#5b8ad2" opacity="0.71"/>
<rect x="251.1" y="527.4" width="0.9" height="0.9" fill="#5b8ad2" opacity="0.79"/>
<rect x="254.9" y="532.6" width="0.9" height="0.9" fill="#5b8ad2" opacity="0.98"/>
<rect x="256.0" y="527.2" width="0.9" height="0.9" fill="#5b8ad2" opacity="0.84"/>
<rect x="252.3" y="531.4" width="0.9" height="0.9" fill="#5b8ad2" opacity="0.74"/>
<rect x="239.2" y="535.2" width="0.9" height="0.9" fill="#5b8ad2" opacity="0.73"/>
<rect x="235.0" y="534.2" width="0.9" height="0.9" fill="#5b8ad2" opacity="0.66"/>
<rect x="229.9" y="540.2" width="0.9" height="0.9" fill="#5b8ad2" opacity="0.76"/>
<rect x="254.9" y="528.7" width="0.9" height="0.9" fill="#5b8ad2" opacity="0.98"/>
<rect x="256.1" y="528.2" width="0.9" height="0.9" fill="#5b8ad2" opacity="0.60"/>
<rect x="241.7" y="517.1" width="0.9" height="0.9" fill="#5b8ad2" opacity="0.74"/>
<rect x="244.6" y="533.0" width="0.9" height="0.9" fill="#5b8ad2" opacity="0.86"/>
<rect x="248.6" y="539.3" width="0.9" height="0.9" fill="#5b8ad2" opacity="0.89"/>
<rect x="251.8" y="541.6" width="0.9" height="0.9" fill="#5b8ad2" opacity="0.80"/>
<rect x="256.4" y="523.3" width="0.9" height="0.9" fill="#5b8ad2" opacity="0.84"/>
<rect x="233.3" y="531.7" width="0.9" height="0.9" fill="#5b8ad2" opacity="0.97"/>
<rect x="244.8" y="534.0" width="0.9" height="0.9" fill="#5b8ad2" opacity="0.96"/>
<rect x="264.6" y="511.6" width="0.9" height="0.9" fill="#5b8ad2" opacity="0.66"/>
<rect x="262.3" y="522.7" width="0.9" height="0.9" fill="#5b8ad2" opacity="0.79"/>
<rect x="247.8" y="532.4" width="0.9" height="0.9" fill="#5b8ad2" opacity="1.00"/>
<rect x="253.3" y="531.1" width="0.9" height="0.9" fill="#5b8ad2" opacity="0.79"/>
<rect x="246.0" y="526.6" width="0.9" height="0.9" fill="#5b8ad2" opacity="0.64"/>
<rect x="254.5" y="526.9" width="0.9" height="0.9" fill="#5b8ad2" opacity="0.89"/>
<rect x="247.5" y="522.2" width="0.9" height="0.9" fill="#5b8ad2" opacity="0.58"/>
<rect x="240.9" y="528.4" width="0.9" height="0.9" fill="#5b8ad2" opacity="0.62"/>
<rect x="250.1" y="530.5" width="0.9" height="0.9" fill="#5b8ad2" opacity="0.80"/>
<rect x="249.3" y="532.0" width="0.9" height="0.9" fill="#5b8ad2" opacity="0.67"/>
<rect x="253.5" y="537.9" width="0.9" height="0.9" fill="#5b8ad2" opacity="0.87"/>
<rect x="246.4" y="538.4" width="0.9" height="0.9" fill="#5b8ad2" opacity="0.88"/>
<rect x="242.1" y="529.9" width="0.9" height="0.9" fill="#5b8ad2" opacity="0.69"/>
<rect x="245.6" y="545.3" width="0.9" height="0.9" fill="#5b8ad2" opacity="0.90"/>
<rect x="240.4" y="532.0" width="0.9" height="0.9" fill="#5b8ad2" opacity="0.84"/>
<rect x="240.0" y="534.1" width="0.9" height="0.9" fill="#5b8ad2" opacity="0.87"/>
<rect x="248.1" y="545.9" width="0.9" height="0.9" fill="#5b8ad2" opacity="0.76"/>
<rect x="259.5" y="541.1" width="0.9" height="0.9" fill="#5b8ad2" opacity="0.74"/>
<rect x="252.0" y="514.8" width="0.9" height="0.9" fill="#5b8ad2" opacity="0.60"/>
<rect x="257.4" y="532.2" width="0.9" height="0.9" fill="#5b8ad2" opacity="0.76"/>
<rect x="259.5" y="537.7" width="0.9" height="0.9" fill="#6a96d6" opacity="0.87"/>
<rect x="248.6" y="542.0" width="0.9" height="0.9" fill="#6a96d6" opacity="0.99"/>
<rect x="245.6" y="547.0" width="0.9" height="0.9" fill="#6a96d6" opacity="0.85"/>
<rect x="242.8" y="543.2" width="0.9" height="0.9" fill="#6a96d6" opacity="0.83"/>
<rect x="238.3" y="545.3" width="0.9" height="0.9" fill="#6a96d6" opacity="0.72"/>
<rect x="245.2" y="538.8" width="0.9" height="0.9" fill="#6a96d6" opacity="0.87"/>
<rect x="239.2" y="539.2" width="0.9" height="0.9" fill="#6a96d6" opacity="0.77"/>
<rect x="244.3" y="541.6" width="0.9" height="0.9" fill="#6a96d6" opacity="0.58"/>
<rect x="244.8" y="540.6" width="0.9" height="0.9" fill="#6a96d6" opacity="0.77"/>
<rect x="253.6" y="541.9" width="0.9" height="0.9" fill="#6a96d6" opacity="0.72"/>
<rect x="248.7" y="541.7" width="0.9" height="0.9" fill="#6a96d6" opacity="0.79"/>
<rect x="240.4" y="545.3" width="0.9" height="0.9" fill="#6a96d6" opacity="0.57"/>
<rect x="260.3" y="544.4" width="0.9" height="0.9" fill="#6a96d6" opacity="0.56"/>
<rect x="250.2" y="538.2" width="0.9" height="0.9" fill="#6a96d6" opacity="0.99"/>
<rect x="240.6" y="541.5" width="0.9" height="0.9" fill="#6a96d6" opacity="0.72"/>
<rect x="249.4" y="541.2" width="0.9" height="0.9" fill="#6a96d6" opacity="0.70"/>
<rect x="244.7" y="544.4" width="0.9" height="0.9" fill="#6a96d6" opacity="0.62"/>
<rect x="251.0" y="538.2" width="0.9" height="0.9" fill="#6a96d6" opacity="0.82"/>
<rect x="240.4" y="544.7" width="0.9" height="0.9" fill="#6a96d6" opacity="0.96"/>
<rect x="249.8" y="539.7" width="0.9" height="0.9" fill="#6a96d6" opacity="0.63"/>
<rect x="247.9" y="536.7" width="0.9" height="0.9" fill="#6a96d6" opacity="0.78"/>
<rect x="239.9" y="544.1" width="0.9" height="0.9" fill="#6a96d6" opacity="0.77"/>
<rect x="239.3" y="544.6" width="0.9" height="0.9" fill="#6a96d6" opacity="0.89"/>
<rect x="242.9" y="546.7" width="0.9" height="0.9" fill="#6a96d6" opacity="0.80"/>
<rect x="241.3" y="544.3" width="0.9" height="0.9" fill="#6a96d6" opacity="0.66"/>
<rect x="246.5" y="538.4" width="0.9" height="0.9" fill="#6a96d6" opacity="0.64"/>
<rect x="232.2" y="545.5" width="0.9" height="0.9" fill="#6a96d6" opacity="0.88"/>
<rect x="239.7" y="544.0" width="0.9" height="0.9" fill="#6a96d6" opacity="0.59"/>
<rect x="260.2" y="534.2" width="0.9" height="0.9" fill="#6a96d6" opacity="0.94"/>
<rect x="247.0" y="538.6" width="0.9" height="0.9" fill="#6a96d6" opacity="0.57"/>
<rect x="239.8" y="538.4" width="0.9" height="0.9" fill="#6a96d6" opacity="0.64"/>
<rect x="243.7" y="547.4" width="0.9" height="0.9" fill="#6a96d6" opacity="0.76"/>
<rect x="255.3" y="538.9" width="0.9" height="0.9" fill="#6a96d6" opacity="0.93"/>
<rect x="241.9" y="539.7" width="0.9" height="0.9" fill="#6a96d6" opacity="0.83"/>
<rect x="242.9" y="540.6" width="0.9" height="0.9" fill="#6a96d6" opacity="0.89"/>
<rect x="246.4" y="537.9" width="0.9" height="0.9" fill="#6a96d6" opacity="0.89"/>
<rect x="252.2" y="540.5" width="0.9" height="0.9" fill="#6a96d6" opacity="0.88"/>
<rect x="245.6" y="541.5" width="0.9" height="0.9" fill="#6a96d6" opacity="0.57"/>
<rect x="236.3" y="546.5" width="0.9" height="0.9" fill="#6a96d6" opacity="0.92"/>
<rect x="246.2" y="546.4" width="0.9" height="0.9" fill="#6a96d6" opacity="0.62"/>
<rect x="247.8" y="544.9" width="0.9" height="0.9" fill="#6a96d6" opacity="0.62"/>
<rect x="250.5" y="541.1" width="0.9" height="0.9" fill="#6a96d6" opacity="0.57"/>
<rect x="248.0" y="541.1" width="0.9" height="0.9" fill="#6a96d6" opacity="0.56"/>
<rect x="234.4" y="541.0" width="0.9" height="0.9" fill="#6a96d6" opacity="0.94"/>
<rect x="249.1" y="538.7" width="0.9" height="0.9" fill="#6a96d6" opacity="0.72"/>
<rect x="236.4" y="540.9" width="0.9" height="0.9" fill="#6a96d6" opacity="0.59"/>
<rect x="245.9" y="536.6" width="0.9" height="0.9" fill="#6a96d6" opacity="0.57"/>
<rect x="241.2" y="541.7" width="0.9" height="0.9" fill="#6a96d6" opacity="0.93"/>
<rect x="242.9" y="538.5" width="0.9" height="0.9" fill="#6a96d6" opacity="0.82"/>
<rect x="226.0" y="542.9" width="0.9" height="0.9" fill="#6a96d6" opacity="0.96"/>
<rect x="254.6" y="544.8" width="0.9" height="0.9" fill="#6a96d6" opacity="0.57"/>
<rect x="241.8" y="547.4" width="0.9" height="0.9" fill="#6a96d6" opacity="0.60"/>
<rect x="251.1" y="540.3" width="0.9" height="0.9" fill="#6a96d6" opacity="0.68"/>
<rect x="238.0" y="541.8" width="0.9" height="0.9" fill="#6a96d6" opacity="0.64"/>
<rect x="241.8" y="542.8" width="0.9" height="0.9" fill="#6a96d6" opacity="0.60"/>
<rect x="234.9" y="539.1" width="0.9" height="0.9" fill="#6a96d6" opacity="0.64"/>
<rect x="242.7" y="540.3" width="0.9" height="0.9" fill="#6a96d6" opacity="0.84"/>
<rect x="247.9" y="538.5" width="0.9" height="0.9" fill="#6a96d6" opacity="0.63"/>
<rect x="252.4" y="544.4" width="0.9" height="0.9" fill="#6a96d6" opacity="0.63"/>
<rect x="238.0" y="544.4" width="0.9" height="0.9" fill="#6a96d6" opacity="0.79"/>
<rect x="254.9" y="540.2" width="0.9" height="0.9" fill="#6a96d6" opacity="0.72"/>
<rect x="252.0" y="540.1" width="0.9" height="0.9" fill="#6a96d6" opacity="0.62"/>
<rect x="245.9" y="540.7" width="0.9" height="0.9" fill="#6a96d6" opacity="0.81"/>
<rect x="243.5" y="547.2" width="0.9" height="0.9" fill="#6a96d6" opacity="0.78"/>
<rect x="240.3" y="537.3" width="0.9" height="0.9" fill="#6a96d6" opacity="0.72"/>
<rect x="242.3" y="544.4" width="0.9" height="0.9" fill="#6a96d6" opacity="0.76"/>
<rect x="241.1" y="546.0" width="0.9" height="0.9" fill="#6a96d6" opacity="0.57"/>
<rect x="252.7" y="541.3" width="0.9" height="0.9" fill="#6a96d6" opacity="0.83"/>
<rect x="243.6" y="540.9" width="0.9" height="0.9" fill="#6a96d6" opacity="0.64"/>
<rect x="241.8" y="548.9" width="0.9" height="0.9" fill="#6a96d6" opacity="0.70"/>
<rect x="250.6" y="540.2" width="0.9" height="0.9" fill="#6a96d6" opacity="0.55"/>
<rect x="247.8" y="543.2" width="0.9" height="0.9" fill="#6a96d6" opacity="0.95"/>
<rect x="257.0" y="543.0" width="0.9" height="0.9" fill="#6a96d6" opacity="0.81"/>
<rect x="245.2" y="539.6" width="0.9" height="0.9" fill="#6a96d6" opacity="0.73"/>
<rect x="235.5" y="544.2" width="0.9" height="0.9" fill="#6a96d6" opacity="0.79"/>
<rect x="258.7" y="540.8" width="0.9" height="0.9" fill="#6a96d6" opacity="0.97"/>
<rect x="248.7" y="539.8" width="0.9" height="0.9" fill="#6a96d6" opacity="0.61"/>
<rect x="242.1" y="537.9" width="0.9" height="0.9" fill="#6a96d6" opacity="0.72"/>
<rect x="239.6" y="548.8" width="0.9" height="0.9" fill="#6a96d6" opacity="0.87"/>
<rect x="248.2" y="545.2" width="0.9" height="0.9" fill="#6a96d6" opacity="0.72"/>
<rect x="243.7" y="545.6" width="0.9" height="0.9" fill="#6a96d6" opacity="0.87"/>
<rect x="248.7" y="537.6" width="0.9" height="0.9" fill="#6a96d6" opacity="0.96"/>
<rect x="229.2" y="538.9" width="0.9" height="0.9" fill="#6a96d6" opacity="0.57"/>
<rect x="247.2" y="544.1" width="0.9" height="0.9" fill="#6a96d6" opacity="0.68"/>
<rect x="242.9" y="541.3" width="0.9" height="0.9" fill="#6a96d6" opacity="0.68"/>
<rect x="252.0" y="540.3" width="0.9" height="0.9" fill="#6a96d6" opacity="0.89"/>
<rect x="239.4" y="544.4" width="0.9" height="0.9" fill="#6a96d6" opacity="0.90"/>
<rect x="252.1" y="534.5" width="0.9" height="0.9" fill="#6a96d6" opacity="0.86"/>
<rect x="243.8" y="540.6" width="0.9" height="0.9" fill="#6a96d6" opacity="0.97"/>
<rect x="240.1" y="547.1" width="0.9" height="0.9" fill="#6a96d6" opacity="0.63"/>
<rect x="250.1" y="547.8" width="0.9" height="0.9" fill="#6a96d6" opacity="0.73"/>
<rect x="249.1" y="539.8" width="0.9" height="0.9" fill="#6a96d6" opacity="0.93"/>
<rect x="243.0" y="544.3" width="0.9" height="0.9" fill="#6a96d6" opacity="0.89"/>
<rect x="245.4" y="541.1" width="0.9" height="0.9" fill="#6a96d6" opacity="0.60"/>
<rect x="245.0" y="541.1" width="0.9" height="0.9" fill="#6a96d6" opacity="0.99"/>
<rect x="250.1" y="537.9" width="0.9" height="0.9" fill="#6a96d6" opacity="0.88"/>
<rect x="243.2" y="541.8" width="0.9" height="0.9" fill="#6a96d6" opacity="0.94"/>
<rect x="252.3" y="541.7" width="0.9" height="0.9" fill="#6a96d6" opacity="0.71"/>
<rect x="255.2" y="540.0" width="0.9" height="0.9" fill="#6a96d6" opacity="0.82"/>
<rect x="247.5" y="540.9" width="0.9" height="0.9" fill="#6a96d6" opacity="0.98"/>
<rect x="247.2" y="542.2" width="0.9" height="0.9" fill="#6a96d6" opacity="0.95"/>
<rect x="244.3" y="540.4" width="0.9" height="0.9" fill="#6a96d6" opacity="0.81"/>
<rect x="245.4" y="546.9" width="0.9" height="0.9" fill="#6a96d6" opacity="0.95"/>
<rect x="243.5" y="539.7" width="0.9" height="0.9" fill="#6a96d6" opacity="1.00"/>
<rect x="240.5" y="543.5" width="0.9" height="0.9" fill="#6a96d6" opacity="0.93"/>
<rect x="239.8" y="541.9" width="0.9" height="0.9" fill="#6a96d6" opacity="0.85"/>
<rect x="243.0" y="544.4" width="0.9" height="0.9" fill="#6a96d6" opacity="0.98"/>
<rect x="245.0" y="544.6" width="0.9" height="0.9" fill="#6a96d6" opacity="0.61"/>
<rect x="252.0" y="541.2" width="0.9" height="0.9" fill="#6a96d6" opacity="0.73"/>
<rect x="241.2" y="541.4" width="0.9" height="0.9" fill="#6a96d6" opacity="0.80"/>
<rect x="256.8" y="544.2" width="0.9" height="0.9" fill="#6a96d6" opacity="0.61"/>
<rect x="238.0" y="544.2" width="0.9" height="0.9" fill="#6a96d6" opacity="0.90"/>
<rect x="241.6" y="549.1" width="0.9" height="0.9" fill="#6a96d6" opacity="0.58"/>
<rect x="245.5" y="537.6" width="0.9" height="0.9" fill="#6a96d6" opacity="0.83"/>
<rect x="239.6" y="538.9" width="0.9" height="0.9" fill="#6a96d6" opacity="0.68"/>
<rect x="238.9" y="543.2" width="0.9" height="0.9" fill="#6a96d6" opacity="0.70"/>
<rect x="240.1" y="545.5" width="0.9" height="0.9" fill="#6a96d6" opacity="0.82"/>
<rect x="237.8" y="544.2" width="0.9" height="0.9" fill="#6a96d6" opacity="0.64"/>
<rect x="233.9" y="543.0" width="0.9" height="0.9" fill="#6a96d6" opacity="0.75"/>
<rect x="249.6" y="539.9" width="0.9" height="0.9" fill="#6a96d6" opacity="0.94"/>
<rect x="251.8" y="541.4" width="0.9" height="0.9" fill="#6a96d6" opacity="0.99"/>
<rect x="258.3" y="541.0" width="0.9" height="0.9" fill="#6a96d6" opacity="0.67"/>
<rect x="241.6" y="541.0" width="0.9" height="0.9" fill="#6a96d6" opacity="0.71"/>
<rect x="252.1" y="547.0" width="0.9" height="0.9" fill="#6a96d6" opacity="0.86"/>
<rect x="250.7" y="537.0" width="0.9" height="0.9" fill="#6a96d6" opacity="0.64"/>
<rect x="241.1" y="537.9" width="0.9" height="0.9" fill="#6a96d6" opacity="0.93"/>
<rect x="239.5" y="544.1" width="0.9" height="0.9" fill="#6a96d6" opacity="0.64"/>
<rect x="232.2" y="542.3" width="0.9" height="0.9" fill="#6a96d6" opacity="0.80"/>
<rect x="261.3" y="538.9" width="0.9" height="0.9" fill="#6a96d6" opacity="0.70"/>
<rect x="247.2" y="540.7" width="0.9" height="0.9" fill="#6a96d6" opacity="0.55"/>
<rect x="247.8" y="550.3" width="0.9" height="0.9" fill="#6a96d6" opacity="0.55"/>
<rect x="237.8" y="542.4" width="0.9" height="0.9" fill="#6a96d6" opacity="0.55"/>
<rect x="242.0" y="548.7" width="0.9" height="0.9" fill="#6a96d6" opacity="0.70"/>
<rect x="224.9" y="544.7" width="0.9" height="0.9" fill="#6a96d6" opacity="0.67"/>
<rect x="266.2" y="543.1" width="0.9" height="0.9" fill="#6a96d6" opacity="1.00"/>
<rect x="249.9" y="541.5" width="0.9" height="0.9" fill="#6a96d6" opacity="0.84"/>
<rect x="238.9" y="546.2" width="0.9" height="0.9" fill="#6a96d6" opacity="0.58"/>
<rect x="253.3" y="543.4" width="0.9" height="0.9" fill="#6a96d6" opacity="0.87"/>
<rect x="252.6" y="539.5" width="0.9" height="0.9" fill="#6a96d6" opacity="0.65"/>
<rect x="246.0" y="537.7" width="0.9" height="0.9" fill="#6a96d6" opacity="0.77"/>
<rect x="242.1" y="541.7" width="0.9" height="0.9" fill="#6a96d6" opacity="0.88"/>
<rect x="231.8" y="546.1" width="0.9" height="0.9" fill="#6a96d6" opacity="0.94"/>
<rect x="243.4" y="540.4" width="0.9" height="0.9" fill="#6a96d6" opacity="0.97"/>
<rect x="238.1" y="544.7" width="0.9" height="0.9" fill="#6a96d6" opacity="0.74"/>
<rect x="241.9" y="546.4" width="0.9" height="0.9" fill="#6a96d6" opacity="0.69"/>
<rect x="245.0" y="541.7" width="0.9" height="0.9" fill="#6a96d6" opacity="0.73"/>
<rect x="248.7" y="546.2" width="0.9" height="0.9" fill="#6a96d6" opacity="0.69"/>
<rect x="246.8" y="543.1" width="0.9" height="0.9" fill="#6a96d6" opacity="0.88"/>
<rect x="246.0" y="539.1" width="0.9" height="0.9" fill="#6a96d6" opacity="0.76"/>
<rect x="254.3" y="539.4" width="0.9" height="0.9" fill="#6a96d6" opacity="0.86"/>
<rect x="254.4" y="543.3" width="0.9" height="0.9" fill="#6a96d6" opacity="0.62"/>
<rect x="246.0" y="547.9" width="0.9" height="0.9" fill="#6a96d6" opacity="0.90"/>
<rect x="243.2" y="537.1" width="0.9" height="0.9" fill="#6a96d6" opacity="0.99"/>
<rect x="247.8" y="542.0" width="0.9" height="0.9" fill="#6a96d6" opacity="0.64"/>
<rect x="246.8" y="540.1" width="0.9" height="0.9" fill="#6a96d6" opacity="0.83"/>
<rect x="246.6" y="542.7" width="0.9" height="0.9" fill="#6a96d6" opacity="0.62"/>
<rect x="250.6" y="544.3" width="0.9" height="0.9" fill="#6a96d6" opacity="0.57"/>
<rect x="251.7" y="540.2" width="0.9" height="0.9" fill="#6a96d6" opacity="0.74"/>
<rect x="246.3" y="548.0" width="0.9" height="0.9" fill="#6a96d6" opacity="0.63"/>
<rect x="250.6" y="545.4" width="0.9" height="0.9" fill="#6a96d6" opacity="0.88"/>
<rect x="233.0" y="539.2" width="0.9" height="0.9" fill="#6a96d6" opacity="0.81"/>
<rect x="254.7" y="541.6" width="0.9" height="0.9" fill="#6a96d6" opacity="0.85"/>
<rect x="237.2" y="547.6" width="0.9" height="0.9" fill="#6a96d6" opacity="0.99"/>
<rect x="246.7" y="547.0" width="0.9" height="0.9" fill="#6a96d6" opacity="0.58"/>
<rect x="249.8" y="544.8" width="0.9" height="0.9" fill="#6a96d6" opacity="0.59"/>
<rect x="250.9" y="540.7" width="0.9" height="0.9" fill="#6a96d6" opacity="0.57"/>
<rect x="244.4" y="549.4" width="0.9" height="0.9" fill="#6a96d6" opacity="0.76"/>
<rect x="244.7" y="541.2" width="0.9" height="0.9" fill="#6a96d6" opacity="0.92"/>
<rect x="248.3" y="543.8" width="0.9" height="0.9" fill="#6a96d6" opacity="0.86"/>
<rect x="243.7" y="548.5" width="0.9" height="0.9" fill="#6a96d6" opacity="0.80"/>
<rect x="229.0" y="551.1" width="0.9" height="0.9" fill="#5b8ad2" opacity="0.60"/>
<rect x="229.6" y="562.1" width="0.9" height="0.9" fill="#5b8ad2" opacity="0.61"/>
<rect x="229.2" y="556.8" width="0.9" height="0.9" fill="#5b8ad2" opacity="0.84"/>
<rect x="229.0" y="556.7" width="0.9" height="0.9" fill="#5b8ad2" opacity="0.95"/>
<rect x="229.7" y="559.1" width="0.9" height="0.9" fill="#5b8ad2" opacity="0.59"/>
<rect x="229.4" y="562.4" width="0.9" height="0.9" fill="#5b8ad2" opacity="0.66"/>
<rect x="228.8" y="550.7" width="0.9" height="0.9" fill="#5b8ad2" opacity="0.89"/>
<rect x="229.6" y="562.7" width="0.9" height="0.9" fill="#5b8ad2" opacity="0.65"/>
<rect x="228.0" y="542.6" width="0.9" height="0.9" fill="#5b8ad2" opacity="0.94"/>
<rect x="226.8" y="553.1" width="0.9" height="0.9" fill="#5b8ad2" opacity="0.71"/>
<rect x="229.5" y="548.6" width="0.9" height="0.9" fill="#5b8ad2" opacity="0.76"/>
<rect x="229.3" y="555.2" width="0.9" height="0.9" fill="#5b8ad2" opacity="0.64"/>
<rect x="228.6" y="546.9" width="0.9" height="0.9" fill="#5b8ad2" opacity="0.68"/>
<rect x="228.1" y="556.2" width="0.9" height="0.9" fill="#5b8ad2" opacity="0.74"/>
<rect x="227.4" y="556.7" width="0.9" height="0.9" fill="#5b8ad2" opacity="0.68"/>
<rect x="227.1" y="551.4" width="0.9" height="0.9" fill="#5b8ad2" opacity="0.88"/>
<rect x="227.9" y="555.9" width="0.9" height="0.9" fill="#5b8ad2" opacity="0.56"/>
<rect x="229.4" y="562.5" width="0.9" height="0.9" fill="#5b8ad2" opacity="0.84"/>
<rect x="226.8" y="537.9" width="0.9" height="0.9" fill="#5b8ad2" opacity="0.91"/>
<rect x="228.6" y="550.8" width="0.9" height="0.9" fill="#5b8ad2" opacity="0.70"/>
<rect x="226.9" y="558.1" width="0.9" height="0.9" fill="#5b8ad2" opacity="0.64"/>
<rect x="228.7" y="549.9" width="0.9" height="0.9" fill="#5b8ad2" opacity="0.60"/>
<rect x="229.5" y="552.4" width="0.9" height="0.9" fill="#5b8ad2" opacity="0.58"/>
<rect x="227.2" y="560.4" width="0.9" height="0.9" fill="#5b8ad2" opacity="0.91"/>
<rect x="225.3" y="576.2" width="0.9" height="0.9" fill="#5b8ad2" opacity="0.82"/>
<rect x="229.5" y="557.9" width="0.9" height="0.9" fill="#5b8ad2" opacity="0.56"/>
<rect x="229.9" y="560.7" width="0.9" height="0.9" fill="#5b8ad2" opacity="0.75"/>
<rect x="228.7" y="559.0" width="0.9" height="0.9" fill="#5b8ad2" opacity="0.82"/>
<rect x="226.9" y="560.1" width="0.9" height="0.9" fill="#5b8ad2" opacity="0.69"/>
<rect x="228.4" y="549.0" width="0.9" height="0.9" fill="#5b8ad2" opacity="0.57"/>
<rect x="228.0" y="562.0" width="0.9" height="0.9" fill="#5b8ad2" opacity="0.74"/>
<rect x="228.9" y="553.1" width="0.9" height="0.9" fill="#5b8ad2" opacity="0.71"/>
<rect x="230.8" y="557.0" width="0.9" height="0.9" fill="#5b8ad2" opacity="0.99"/>
<rect x="227.7" y="556.4" width="0.9" height="0.9" fill="#5b8ad2" opacity="0.71"/>
<rect x="230.0" y="566.3" width="0.9" height="0.9" fill="#5b8ad2" opacity="0.97"/>
<rect x="228.3" y="553.6" width="0.9" height="0.9" fill="#5b8ad2" opacity="0.94"/>
<rect x="227.9" y="552.0" width="0.9" height="0.9" fill="#5b8ad2" opacity="0.81"/>
<rect x="226.8" y="559.0" width="0.9" height="0.9" fill="#5b8ad2" opacity="0.61"/>
<rect x="231.0" y="560.8" width="0.9" height="0.9" fill="#5b8ad2" opacity="0.91"/>
<rect x="228.0" y="559.1" width="0.9" height="0.9" fill="#5b8ad2" opacity="0.59"/>
<rect x="228.4" y="552.9" width="0.9" height="0.9" fill="#5b8ad2" opacity="0.80"/>
<rect x="230.0" y="558.2" width="0.9" height="0.9" fill="#5b8ad2" opacity="0.59"/>
<rect x="225.8" y="558.6" width="0.9" height="0.9" fill="#5b8ad2" opacity="0.59"/>
<rect x="228.5" y="551.7" width="0.9" height="0.9" fill="#5b8ad2" opacity="0.73"/>
<rect x="229.9" y="558.5" width="0.9" height="0.9" fill="#5b8ad2" opacity="0.62"/>
<rect x="227.3" y="557.0" width="0.9" height="0.9" fill="#5b8ad2" opacity="1.00"/>
<rect x="229.0" y="553.8" width="0.9" height="0.9" fill="#5b8ad2" opacity="0.81"/>
<rect x="228.0" y="554.0" width="0.9" height="0.9" fill="#5b8ad2" opacity="0.95"/>
<rect x="230.9" y="548.7" width="0.9" height="0.9" fill="#5b8ad2" opacity="0.98"/>
<rect x="227.5" y="552.1" width="0.9" height="0.9" fill="#5b8ad2" opacity="0.89"/>
<rect x="227.9" y="542.1" width="0.9" height="0.9" fill="#5b8ad2" opacity="0.84"/>
<rect x="228.4" y="554.2" width="0.9" height="0.9" fill="#5b8ad2" opacity="0.76"/>
<rect x="227.6" y="555.9" width="0.9" height="0.9" fill="#5b8ad2" opacity="0.90"/>
<rect x="225.5" y="551.4" width="0.9" height="0.9" fill="#5b8ad2" opacity="0.85"/>
<rect x="228.9" y="552.3" width="0.9" height="0.9" fill="#5b8ad2" opacity="0.62"/>
<rect x="227.3" y="554.2" width="0.9" height="0.9" fill="#5b8ad2" opacity="0.79"/>
<rect x="229.3" y="565.3" width="0.9" height="0.9" fill="#5b8ad2" opacity="0.74"/>
<rect x="228.4" y="550.1" width="0.9" height="0.9" fill="#5b8ad2" opacity="0.78"/>
<rect x="226.7" y="560.8" width="0.9" height="0.9" fill="#5b8ad2" opacity="0.87"/>
<rect x="228.1" y="548.8" width="0.9" height="0.9" fill="#5b8ad2" opacity="0.86"/>
<rect x="228.7" y="558.0" width="0.9" height="0.9" fill="#5b8ad2" opacity="0.81"/>
<rect x="229.4" y="566.6" width="0.9" height="0.9" fill="#5b8ad2" opacity="0.90"/>
<rect x="226.6" y="556.2" width="0.9" height="0.9" fill="#5b8ad2" opacity="0.92"/>
<rect x="227.5" y="560.7" width="0.9" height="0.9" fill="#5b8ad2" opacity="0.59"/>
<rect x="229.8" y="571.7" width="0.9" height="0.9" fill="#5b8ad2" opacity="0.62"/>
<rect x="227.8" y="553.9" width="0.9" height="0.9" fill="#5b8ad2" opacity="0.57"/>
<rect x="227.8" y="547.6" width="0.9" height="0.9" fill="#5b8ad2" opacity="0.62"/>
<rect x="226.7" y="548.7" width="0.9" height="0.9" fill="#5b8ad2" opacity="0.98"/>
<rect x="226.4" y="547.6" width="0.9" height="0.9" fill="#5b8ad2" opacity="0.69"/>
<rect x="229.5" y="554.7" width="0.9" height="0.9" fill="#5b8ad2" opacity="0.75"/>
<rect x="227.6" y="550.9" width="0.9" height="0.9" fill="#5b8ad2" opacity="0.76"/>
<rect x="227.3" y="559.3" width="0.9" height="0.9" fill="#5b8ad2" opacity="0.80"/>
<rect x="227.6" y="551.2" width="0.9" height="0.9" fill="#5b8ad2" opacity="0.68"/>
<rect x="226.9" y="566.1" width="0.9" height="0.9" fill="#5b8ad2" opacity="0.90"/>
<rect x="228.9" y="546.7" width="0.9" height="0.9" fill="#5b8ad2" opacity="0.70"/>
<rect x="229.0" y="550.7" width="0.9" height="0.9" fill="#5b8ad2" opacity="0.93"/>
<rect x="227.7" y="552.1" width="0.9" height="0.9" fill="#5b8ad2" opacity="0.91"/>
<rect x="228.1" y="558.7" width="0.9" height="0.9" fill="#5b8ad2" opacity="0.55"/>
<rect x="229.1" y="542.0" width="0.9" height="0.9" fill="#5b8ad2" opacity="0.80"/>
<rect x="227.9" y="562.0" width="0.9" height="0.9" fill="#5b8ad2" opacity="0.59"/>
<g filter="url(#fblur)" transform="rotate(-35 249.5 529.0)">
<ellipse cx="249.5" cy="529.0" rx="10.50" ry="6.50" fill="#9dbce8"/>
<ellipse cx="249.5" cy="529.0" rx="9.03" ry="5.59" fill="#5b90d6"/>
<ellipse cx="249.5" cy="529.0" rx="7.56" ry="4.68" fill="#2ea6cc"/>
<ellipse cx="249.5" cy="529.0" rx="6.09" ry="3.77" fill="#3bb45a"/>
<ellipse cx="249.5" cy="529.0" rx="4.62" ry="2.86" fill="#9cca34"/>
<ellipse cx="249.5" cy="529.0" rx="3.25" ry="2.02" fill="#f2cf22"/>
<ellipse cx="249.5" cy="529.0" rx="2.00" ry="1.24" fill="#f2801e"/>
<ellipse cx="249.5" cy="529.0" rx="0.94" ry="0.58" fill="#e0281a"/>
</g>
</g>
<rect x="211.9" y="502.6" width="71.20000000000002" height="71.0" fill="none" stroke="#111" stroke-width="1.0"/>
<line x1="234.60" y1="502.60" x2="234.60" y2="573.60" stroke="#111" stroke-width="1.0"/>
<line x1="211.90" y1="538.40" x2="283.10" y2="538.40" stroke="#111" stroke-width="1.0"/>
<line x1="209.10" y1="573.60" x2="211.90" y2="573.60" stroke="#111" stroke-width="0.8"/>
<line x1="209.90" y1="569.57" x2="211.90" y2="569.57" stroke="#111" stroke-width="0.8"/>
<line x1="209.90" y1="567.21" x2="211.90" y2="567.21" stroke="#111" stroke-width="0.8"/>
<line x1="209.90" y1="565.53" x2="211.90" y2="565.53" stroke="#111" stroke-width="0.8"/>
<line x1="209.90" y1="564.23" x2="211.90" y2="564.23" stroke="#111" stroke-width="0.8"/>
<line x1="209.90" y1="563.17" x2="211.90" y2="563.17" stroke="#111" stroke-width="0.8"/>
<line x1="209.90" y1="562.28" x2="211.90" y2="562.28" stroke="#111" stroke-width="0.8"/>
<line x1="209.90" y1="561.50" x2="211.90" y2="561.50" stroke="#111" stroke-width="0.8"/>
<line x1="209.90" y1="560.81" x2="211.90" y2="560.81" stroke="#111" stroke-width="0.8"/>
<line x1="209.10" y1="560.20" x2="211.90" y2="560.20" stroke="#111" stroke-width="0.8"/>
<line x1="209.90" y1="556.17" x2="211.90" y2="556.17" stroke="#111" stroke-width="0.8"/>
<line x1="209.90" y1="553.81" x2="211.90" y2="553.81" stroke="#111" stroke-width="0.8"/>
<line x1="209.90" y1="552.13" x2="211.90" y2="552.13" stroke="#111" stroke-width="0.8"/>
<line x1="209.90" y1="550.83" x2="211.90" y2="550.83" stroke="#111" stroke-width="0.8"/>
<line x1="209.90" y1="549.77" x2="211.90" y2="549.77" stroke="#111" stroke-width="0.8"/>
<line x1="209.90" y1="548.88" x2="211.90" y2="548.88" stroke="#111" stroke-width="0.8"/>
<line x1="209.90" y1="548.10" x2="211.90" y2="548.10" stroke="#111" stroke-width="0.8"/>
<line x1="209.90" y1="547.41" x2="211.90" y2="547.41" stroke="#111" stroke-width="0.8"/>
<line x1="209.10" y1="546.80" x2="211.90" y2="546.80" stroke="#111" stroke-width="0.8"/>
<line x1="209.90" y1="542.77" x2="211.90" y2="542.77" stroke="#111" stroke-width="0.8"/>
<line x1="209.90" y1="540.41" x2="211.90" y2="540.41" stroke="#111" stroke-width="0.8"/>
<line x1="209.90" y1="538.73" x2="211.90" y2="538.73" stroke="#111" stroke-width="0.8"/>
<line x1="209.90" y1="537.43" x2="211.90" y2="537.43" stroke="#111" stroke-width="0.8"/>
<line x1="209.90" y1="536.37" x2="211.90" y2="536.37" stroke="#111" stroke-width="0.8"/>
<line x1="209.90" y1="535.48" x2="211.90" y2="535.48" stroke="#111" stroke-width="0.8"/>
<line x1="209.90" y1="534.70" x2="211.90" y2="534.70" stroke="#111" stroke-width="0.8"/>
<line x1="209.90" y1="534.01" x2="211.90" y2="534.01" stroke="#111" stroke-width="0.8"/>
<line x1="209.10" y1="533.40" x2="211.90" y2="533.40" stroke="#111" stroke-width="0.8"/>
<line x1="209.90" y1="529.37" x2="211.90" y2="529.37" stroke="#111" stroke-width="0.8"/>
<line x1="209.90" y1="527.01" x2="211.90" y2="527.01" stroke="#111" stroke-width="0.8"/>
<line x1="209.90" y1="525.33" x2="211.90" y2="525.33" stroke="#111" stroke-width="0.8"/>
<line x1="209.90" y1="524.03" x2="211.90" y2="524.03" stroke="#111" stroke-width="0.8"/>
<line x1="209.90" y1="522.97" x2="211.90" y2="522.97" stroke="#111" stroke-width="0.8"/>
<line x1="209.90" y1="522.08" x2="211.90" y2="522.08" stroke="#111" stroke-width="0.8"/>
<line x1="209.90" y1="521.30" x2="211.90" y2="521.30" stroke="#111" stroke-width="0.8"/>
<line x1="209.90" y1="520.61" x2="211.90" y2="520.61" stroke="#111" stroke-width="0.8"/>
<line x1="209.10" y1="520.00" x2="211.90" y2="520.00" stroke="#111" stroke-width="0.8"/>
<line x1="209.90" y1="515.97" x2="211.90" y2="515.97" stroke="#111" stroke-width="0.8"/>
<line x1="209.90" y1="513.61" x2="211.90" y2="513.61" stroke="#111" stroke-width="0.8"/>
<line x1="209.90" y1="511.93" x2="211.90" y2="511.93" stroke="#111" stroke-width="0.8"/>
<line x1="209.90" y1="510.63" x2="211.90" y2="510.63" stroke="#111" stroke-width="0.8"/>
<line x1="209.90" y1="509.57" x2="211.90" y2="509.57" stroke="#111" stroke-width="0.8"/>
<line x1="209.90" y1="508.68" x2="211.90" y2="508.68" stroke="#111" stroke-width="0.8"/>
<line x1="209.90" y1="507.90" x2="211.90" y2="507.90" stroke="#111" stroke-width="0.8"/>
<line x1="209.90" y1="507.21" x2="211.90" y2="507.21" stroke="#111" stroke-width="0.8"/>
<line x1="217.90" y1="573.60" x2="217.90" y2="576.40" stroke="#111" stroke-width="0.8"/>
<line x1="221.93" y1="573.60" x2="221.93" y2="575.60" stroke="#111" stroke-width="0.8"/>
<line x1="224.29" y1="573.60" x2="224.29" y2="575.60" stroke="#111" stroke-width="0.8"/>
<line x1="225.97" y1="573.60" x2="225.97" y2="575.60" stroke="#111" stroke-width="0.8"/>
<line x1="227.27" y1="573.60" x2="227.27" y2="575.60" stroke="#111" stroke-width="0.8"/>
<line x1="228.33" y1="573.60" x2="228.33" y2="575.60" stroke="#111" stroke-width="0.8"/>
<line x1="229.22" y1="573.60" x2="229.22" y2="575.60" stroke="#111" stroke-width="0.8"/>
<line x1="230.00" y1="573.60" x2="230.00" y2="575.60" stroke="#111" stroke-width="0.8"/>
<line x1="230.69" y1="573.60" x2="230.69" y2="575.60" stroke="#111" stroke-width="0.8"/>
<line x1="231.30" y1="573.60" x2="231.30" y2="576.40" stroke="#111" stroke-width="0.8"/>
<line x1="235.33" y1="573.60" x2="235.33" y2="575.60" stroke="#111" stroke-width="0.8"/>
<line x1="237.69" y1="573.60" x2="237.69" y2="575.60" stroke="#111" stroke-width="0.8"/>
<line x1="239.37" y1="573.60" x2="239.37" y2="575.60" stroke="#111" stroke-width="0.8"/>
<line x1="240.67" y1="573.60" x2="240.67" y2="575.60" stroke="#111" stroke-width="0.8"/>
<line x1="241.73" y1="573.60" x2="241.73" y2="575.60" stroke="#111" stroke-width="0.8"/>
<line x1="242.62" y1="573.60" x2="242.62" y2="575.60" stroke="#111" stroke-width="0.8"/>
<line x1="243.40" y1="573.60" x2="243.40" y2="575.60" stroke="#111" stroke-width="0.8"/>
<line x1="244.09" y1="573.60" x2="244.09" y2="575.60" stroke="#111" stroke-width="0.8"/>
<line x1="244.70" y1="573.60" x2="244.70" y2="576.40" stroke="#111" stroke-width="0.8"/>
<line x1="248.73" y1="573.60" x2="248.73" y2="575.60" stroke="#111" stroke-width="0.8"/>
<line x1="251.09" y1="573.60" x2="251.09" y2="575.60" stroke="#111" stroke-width="0.8"/>
<line x1="252.77" y1="573.60" x2="252.77" y2="575.60" stroke="#111" stroke-width="0.8"/>
<line x1="254.07" y1="573.60" x2="254.07" y2="575.60" stroke="#111" stroke-width="0.8"/>
<line x1="255.13" y1="573.60" x2="255.13" y2="575.60" stroke="#111" stroke-width="0.8"/>
<line x1="256.02" y1="573.60" x2="256.02" y2="575.60" stroke="#111" stroke-width="0.8"/>
<line x1="256.80" y1="573.60" x2="256.80" y2="575.60" stroke="#111" stroke-width="0.8"/>
<line x1="257.49" y1="573.60" x2="257.49" y2="575.60" stroke="#111" stroke-width="0.8"/>
<line x1="258.10" y1="573.60" x2="258.10" y2="576.40" stroke="#111" stroke-width="0.8"/>
<line x1="262.13" y1="573.60" x2="262.13" y2="575.60" stroke="#111" stroke-width="0.8"/>
<line x1="264.49" y1="573.60" x2="264.49" y2="575.60" stroke="#111" stroke-width="0.8"/>
<line x1="266.17" y1="573.60" x2="266.17" y2="575.60" stroke="#111" stroke-width="0.8"/>
<line x1="267.47" y1="573.60" x2="267.47" y2="575.60" stroke="#111" stroke-width="0.8"/>
<line x1="268.53" y1="573.60" x2="268.53" y2="575.60" stroke="#111" stroke-width="0.8"/>
<line x1="269.42" y1="573.60" x2="269.42" y2="575.60" stroke="#111" stroke-width="0.8"/>
<line x1="270.20" y1="573.60" x2="270.20" y2="575.60" stroke="#111" stroke-width="0.8"/>
<line x1="270.89" y1="573.60" x2="270.89" y2="575.60" stroke="#111" stroke-width="0.8"/>
<line x1="271.50" y1="573.60" x2="271.50" y2="576.40" stroke="#111" stroke-width="0.8"/>
<line x1="275.53" y1="573.60" x2="275.53" y2="575.60" stroke="#111" stroke-width="0.8"/>
<line x1="277.89" y1="573.60" x2="277.89" y2="575.60" stroke="#111" stroke-width="0.8"/>
<line x1="279.57" y1="573.60" x2="279.57" y2="575.60" stroke="#111" stroke-width="0.8"/>
<line x1="280.87" y1="573.60" x2="280.87" y2="575.60" stroke="#111" stroke-width="0.8"/>
<line x1="281.93" y1="573.60" x2="281.93" y2="575.60" stroke="#111" stroke-width="0.8"/>
<line x1="282.82" y1="573.60" x2="282.82" y2="575.60" stroke="#111" stroke-width="0.8"/>
<rect x="226.9" y="573.6" width="2.8" height="2.2" fill="#222"/>
<text x="247.1" y="497" font-size="7.5" text-anchor="middle" fill="#1a1a1a" color="#1a1a1a">Spleen</text>
<text x="316.6" y="307" font-size="11" fill="#000" color="#000">E</text>
<clipPath id="cpE1"><rect x="327.0" y="331.9" width="133.8" height="101.70000000000005"/></clipPath>
<g clip-path="url(#cpE1)">
<rect x="327.0" y="331.9" width="133.8" height="101.70000000000005" fill="#fcf8fc"/>
<ellipse cx="335.2" cy="357.5" rx="5.2" ry="6.5" transform="rotate(15 335.2 357.5)" fill="#ddd0dc" stroke="#76627a" stroke-width="0.75"/>
<ellipse cx="335.59999999999997" cy="357.8" rx="2.60" ry="3.25" transform="rotate(15 335.2 357.5)" fill="#eee6ee"/>
<ellipse cx="328.6" cy="345.7" rx="3" ry="3.5" transform="rotate(0 328.6 345.7)" fill="#ddd0dc" stroke="#76627a" stroke-width="0.75"/>
<ellipse cx="329.0" cy="346.0" rx="1.50" ry="1.75" transform="rotate(0 328.6 345.7)" fill="#eee6ee"/>
<ellipse cx="343" cy="351" rx="6.3" ry="5.8" transform="rotate(0 343 351)" fill="#b3a6b3" stroke="#5a4c60" stroke-width="0.75"/>
<ellipse cx="343.4" cy="351.3" rx="3.15" ry="2.90" transform="rotate(0 343 351)" fill="#c6bcc6"/>
<ellipse cx="360" cy="351" rx="5.8" ry="7.6" transform="rotate(10 360 351)" fill="#ddd0dc" stroke="#76627a" stroke-width="0.75"/>
<ellipse cx="360.4" cy="351.3" rx="2.90" ry="3.80" transform="rotate(10 360 351)" fill="#eee6ee"/>
<ellipse cx="374.4" cy="341.8" rx="6.5" ry="6.5" transform="rotate(0 374.4 341.8)" fill="#ddd0dc" stroke="#76627a" stroke-width="0.75"/>
<ellipse cx="374.79999999999995" cy="342.1" rx="3.25" ry="3.25" transform="rotate(0 374.4 341.8)" fill="#eee6ee"/>
<ellipse cx="384.8" cy="336.5" rx="6.5" ry="6.5" transform="rotate(0 384.8 336.5)" fill="#ddd0dc" stroke="#76627a" stroke-width="0.75"/>
<ellipse cx="385.2" cy="336.8" rx="3.25" ry="3.25" transform="rotate(0 384.8 336.5)" fill="#eee6ee"/>
<ellipse cx="373" cy="357.5" rx="8.4" ry="6.5" transform="rotate(0 373 357.5)" fill="#d3c9d6" stroke="#4e4460" stroke-width="0.75"/>
<ellipse cx="373.4" cy="357.8" rx="4.20" ry="3.25" transform="rotate(0 373 357.5)" fill="#f2eef4"/>
<ellipse cx="414.9" cy="336.5" rx="4" ry="4.5" transform="rotate(0 414.9 336.5)" fill="#cbc4cc" stroke="#8a8090" stroke-width="0.75"/>
<ellipse cx="415.29999999999995" cy="336.8" rx="2.00" ry="2.25" transform="rotate(0 414.9 336.5)" fill="#eee6ee"/>
<ellipse cx="403.1" cy="357.5" rx="5.2" ry="6.5" transform="rotate(0 403.1 357.5)" fill="#ddd0dc" stroke="#76627a" stroke-width="0.75"/>
<ellipse cx="403.5" cy="357.8" rx="2.60" ry="3.25" transform="rotate(0 403.1 357.5)" fill="#eee6ee"/>
<ellipse cx="414.9" cy="356.2" rx="5.8" ry="5.8" transform="rotate(0 414.9 356.2)" fill="#b3a6b3" stroke="#5a4c60" stroke-width="0.75"/>
<ellipse cx="415.29999999999995" cy="356.5" rx="2.90" ry="2.90" transform="rotate(0 414.9 356.2)" fill="#c3b8c3"/>
<ellipse cx="448.9" cy="333.5" rx="5.5" ry="4" transform="rotate(0 448.9 333.5)" fill="#ddd0dc" stroke="#76627a" stroke-width="0.75"/>
<ellipse cx="449.29999999999995" cy="333.8" rx="2.75" ry="2.00" transform="rotate(0 448.9 333.5)" fill="#eee6ee"/>
<ellipse cx="450.2" cy="349.6" rx="6.5" ry="6.5" transform="rotate(0 450.2 349.6)" fill="#ddd0dc" stroke="#76627a" stroke-width="0.75"/>
<ellipse cx="450.59999999999997" cy="349.90000000000003" rx="3.25" ry="3.25" transform="rotate(0 450.2 349.6)" fill="#eee6ee"/>
<ellipse cx="330" cy="382" rx="4.5" ry="7" transform="rotate(0 330 382)" fill="#ddd0dc" stroke="#76627a" stroke-width="0.75"/>
<ellipse cx="330.4" cy="382.3" rx="2.25" ry="3.50" transform="rotate(0 330 382)" fill="#eee6ee"/>
<ellipse cx="365.2" cy="378.4" rx="6.5" ry="6.5" transform="rotate(0 365.2 378.4)" fill="#ddd0dc" stroke="#76627a" stroke-width="0.75"/>
<ellipse cx="365.59999999999997" cy="378.7" rx="3.25" ry="3.25" transform="rotate(0 365.2 378.4)" fill="#eee6ee"/>
<ellipse cx="360" cy="392.8" rx="6.5" ry="6.5" transform="rotate(0 360 392.8)" fill="#ddd0dc" stroke="#76627a" stroke-width="0.75"/>
<ellipse cx="360.4" cy="393.1" rx="3.25" ry="3.25" transform="rotate(0 360 392.8)" fill="#eee6ee"/>
<ellipse cx="374.4" cy="391.5" rx="5.8" ry="5.8" transform="rotate(0 374.4 391.5)" fill="#ddd0dc" stroke="#76627a" stroke-width="0.75"/>
<ellipse cx="374.79999999999995" cy="391.8" rx="2.90" ry="2.90" transform="rotate(0 374.4 391.5)" fill="#eee6ee"/>
<ellipse cx="345.6" cy="398" rx="7.3" ry="7.3" transform="rotate(0 345.6 398)" fill="#ddd0dc" stroke="#76627a" stroke-width="0.75"/>
<ellipse cx="346.0" cy="398.3" rx="3.65" ry="3.65" transform="rotate(0 345.6 398)" fill="#eee6ee"/>
<ellipse cx="417.5" cy="394" rx="5.8" ry="5.8" transform="rotate(0 417.5 394)" fill="#b3a6b3" stroke="#5a4c60" stroke-width="0.75"/>
<ellipse cx="417.9" cy="394.3" rx="2.90" ry="2.90" transform="rotate(0 417.5 394)" fill="#c3b8c3"/>
<ellipse cx="428" cy="390.1" rx="5.8" ry="5.6" transform="rotate(0 428 390.1)" fill="#c8bec8" stroke="#6e6070" stroke-width="0.75"/>
<ellipse cx="428.4" cy="390.40000000000003" rx="2.90" ry="2.80" transform="rotate(0 428 390.1)" fill="#d8d0d8"/>
<ellipse cx="396.6" cy="408.5" rx="6.5" ry="6.5" transform="rotate(0 396.6 408.5)" fill="#ddd0dc" stroke="#76627a" stroke-width="0.75"/>
<ellipse cx="397.0" cy="408.8" rx="3.25" ry="3.25" transform="rotate(0 396.6 408.5)" fill="#eee6ee"/>
<ellipse cx="412.3" cy="409.8" rx="6.5" ry="6.5" transform="rotate(0 412.3 409.8)" fill="#ddd0dc" stroke="#76627a" stroke-width="0.75"/>
<ellipse cx="412.7" cy="410.1" rx="3.25" ry="3.25" transform="rotate(0 412.3 409.8)" fill="#eee6ee"/>
<ellipse cx="437.1" cy="404.5" rx="7.3" ry="7.3" transform="rotate(0 437.1 404.5)" fill="#ddd0dc" stroke="#76627a" stroke-width="0.75"/>
<ellipse cx="437.5" cy="404.8" rx="3.65" ry="3.65" transform="rotate(0 437.1 404.5)" fill="#eee6ee"/>
<ellipse cx="448.9" cy="409.8" rx="6.5" ry="6.5" transform="rotate(0 448.9 409.8)" fill="#ddd0dc" stroke="#76627a" stroke-width="0.75"/>
<ellipse cx="449.29999999999995" cy="410.1" rx="3.25" ry="3.25" transform="rotate(0 448.9 409.8)" fill="#eee6ee"/>
<ellipse cx="397.9" cy="421.5" rx="7.3" ry="4.7" transform="rotate(0 397.9 421.5)" fill="#ddd0dc" stroke="#76627a" stroke-width="0.75"/>
<ellipse cx="398.29999999999995" cy="421.8" rx="3.65" ry="2.35" transform="rotate(0 397.9 421.5)" fill="#eee6ee"/>
<ellipse cx="335.2" cy="418.9" rx="7.3" ry="7.3" transform="rotate(0 335.2 418.9)" fill="#ddd0dc" stroke="#76627a" stroke-width="0.75"/>
<ellipse cx="335.59999999999997" cy="419.2" rx="3.65" ry="3.65" transform="rotate(0 335.2 418.9)" fill="#eee6ee"/>
<ellipse cx="433.2" cy="431" rx="7" ry="6" transform="rotate(0 433.2 431)" fill="#ddd0dc" stroke="#76627a" stroke-width="0.75"/>
<ellipse cx="433.59999999999997" cy="431.3" rx="3.50" ry="3.00" transform="rotate(0 433.2 431)" fill="#eee6ee"/>
<ellipse cx="330" cy="431" rx="4.5" ry="4.5" transform="rotate(0 330 431)" fill="#ddd0dc" stroke="#76627a" stroke-width="0.75"/>
<ellipse cx="330.4" cy="431.3" rx="2.25" ry="2.25" transform="rotate(0 330 431)" fill="#eee6ee"/>
<ellipse cx="459.5" cy="399" rx="2.5" ry="6" transform="rotate(0 459.5 399)" fill="#ddd0dc" stroke="#76627a" stroke-width="0.75"/>
<ellipse cx="459.9" cy="399.3" rx="1.25" ry="3.00" transform="rotate(0 459.5 399)" fill="#eee6ee"/>
<ellipse cx="459.5" cy="420" rx="2.2" ry="5" transform="rotate(0 459.5 420)" fill="#ddd0dc" stroke="#76627a" stroke-width="0.75"/>
<ellipse cx="459.9" cy="420.3" rx="1.10" ry="2.50" transform="rotate(0 459.5 420)" fill="#eee6ee"/>
<ellipse cx="350.8" cy="430.5" rx="8" ry="4.5" fill="#a79ad0" stroke="#6c5ea0" stroke-width="0.7"/>
<circle cx="349.00" cy="358.20" r="1.8" fill="#4b2f8a"/>
<circle cx="361.30" cy="340.50" r="1.6" fill="#4b2f8a"/>
<circle cx="373.00" cy="369.20" r="1.7" fill="#4b2f8a"/>
<circle cx="395.30" cy="341.80" r="1.8" fill="#4b2f8a"/>
<circle cx="455.40" cy="363.50" r="1.4" fill="#4b2f8a"/>
<circle cx="336.50" cy="394.00" r="1.6" fill="#4b2f8a"/>
<circle cx="361.30" cy="403.20" r="2.0" fill="#4b2f8a"/>
<circle cx="360.00" cy="416.30" r="1.6" fill="#4b2f8a"/>
<circle cx="423.30" cy="409.80" r="1.9" fill="#4b2f8a"/>
<ellipse cx="347" cy="383.6" rx="11.8" ry="11.3" fill="#ddd2f0"/>
<ellipse cx="347" cy="383.6" rx="11" ry="10.5" fill="#c4b0e2"/>
<ellipse cx="342.5" cy="380.6" rx="4" ry="4.5" transform="rotate(0 342.5 380.6)" fill="#4a2aa2"/>
<ellipse cx="349.5" cy="378.6" rx="4.5" ry="3.2" transform="rotate(20 349.5 378.6)" fill="#4a2aa2"/>
<ellipse cx="343" cy="388.1" rx="4.8" ry="3.6" transform="rotate(-10 343 388.1)" fill="#4a2aa2"/>
<ellipse cx="351.5" cy="386.1" rx="3.5" ry="4" transform="rotate(0 351.5 386.1)" fill="#4a2aa2"/>
<ellipse cx="347.5" cy="384.1" rx="2" ry="2" transform="rotate(0 347.5 384.1)" fill="#4a2aa2"/>
<ellipse cx="441" cy="364" rx="11.8" ry="12.200000000000001" fill="#ddd2f0"/>
<ellipse cx="441" cy="364" rx="11" ry="11.4" fill="#c4b0e2"/>
<ellipse cx="436" cy="360" rx="4" ry="4.8" transform="rotate(0 436 360)" fill="#4a2aa2"/>
<ellipse cx="444" cy="357.5" rx="5" ry="3.2" transform="rotate(10 444 357.5)" fill="#4a2aa2"/>
<ellipse cx="447" cy="365" rx="3.5" ry="4.5" transform="rotate(0 447 365)" fill="#4a2aa2"/>
<ellipse cx="437.5" cy="369.5" rx="5" ry="3.4" transform="rotate(-15 437.5 369.5)" fill="#4a2aa2"/>
<ellipse cx="444" cy="371" rx="3" ry="2.2" transform="rotate(0 444 371)" fill="#4a2aa2"/>
<ellipse cx="404.5" cy="386.2" rx="13.100000000000001" ry="12.3" fill="#c9c4e4"/>
<ellipse cx="404.5" cy="386.2" rx="12.3" ry="11.5" fill="#9b85d8"/>
<ellipse cx="400.0" cy="384.7" rx="5.3" ry="7.5" transform="rotate(8 400.0 384.7)" fill="#5a38b4"/>
<ellipse cx="409.0" cy="385.7" rx="5.3" ry="7.8" transform="rotate(-8 409.0 385.7)" fill="#5a38b4"/>
<ellipse cx="363" cy="432.5" rx="5.8" ry="4.3" fill="#ddd2f0"/>
<ellipse cx="363" cy="432.5" rx="5" ry="3.5" fill="#c4b0e2"/>
<ellipse cx="363" cy="432.5" rx="4" ry="2.8" transform="rotate(0 363 432.5)" fill="#4a2aa2"/>
<path d="M401.8 369.1 L407.4 369.1 L404.6 373.4 Z" fill="#111"/>
</g>
<text x="330.6" y="341.4" font-size="7.5" fill="#333" color="#333">PB</text>
<line x1="399.20" y1="427.40" x2="455.60" y2="427.40" stroke="#1a1a1a" stroke-width="1.6"/>
<clipPath id="cpE2"><rect x="327.0" y="439.0" width="133.8" height="120.20000000000005"/></clipPath>
<g clip-path="url(#cpE2)">
<rect x="327.0" y="439.0" width="133.8" height="120.20000000000005" fill="#eef3e2"/>
<ellipse cx="333" cy="508" rx="12" ry="18" fill="#e4dcec"/>
<ellipse cx="353" cy="457" rx="8" ry="10" fill="#d6d2e8"/>
<ellipse cx="374" cy="465" rx="8" ry="6" fill="#d9d5ea"/>
<ellipse cx="440" cy="470" rx="7" ry="5" fill="#d9d5ea"/>
<filter id="tex" x="0" y="0" width="100%" height="100%" filterUnits="userSpaceOnUse"><feTurbulence type="fractalNoise" baseFrequency="0.28" numOctaves="2" seed="4" result="n"/><feColorMatrix in="n" type="matrix" values="0 0 0 0 0.25  0 0 0 0 0.13  0 0 0 0 0.52  2.0 0 0 0 -0.85" result="dk"/><feColorMatrix in="n" type="matrix" values="0 0 0 0 0.58  0 0 0 0 0.48  0 0 0 0 0.82  0 -1.6 0 0 0.55" result="lt"/><feComposite in="dk" in2="SourceGraphic" operator="in" result="dk2"/><feComposite in="lt" in2="SourceGraphic" operator="in" result="lt2"/><feMerge><feMergeNode in="SourceGraphic"/><feMergeNode in="dk2"/><feMergeNode in="lt2"/></feMerge></filter>
<ellipse cx="330" cy="467.4" rx="7.6" ry="15.6" fill="#b3b0d8"/>
<ellipse cx="344.3" cy="461.5" rx="13.6" ry="11.1" fill="#b3b0d8"/>
<ellipse cx="369.1" cy="476.5" rx="11.6" ry="12.1" fill="#b3b0d8"/>
<ellipse cx="384.8" cy="484.4" rx="11.6" ry="12.1" fill="#b3b0d8"/>
<ellipse cx="400.5" cy="488.3" rx="11.6" ry="12.1" fill="#b3b0d8"/>
<ellipse cx="412.3" cy="471.3" rx="13.1" ry="12.6" fill="#b3b0d8"/>
<ellipse cx="416.2" cy="490.9" rx="11.6" ry="9.6" fill="#b3b0d8"/>
<ellipse cx="433.2" cy="475.2" rx="12.6" ry="12.6" fill="#b3b0d8"/>
<ellipse cx="446.3" cy="458.2" rx="13.6" ry="14.1" fill="#b3b0d8"/>
<ellipse cx="443.7" cy="492.2" rx="13.1" ry="13.1" fill="#b3b0d8"/>
<ellipse cx="370.5" cy="502.7" rx="11.6" ry="12.6" fill="#b3b0d8"/>
<ellipse cx="360" cy="522.3" rx="13.6" ry="14.1" fill="#b3b0d8"/>
<ellipse cx="384.8" cy="513.1" rx="13.6" ry="13.1" fill="#b3b0d8"/>
<ellipse cx="438.4" cy="514.5" rx="12.6" ry="13.1" fill="#b3b0d8"/>
<ellipse cx="456.4" cy="526.2" rx="10.6" ry="12.6" fill="#b3b0d8"/>
<ellipse cx="379.6" cy="532.8" rx="12.6" ry="12.6" fill="#b3b0d8"/>
<ellipse cx="396.6" cy="526.2" rx="12.6" ry="12.6" fill="#b3b0d8"/>
<ellipse cx="413.6" cy="534.1" rx="12.6" ry="12.6" fill="#b3b0d8"/>
<ellipse cx="425.4" cy="540.6" rx="13.6" ry="13.6" fill="#b3b0d8"/>
<ellipse cx="341.7" cy="539.3" rx="13.6" ry="13.6" fill="#b3b0d8"/>
<ellipse cx="362.6" cy="551.1" rx="13.6" ry="12.1" fill="#b3b0d8"/>
<ellipse cx="328.6" cy="551.1" rx="7.1" ry="12.6" fill="#b3b0d8"/>
<ellipse cx="349.5" cy="487" rx="20.5" ry="22" fill="#aab0d8"/>
<ellipse cx="416.2" cy="511.8" rx="19.5" ry="18" fill="#aab0d8"/>
<g filter="url(#tex)">
<ellipse cx="330" cy="467.4" rx="6.2" ry="14.2" fill="#6244b4" stroke="#cfcde6" stroke-width="0.7"/>
<ellipse cx="344.3" cy="461.5" rx="12.2" ry="9.7" fill="#6244b4" stroke="#cfcde6" stroke-width="0.7"/>
<ellipse cx="369.1" cy="476.5" rx="10.2" ry="10.7" fill="#6244b4" stroke="#cfcde6" stroke-width="0.7"/>
<ellipse cx="384.8" cy="484.4" rx="10.2" ry="10.7" fill="#6244b4" stroke="#cfcde6" stroke-width="0.7"/>
<ellipse cx="400.5" cy="488.3" rx="10.2" ry="10.7" fill="#6244b4" stroke="#cfcde6" stroke-width="0.7"/>
<ellipse cx="412.3" cy="471.3" rx="11.7" ry="11.2" fill="#6244b4" stroke="#cfcde6" stroke-width="0.7"/>
<ellipse cx="416.2" cy="490.9" rx="10.2" ry="8.2" fill="#6244b4" stroke="#cfcde6" stroke-width="0.7"/>
<ellipse cx="433.2" cy="475.2" rx="11.2" ry="11.2" fill="#6244b4" stroke="#cfcde6" stroke-width="0.7"/>
<ellipse cx="446.3" cy="458.2" rx="12.2" ry="12.7" fill="#6244b4" stroke="#cfcde6" stroke-width="0.7"/>
<ellipse cx="443.7" cy="492.2" rx="11.7" ry="11.7" fill="#6244b4" stroke="#cfcde6" stroke-width="0.7"/>
<ellipse cx="370.5" cy="502.7" rx="10.2" ry="11.2" fill="#6244b4" stroke="#cfcde6" stroke-width="0.7"/>
<ellipse cx="360" cy="522.3" rx="12.2" ry="12.7" fill="#6244b4" stroke="#cfcde6" stroke-width="0.7"/>
<ellipse cx="384.8" cy="513.1" rx="12.2" ry="11.7" fill="#6244b4" stroke="#cfcde6" stroke-width="0.7"/>
<ellipse cx="438.4" cy="514.5" rx="11.2" ry="11.7" fill="#6244b4" stroke="#cfcde6" stroke-width="0.7"/>
<ellipse cx="456.4" cy="526.2" rx="9.2" ry="11.2" fill="#6244b4" stroke="#cfcde6" stroke-width="0.7"/>
<ellipse cx="379.6" cy="532.8" rx="11.2" ry="11.2" fill="#6244b4" stroke="#cfcde6" stroke-width="0.7"/>
<ellipse cx="396.6" cy="526.2" rx="11.2" ry="11.2" fill="#6244b4" stroke="#cfcde6" stroke-width="0.7"/>
<ellipse cx="413.6" cy="534.1" rx="11.2" ry="11.2" fill="#6244b4" stroke="#cfcde6" stroke-width="0.7"/>
<ellipse cx="425.4" cy="540.6" rx="12.2" ry="12.2" fill="#6244b4" stroke="#cfcde6" stroke-width="0.7"/>
<ellipse cx="341.7" cy="539.3" rx="12.2" ry="12.2" fill="#6244b4" stroke="#cfcde6" stroke-width="0.7"/>
<ellipse cx="362.6" cy="551.1" rx="12.2" ry="10.7" fill="#6244b4" stroke="#cfcde6" stroke-width="0.7"/>
<ellipse cx="328.6" cy="551.1" rx="5.7" ry="11.2" fill="#6244b4" stroke="#cfcde6" stroke-width="0.7"/>
<ellipse cx="349.5" cy="487" rx="18.2" ry="19.8" fill="#6a88c8"/>
<ellipse cx="349.5" cy="487" rx="17.2" ry="18.8" fill="#5f46b2"/>
<ellipse cx="416.2" cy="511.8" rx="17.2" ry="15.7" fill="#6a88c8"/>
<ellipse cx="416.2" cy="511.8" rx="16.2" ry="14.7" fill="#5f46b2"/>
</g>
<ellipse cx="384.8" cy="484.4" rx="3.12" ry="3.64" fill="#cdc4e2"/>
<ellipse cx="412.3" cy="471.3" rx="3.64" ry="4.16" fill="#cdc4e2"/>
<ellipse cx="446.3" cy="458.2" rx="4.16" ry="4.94" fill="#cdc4e2"/>
<ellipse cx="443.7" cy="491.7" rx="3.90" ry="4.68" fill="#cdc4e2"/>
<ellipse cx="370.5" cy="502.7" rx="1.04" ry="3.90" fill="#cdc4e2"/>
<ellipse cx="384.8" cy="513.1" rx="3.64" ry="2.86" fill="#cdc4e2"/>
<ellipse cx="438.4" cy="514.5" rx="2.86" ry="3.64" fill="#cdc4e2"/>
<ellipse cx="456.4" cy="526.2" rx="2.34" ry="3.25" fill="#cdc4e2"/>
<ellipse cx="425.4" cy="540.6" rx="3.25" ry="3.25" fill="#cdc4e2"/>
<ellipse cx="341.7" cy="539.3" rx="3.25" ry="3.90" fill="#cdc4e2"/>
<ellipse cx="362.6" cy="551.1" rx="3.38" ry="2.86" fill="#cdc4e2"/>
<circle cx="434.50" cy="551.10" r="2.3" fill="#2a2040"/>
<circle cx="339.00" cy="551.00" r="1.8" fill="#8a9080"/>
<path d="M346.7 464.4 L352.5 464.4 L349.6 468.8 Z" fill="#fff"/>
<path d="M413.3 489.2 L419.1 489.2 L416.2 493.6 Z" fill="#fff"/>
</g>
<rect x="327.0" y="439.0" width="18.2" height="12.6" fill="#ffffff"/>
<text x="329.4" y="448.6" font-size="7.5" fill="#1a1a1a" color="#1a1a1a">BM</text>
<line x1="438.80" y1="553.90" x2="459.20" y2="553.90" stroke="#111" stroke-width="1.6"/>
<line x1="56.30" y1="612.70" x2="56.30" y2="702.60" stroke="#1c1c1c" stroke-width="1.3"/>
<line x1="55.70" y1="702.00" x2="201.80" y2="702.00" stroke="#1c1c1c" stroke-width="1.3"/>
<line x1="53.60" y1="702.00" x2="56.30" y2="702.00" stroke="#1c1c1c" stroke-width="1.1"/>
<text x="50.2" y="704.5" font-size="7.5" text-anchor="end" fill="#1a1a1a" color="#1a1a1a">0</text>
<line x1="53.60" y1="658.82" x2="56.30" y2="658.82" stroke="#1c1c1c" stroke-width="1.1"/>
<text x="50.2" y="661.32" font-size="7.5" text-anchor="end" fill="#1a1a1a" color="#1a1a1a">50</text>
<line x1="53.60" y1="615.64" x2="56.30" y2="615.64" stroke="#1c1c1c" stroke-width="1.1"/>
<text x="50.2" y="618.14" font-size="7.5" text-anchor="end" fill="#1a1a1a" color="#1a1a1a">100</text>
<line x1="56.40" y1="702.00" x2="56.40" y2="704.80" stroke="#1c1c1c" stroke-width="1.0"/>
<text x="56.4" y="715.4" font-size="7.5" text-anchor="middle" fill="#1a1a1a" color="#1a1a1a">0</text>
<line x1="80.20" y1="702.00" x2="80.20" y2="704.80" stroke="#1c1c1c" stroke-width="1.0"/>
<text x="80.19999999999999" y="715.4" font-size="7.5" text-anchor="middle" fill="#1a1a1a" color="#1a1a1a">20</text>
<line x1="104.00" y1="702.00" x2="104.00" y2="704.80" stroke="#1c1c1c" stroke-width="1.0"/>
<text x="104.0" y="715.4" font-size="7.5" text-anchor="middle" fill="#1a1a1a" color="#1a1a1a">40</text>
<line x1="127.80" y1="702.00" x2="127.80" y2="704.80" stroke="#1c1c1c" stroke-width="1.0"/>
<text x="127.79999999999998" y="715.4" font-size="7.5" text-anchor="middle" fill="#1a1a1a" color="#1a1a1a">60</text>
<line x1="151.60" y1="702.00" x2="151.60" y2="704.80" stroke="#1c1c1c" stroke-width="1.0"/>
<text x="151.6" y="715.4" font-size="7.5" text-anchor="middle" fill="#1a1a1a" color="#1a1a1a">80</text>
<line x1="175.40" y1="702.00" x2="175.40" y2="704.80" stroke="#1c1c1c" stroke-width="1.0"/>
<text x="175.4" y="715.4" font-size="7.5" text-anchor="middle" fill="#1a1a1a" color="#1a1a1a">100</text>
<line x1="199.20" y1="702.00" x2="199.20" y2="704.80" stroke="#1c1c1c" stroke-width="1.0"/>
<text x="199.2" y="715.4" font-size="7.5" text-anchor="middle" fill="#1a1a1a" color="#1a1a1a">120</text>
<text x="0" y="0" font-size="9" text-anchor="middle" textLength="48.5" lengthAdjust="spacingAndGlyphs" fill="#1a1a1a" color="#1a1a1a" transform="translate(31.7,657.7) rotate(-90)">Survival (%)</text>
<text x="129.2" y="729.1" font-size="9" text-anchor="middle" textLength="61.2" lengthAdjust="spacingAndGlyphs" fill="#1a1a1a" color="#1a1a1a">Days post-BMT</text>
<path d="M106.5 615.7 V632.8 H134.7 V649.6 H135.9 V667.4 H150.2 V685.2 H187 V702" stroke="#6aab45" stroke-width="1.3" fill="none"/>
<line x1="56.30" y1="615.70" x2="199.40" y2="615.70" stroke="#2f5597" stroke-width="1.25"/>
<path d="M56.3 615.7 H106.5" stroke="#6aab45" stroke-width="1.25" fill="none" stroke-dasharray="1 6" stroke-dashoffset="-3"/>
<path d="M106.5 615.7 H199.2" stroke="#c0143c" stroke-width="1.25" fill="none" stroke-dasharray="1.2 5.8" stroke-dashoffset="-1"/>
<path d="M106.5 615.7 H199.2" stroke="#f0a01e" stroke-width="1.25" fill="none" stroke-dasharray="1.2 5.8" stroke-dashoffset="-4.5"/>
<line x1="187.40" y1="613.60" x2="187.40" y2="615.70" stroke="#333" stroke-width="0.8"/>
<text x="104.2" y="662" font-size="7.5" textLength="27.8" lengthAdjust="spacingAndGlyphs" fill="#1a1a1a" color="#1a1a1a">DKO LSK</text>
<line x1="151.00" y1="623.80" x2="161.10" y2="623.80" stroke="#2f5597" stroke-width="1.4"/>
<path d="M156 622.5 l-1 1.6 h2 z" fill="#222"/>
<text x="166.9" y="626.5" font-size="7.5" textLength="24.4" lengthAdjust="spacingAndGlyphs" fill="#1a1a1a" color="#1a1a1a">WT LSK</text>
<line x1="151.00" y1="634.30" x2="161.10" y2="634.30" stroke="#c0143c" stroke-width="1.4"/>
<path d="M156 633.0 l-1 1.6 h2 z" fill="#222"/>
<text x="166.9" y="637.0" font-size="7.5" textLength="28.5" lengthAdjust="spacingAndGlyphs" fill="#1a1a1a" color="#1a1a1a">WT GMP</text>
<line x1="151.00" y1="644.80" x2="161.10" y2="644.80" stroke="#f0a01e" stroke-width="1.4"/>
<path d="M156 643.5 l-1 1.6 h2 z" fill="#222"/>
<text x="166.9" y="647.5" font-size="7.5" textLength="32" lengthAdjust="spacingAndGlyphs" fill="#1a1a1a" color="#1a1a1a">DKO GMP</text>
<line x1="256.10" y1="604.60" x2="256.10" y2="702.60" stroke="#1c1c1c" stroke-width="1.3"/>
<line x1="255.50" y1="702.00" x2="397.70" y2="702.00" stroke="#1c1c1c" stroke-width="1.3"/>
<line x1="253.40" y1="702.30" x2="256.10" y2="702.30" stroke="#1c1c1c" stroke-width="1.1"/>
<text x="250.0" y="704.8000000000001" font-size="7.5" text-anchor="end" fill="#1a1a1a" color="#1a1a1a">-20</text>
<line x1="253.40" y1="688.70" x2="256.10" y2="688.70" stroke="#1c1c1c" stroke-width="1.1"/>
<text x="250.0" y="691.2" font-size="7.5" text-anchor="end" fill="#1a1a1a" color="#1a1a1a">0</text>
<line x1="253.40" y1="675.10" x2="256.10" y2="675.10" stroke="#1c1c1c" stroke-width="1.1"/>
<text x="250.0" y="677.6" font-size="7.5" text-anchor="end" fill="#1a1a1a" color="#1a1a1a">20</text>
<line x1="253.40" y1="661.50" x2="256.10" y2="661.50" stroke="#1c1c1c" stroke-width="1.1"/>
<text x="250.0" y="664.0" font-size="7.5" text-anchor="end" fill="#1a1a1a" color="#1a1a1a">40</text>
<line x1="253.40" y1="647.90" x2="256.10" y2="647.90" stroke="#1c1c1c" stroke-width="1.1"/>
<text x="250.0" y="650.4000000000001" font-size="7.5" text-anchor="end" fill="#1a1a1a" color="#1a1a1a">60</text>
<line x1="253.40" y1="634.30" x2="256.10" y2="634.30" stroke="#1c1c1c" stroke-width="1.1"/>
<text x="250.0" y="636.8000000000001" font-size="7.5" text-anchor="end" fill="#1a1a1a" color="#1a1a1a">80</text>
<line x1="253.40" y1="620.70" x2="256.10" y2="620.70" stroke="#1c1c1c" stroke-width="1.1"/>
<text x="250.0" y="623.2" font-size="7.5" text-anchor="end" fill="#1a1a1a" color="#1a1a1a">100</text>
<line x1="253.40" y1="607.10" x2="256.10" y2="607.10" stroke="#1c1c1c" stroke-width="1.1"/>
<text x="250.0" y="609.6" font-size="7.5" text-anchor="end" fill="#1a1a1a" color="#1a1a1a">120</text>
<line x1="296.50" y1="702.00" x2="296.50" y2="704.60" stroke="#1c1c1c" stroke-width="1.0"/>
<text x="296.5" y="715.1" font-size="7.5" text-anchor="middle" fill="#1a1a1a" color="#1a1a1a">4w</text>
<line x1="357.40" y1="702.00" x2="357.40" y2="704.60" stroke="#1c1c1c" stroke-width="1.0"/>
<text x="357.4" y="715.1" font-size="7.5" text-anchor="middle" fill="#1a1a1a" color="#1a1a1a">8w</text>
<text x="0" y="0" font-size="9" text-anchor="middle" textLength="105" lengthAdjust="spacingAndGlyphs" fill="#1a1a1a" color="#1a1a1a" transform="translate(230.7,653.2) rotate(-90)">Donor cell chimerism (%)</text>
<text x="326.8" y="728.4" font-size="9" text-anchor="middle" textLength="61" lengthAdjust="spacingAndGlyphs" fill="#1a1a1a" color="#1a1a1a">Days post-BMT</text>
<line x1="256.10" y1="688.60" x2="397.00" y2="688.60" stroke="#222" stroke-width="0.8" stroke-dasharray="1 1.4"/>
<line x1="296.60" y1="639.70" x2="357.50" y2="628.80" stroke="#2f5597" stroke-width="1.3"/>
<line x1="296.60" y1="637.50" x2="296.60" y2="641.90" stroke="#2f5597" stroke-width="0.9"/>
<line x1="294.80" y1="637.50" x2="298.40" y2="637.50" stroke="#2f5597" stroke-width="0.9"/>
<line x1="294.80" y1="641.90" x2="298.40" y2="641.90" stroke="#2f5597" stroke-width="0.9"/>
<circle cx="296.60" cy="639.70" r="1.8" fill="#2f5597"/>
<circle cx="357.50" cy="628.80" r="1.8" fill="#2f5597"/>
<line x1="296.60" y1="650.30" x2="357.50" y2="629.30" stroke="#6aab45" stroke-width="1.3"/>
<line x1="296.60" y1="645.00" x2="296.60" y2="655.40" stroke="#6aab45" stroke-width="0.9"/>
<line x1="294.80" y1="645.00" x2="298.40" y2="645.00" stroke="#6aab45" stroke-width="0.9"/>
<line x1="294.80" y1="655.40" x2="298.40" y2="655.40" stroke="#6aab45" stroke-width="0.9"/>
<line x1="357.50" y1="619.60" x2="357.50" y2="638.50" stroke="#6aab45" stroke-width="0.9"/>
<line x1="355.70" y1="619.60" x2="359.30" y2="619.60" stroke="#6aab45" stroke-width="0.9"/>
<line x1="355.70" y1="638.50" x2="359.30" y2="638.50" stroke="#6aab45" stroke-width="0.9"/>
<rect x="294.8" y="648.5" width="3.6" height="3.6" fill="#6aab45"/>
<rect x="355.7" y="627.5" width="3.6" height="3.6" fill="#6aab45"/>
<line x1="296.60" y1="684.20" x2="357.50" y2="687.20" stroke="#f0a01e" stroke-width="1.3"/>
<line x1="296.60" y1="676.20" x2="296.60" y2="692.30" stroke="#f0a01e" stroke-width="0.9"/>
<line x1="294.80" y1="676.20" x2="298.40" y2="676.20" stroke="#f0a01e" stroke-width="0.9"/>
<line x1="294.80" y1="692.30" x2="298.40" y2="692.30" stroke="#f0a01e" stroke-width="0.9"/>
<line x1="357.50" y1="685.00" x2="357.50" y2="689.50" stroke="#f0a01e" stroke-width="0.9"/>
<line x1="355.70" y1="685.00" x2="359.30" y2="685.00" stroke="#f0a01e" stroke-width="0.9"/>
<line x1="355.70" y1="689.50" x2="359.30" y2="689.50" stroke="#f0a01e" stroke-width="0.9"/>
<path d="M294.6 683 h4 l-2 3 z" fill="#f0a01e"/>
<path d="M355.5 685.8 h4 l-2 3 z" fill="#f0a01e"/>
<line x1="296.60" y1="687.70" x2="357.50" y2="688.90" stroke="#c0143c" stroke-width="1.3"/>
<path d="M294.6 689.2 h4 l-2 -3 z" fill="#c0143c"/>
<line x1="371.20" y1="619.60" x2="380.80" y2="619.60" stroke="#2f5597" stroke-width="1.4"/>
<circle cx="376.00" cy="619.60" r="1.7" fill="#2f5597"/>
<text x="384.6" y="622.2" font-size="7.5" textLength="26.3" lengthAdjust="spacingAndGlyphs" fill="#1a1a1a" color="#1a1a1a">WT_LSK</text>
<line x1="371.20" y1="631.20" x2="380.80" y2="631.20" stroke="#6aab45" stroke-width="1.4"/>
<rect x="374.3" y="629.5" width="3.4" height="3.4" fill="#6aab45"/>
<text x="384.6" y="633.8000000000001" font-size="7.5" textLength="30.2" lengthAdjust="spacingAndGlyphs" fill="#1a1a1a" color="#1a1a1a">DKO_LSK</text>
<line x1="371.20" y1="642.70" x2="380.80" y2="642.70" stroke="#c0143c" stroke-width="1.4"/>
<path d="M374 644.1 h4 l-2 -3 z" fill="#c0143c"/>
<text x="384.6" y="645.3000000000001" font-size="7.5" textLength="29.4" lengthAdjust="spacingAndGlyphs" fill="#1a1a1a" color="#1a1a1a">WT_GMP</text>
<line x1="371.20" y1="654.20" x2="380.80" y2="654.20" stroke="#f0a01e" stroke-width="1.4"/>
<path d="M374 652.8000000000001 h4 l-2 3 z" fill="#f0a01e"/>
<text x="384.6" y="656.8000000000001" font-size="7.5" textLength="33.3" lengthAdjust="spacingAndGlyphs" fill="#1a1a1a" color="#1a1a1a">DKO_GMP</text>
</svg>
</body></html>
